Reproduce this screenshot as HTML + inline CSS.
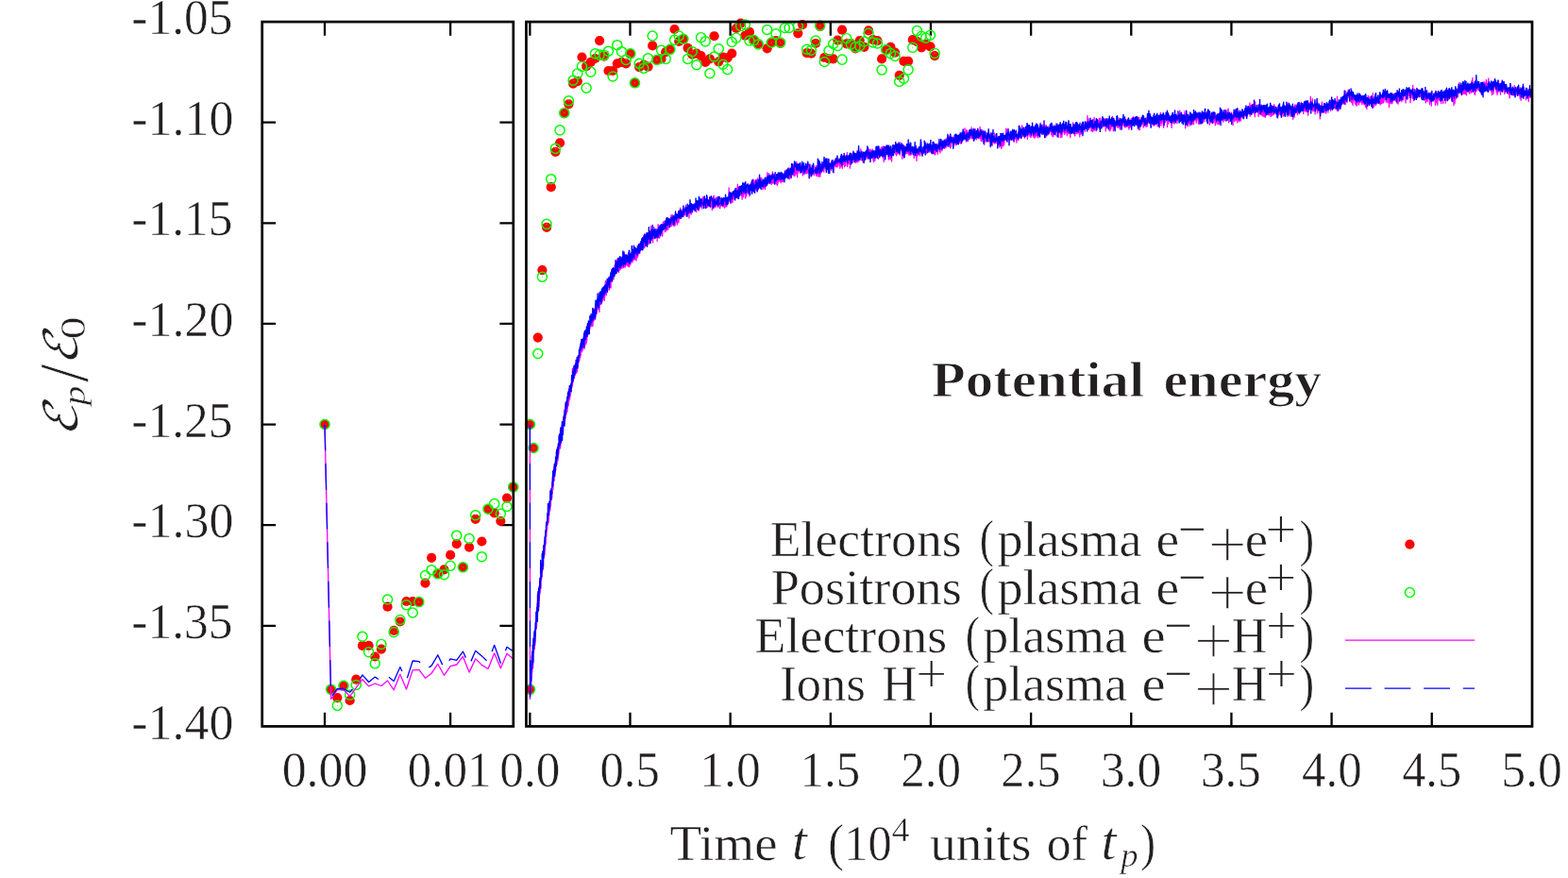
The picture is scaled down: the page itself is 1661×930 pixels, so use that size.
<!DOCTYPE html>
<html lang="en">
<head>
<meta charset="utf-8">
<title>Potential energy</title>
<style>html,body{margin:0;padding:0;background:#fff}body{width:1661px;height:930px;overflow:hidden}svg{display:block}text{vector-effect:non-scaling-stroke}</style>
</head>
<body>
<svg width="1661" height="930" viewBox="0 0 1661 930" role="img" aria-label="Potential energy versus time">
<rect width="1661" height="930" fill="#fff"/>
<path d="M277.7 129.71h14.4M543.8 129.71h-14.4M277.7 236.33h14.4M543.8 236.33h-14.4M277.7 342.94h14.4M543.8 342.94h-14.4M277.7 449.56h14.4M543.8 449.56h-14.4M277.7 556.17h14.4M543.8 556.17h-14.4M277.7 662.79h14.4M543.8 662.79h-14.4M344 23.1v14.7M344 769.4v-14.7M477.1 23.1v14.7M477.1 769.4v-14.7M561.35 23.1v14.7M561.35 769.4v-14.7M667.5 23.1v14.7M667.5 769.4v-14.7M773.66 23.1v14.7M773.66 769.4v-14.7M879.82 23.1v14.7M879.82 769.4v-14.7M985.97 23.1v14.7M985.97 769.4v-14.7M1092.12 23.1v14.7M1092.12 769.4v-14.7M1198.28 23.1v14.7M1198.28 769.4v-14.7M1304.43 23.1v14.7M1304.43 769.4v-14.7M1410.59 23.1v14.7M1410.59 769.4v-14.7M1516.74 23.1v14.7M1516.74 769.4v-14.7" stroke="#000" stroke-width="2.3" fill="none"/>
<defs><clipPath id="cl"><rect x="277.7" y="23.1" width="266.1" height="746.3"/></clipPath>
<clipPath id="cm"><rect x="557.45" y="23.1" width="1065.55" height="746.3"/></clipPath></defs>
<g fill="#f00"><circle cx="344" cy="449.5" r="5.1"/><circle cx="350.65" cy="730.3" r="5.1"/><circle cx="357.31" cy="739.1" r="5.1"/><circle cx="363.96" cy="726.5" r="5.1"/><circle cx="370.62" cy="742" r="5.1"/><circle cx="377.27" cy="719.7" r="5.1"/><circle cx="383.93" cy="683.9" r="5.1"/><circle cx="390.58" cy="683.9" r="5.1"/><circle cx="397.24" cy="695.5" r="5.1"/><circle cx="403.89" cy="687.6" r="5.1"/><circle cx="410.55" cy="642.7" r="5.1"/><circle cx="417.2" cy="667.9" r="5.1"/><circle cx="423.86" cy="658.5" r="5.1"/><circle cx="430.51" cy="637" r="5.1"/><circle cx="437.17" cy="637" r="5.1"/><circle cx="443.82" cy="637.6" r="5.1"/><circle cx="450.48" cy="617.6" r="5.1"/><circle cx="457.13" cy="590.8" r="5.1"/><circle cx="463.79" cy="607.8" r="5.1"/><circle cx="470.44" cy="603.4" r="5.1"/><circle cx="477.1" cy="587.9" r="5.1"/><circle cx="483.75" cy="576.1" r="5.1"/><circle cx="490.41" cy="600.8" r="5.1"/><circle cx="497.06" cy="579.6" r="5.1"/><circle cx="503.72" cy="549.8" r="5.1"/><circle cx="510.38" cy="573.5" r="5.1"/><circle cx="517.03" cy="538.9" r="5.1"/><circle cx="523.68" cy="543.4" r="5.1"/><circle cx="530.34" cy="552" r="5.1"/><circle cx="537" cy="527.6" r="5.1"/><circle cx="543.65" cy="515.9" r="5.1"/><circle cx="561.4" cy="449.5" r="5.1"/><circle cx="561.5" cy="730.3" r="5.1"/><circle cx="565.07" cy="474.5" r="5.1"/><circle cx="569.74" cy="357.6" r="5.1"/><circle cx="574.41" cy="286.1" r="5.1"/><circle cx="579.08" cy="240.8" r="5.1"/><circle cx="583.75" cy="198.2" r="5.1"/><circle cx="588.43" cy="160.8" r="5.1"/><circle cx="593.1" cy="151.3" r="5.1"/><circle cx="597.77" cy="119.7" r="5.1"/><circle cx="602.44" cy="110.3" r="5.1"/><circle cx="607.11" cy="88.6" r="5.1"/><circle cx="611.78" cy="86.2" r="5.1"/><circle cx="616.45" cy="60.5" r="5.1"/><circle cx="621.12" cy="70.2" r="5.1"/><circle cx="625.79" cy="65.8" r="5.1"/><circle cx="630.46" cy="62" r="5.1"/><circle cx="635.13" cy="43.1" r="5.1"/><circle cx="639.81" cy="59.7" r="5.1"/><circle cx="644.48" cy="75" r="5.1"/><circle cx="649.15" cy="75" r="5.1"/><circle cx="653.82" cy="67.3" r="5.1"/><circle cx="658.49" cy="65.8" r="5.1"/><circle cx="663.16" cy="67.3" r="5.1"/><circle cx="667.83" cy="56.8" r="5.1"/><circle cx="672.5" cy="87.8" r="5.1"/><circle cx="677.17" cy="71.1" r="5.1"/><circle cx="681.85" cy="68.7" r="5.1"/><circle cx="686.52" cy="70.7" r="5.1"/><circle cx="691.19" cy="48.4" r="5.1"/><circle cx="695.86" cy="63.4" r="5.1"/><circle cx="700.53" cy="62.4" r="5.1"/><circle cx="705.2" cy="55.2" r="5.1"/><circle cx="709.87" cy="52.3" r="5.1"/><circle cx="714.54" cy="31" r="5.1"/><circle cx="719.21" cy="44" r="5.1"/><circle cx="723.88" cy="41.3" r="5.1"/><circle cx="728.56" cy="50.8" r="5.1"/><circle cx="733.23" cy="57.6" r="5.1"/><circle cx="737.9" cy="56.6" r="5.1"/><circle cx="742.57" cy="59.05" r="5.1"/><circle cx="747.24" cy="65.82" r="5.1"/><circle cx="751.91" cy="62.43" r="5.1"/><circle cx="756.58" cy="38.23" r="5.1"/><circle cx="761.25" cy="65.34" r="5.1"/><circle cx="765.92" cy="60.5" r="5.1"/><circle cx="770.59" cy="61.47" r="5.1"/><circle cx="775.27" cy="56.63" r="5.1"/><circle cx="779.94" cy="30" r="5.1"/><circle cx="784.61" cy="24.68" r="5.1"/><circle cx="789.28" cy="37.75" r="5.1"/><circle cx="793.95" cy="33.88" r="5.1"/><circle cx="798.62" cy="42.59" r="5.1"/><circle cx="803.29" cy="46.46" r="5.1"/><circle cx="812.63" cy="51.3" r="5.1"/><circle cx="817.3" cy="45.49" r="5.1"/><circle cx="821.98" cy="43.07" r="5.1"/><circle cx="826.65" cy="45.98" r="5.1"/><circle cx="845.33" cy="35.33" r="5.1"/><circle cx="850" cy="26.13" r="5.1"/><circle cx="854.67" cy="56.14" r="5.1"/><circle cx="859.34" cy="56.63" r="5.1"/><circle cx="864.01" cy="45.98" r="5.1"/><circle cx="868.69" cy="28.07" r="5.1"/><circle cx="873.36" cy="60.98" r="5.1"/><circle cx="878.03" cy="62.43" r="5.1"/><circle cx="882.7" cy="62.43" r="5.1"/><circle cx="887.37" cy="42.59" r="5.1"/><circle cx="892.04" cy="31.65" r="5.1"/><circle cx="896.71" cy="46.46" r="5.1"/><circle cx="901.38" cy="45.98" r="5.1"/><circle cx="906.05" cy="51.3" r="5.1"/><circle cx="910.72" cy="43.07" r="5.1"/><circle cx="915.4" cy="49.85" r="5.1"/><circle cx="920.07" cy="32.42" r="5.1"/><circle cx="924.74" cy="42.11" r="5.1"/><circle cx="929.41" cy="43.07" r="5.1"/><circle cx="934.08" cy="62.43" r="5.1"/><circle cx="938.75" cy="52.27" r="5.1"/><circle cx="943.42" cy="49.85" r="5.1"/><circle cx="948.09" cy="55.66" r="5.1"/><circle cx="952.76" cy="79.86" r="5.1"/><circle cx="957.43" cy="64.85" r="5.1"/><circle cx="962.11" cy="64.85" r="5.1"/><circle cx="966.78" cy="42.11" r="5.1"/><circle cx="971.45" cy="44.04" r="5.1"/><circle cx="976.12" cy="50.33" r="5.1"/><circle cx="980.79" cy="46.95" r="5.1"/><circle cx="985.46" cy="49.37" r="5.1"/><circle cx="990.13" cy="59.05" r="5.1"/></g>
<g fill="none" stroke="#0f0" stroke-width="1.45"><circle cx="344" cy="449.5" r="5.05"/><circle cx="350.65" cy="730.3" r="5.05"/><circle cx="357.31" cy="747.3" r="5.05"/><circle cx="363.96" cy="726.3" r="5.05"/><circle cx="370.62" cy="736.1" r="5.05"/><circle cx="377.27" cy="725.5" r="5.05"/><circle cx="383.93" cy="674.2" r="5.05"/><circle cx="390.58" cy="690.7" r="5.05"/><circle cx="397.24" cy="702.8" r="5.05"/><circle cx="403.89" cy="682.4" r="5.05"/><circle cx="410.55" cy="635" r="5.05"/><circle cx="417.2" cy="669.6" r="5.05"/><circle cx="423.86" cy="656.5" r="5.05"/><circle cx="430.51" cy="640.8" r="5.05"/><circle cx="437.17" cy="649" r="5.05"/><circle cx="443.82" cy="637.6" r="5.05"/><circle cx="450.48" cy="609.5" r="5.05"/><circle cx="457.13" cy="603.7" r="5.05"/><circle cx="463.79" cy="607.8" r="5.05"/><circle cx="470.44" cy="608.7" r="5.05"/><circle cx="477.1" cy="599.3" r="5.05"/><circle cx="483.75" cy="567.2" r="5.05"/><circle cx="490.41" cy="600.8" r="5.05"/><circle cx="497.06" cy="570.5" r="5.05"/><circle cx="503.72" cy="545.7" r="5.05"/><circle cx="510.38" cy="589.7" r="5.05"/><circle cx="517.03" cy="539.2" r="5.05"/><circle cx="523.68" cy="533.6" r="5.05"/><circle cx="530.34" cy="544.2" r="5.05"/><circle cx="537" cy="536.5" r="5.05"/><circle cx="543.65" cy="515.9" r="5.05"/><circle cx="561.4" cy="449.5" r="5.05"/><circle cx="561.5" cy="730.3" r="5.05"/><circle cx="565.07" cy="474.5" r="5.05"/><circle cx="569.74" cy="374.5" r="5.05"/><circle cx="574.41" cy="293.3" r="5.05"/><circle cx="579.08" cy="237.4" r="5.05"/><circle cx="583.75" cy="189.7" r="5.05"/><circle cx="588.43" cy="157.4" r="5.05"/><circle cx="593.1" cy="137.9" r="5.05"/><circle cx="597.77" cy="119.7" r="5.05"/><circle cx="602.44" cy="106.8" r="5.05"/><circle cx="607.11" cy="85.2" r="5.05"/><circle cx="611.78" cy="77.9" r="5.05"/><circle cx="616.45" cy="70.4" r="5.05"/><circle cx="621.12" cy="93.2" r="5.05"/><circle cx="625.79" cy="76.2" r="5.05"/><circle cx="630.46" cy="56.8" r="5.05"/><circle cx="635.13" cy="58.1" r="5.05"/><circle cx="639.81" cy="58.4" r="5.05"/><circle cx="644.48" cy="54.2" r="5.05"/><circle cx="649.15" cy="81" r="5.05"/><circle cx="653.82" cy="47.7" r="5.05"/><circle cx="658.49" cy="54.7" r="5.05"/><circle cx="663.16" cy="63.4" r="5.05"/><circle cx="667.83" cy="56.8" r="5.05"/><circle cx="672.5" cy="87.8" r="5.05"/><circle cx="677.17" cy="67.3" r="5.05"/><circle cx="681.85" cy="72.3" r="5.05"/><circle cx="686.52" cy="61.7" r="5.05"/><circle cx="691.19" cy="38" r="5.05"/><circle cx="695.86" cy="63.4" r="5.05"/><circle cx="700.53" cy="53.2" r="5.05"/><circle cx="705.2" cy="62.4" r="5.05"/><circle cx="709.87" cy="52.3" r="5.05"/><circle cx="714.54" cy="42.3" r="5.05"/><circle cx="719.21" cy="38" r="5.05"/><circle cx="723.88" cy="41.3" r="5.05"/><circle cx="728.56" cy="62.4" r="5.05"/><circle cx="733.23" cy="54.7" r="5.05"/><circle cx="737.9" cy="68.7" r="5.05"/><circle cx="742.57" cy="39.69" r="5.05"/><circle cx="747.24" cy="43.85" r="5.05"/><circle cx="751.91" cy="77.73" r="5.05"/><circle cx="756.58" cy="60.01" r="5.05"/><circle cx="761.25" cy="51.79" r="5.05"/><circle cx="765.92" cy="68.24" r="5.05"/><circle cx="770.59" cy="73.57" r="5.05"/><circle cx="775.27" cy="44.53" r="5.05"/><circle cx="779.94" cy="40.17" r="5.05"/><circle cx="784.61" cy="27.58" r="5.05"/><circle cx="789.28" cy="26.13" r="5.05"/><circle cx="793.95" cy="43.07" r="5.05"/><circle cx="798.62" cy="42.59" r="5.05"/><circle cx="803.29" cy="46.95" r="5.05"/><circle cx="812.63" cy="31.46" r="5.05"/><circle cx="817.3" cy="45.01" r="5.05"/><circle cx="821.98" cy="35.81" r="5.05"/><circle cx="826.65" cy="45.01" r="5.05"/><circle cx="831.32" cy="29.52" r="5.05"/><circle cx="835.99" cy="29.52" r="5.05"/><circle cx="845.33" cy="27.58" r="5.05"/><circle cx="854.67" cy="52.27" r="5.05"/><circle cx="859.34" cy="53.24" r="5.05"/><circle cx="864.01" cy="43.07" r="5.05"/><circle cx="868.69" cy="27.1" r="5.05"/><circle cx="873.36" cy="65.53" r="5.05"/><circle cx="878.03" cy="53.72" r="5.05"/><circle cx="882.7" cy="46.46" r="5.05"/><circle cx="887.37" cy="48.4" r="5.05"/><circle cx="892.04" cy="63.11" r="5.05"/><circle cx="896.71" cy="40.65" r="5.05"/><circle cx="901.38" cy="46.95" r="5.05"/><circle cx="906.05" cy="49.85" r="5.05"/><circle cx="910.72" cy="48.88" r="5.05"/><circle cx="915.4" cy="44.04" r="5.05"/><circle cx="920.07" cy="35.33" r="5.05"/><circle cx="924.74" cy="45.01" r="5.05"/><circle cx="929.41" cy="45.98" r="5.05"/><circle cx="934.08" cy="74.05" r="5.05"/><circle cx="938.75" cy="52.75" r="5.05"/><circle cx="943.42" cy="56.63" r="5.05"/><circle cx="948.09" cy="59.53" r="5.05"/><circle cx="952.76" cy="86.44" r="5.05"/><circle cx="957.43" cy="83.25" r="5.05"/><circle cx="962.11" cy="73.86" r="5.05"/><circle cx="966.78" cy="50.33" r="5.05"/><circle cx="971.45" cy="32.62" r="5.05"/><circle cx="976.12" cy="38.23" r="5.05"/><circle cx="980.79" cy="40.17" r="5.05"/><circle cx="985.46" cy="37.27" r="5.05"/><circle cx="990.13" cy="56.43" r="5.05"/></g>
<path d="M344 449.5h.01M350.65 730.3h.01M357.31 747.3h.01M363.96 726.3h.01M370.62 736.1h.01M377.27 725.5h.01M383.93 674.2h.01M390.58 690.7h.01M397.24 702.8h.01M403.89 682.4h.01M410.55 635h.01M417.2 669.6h.01M423.86 656.5h.01M430.51 640.8h.01M437.17 649h.01M443.82 637.6h.01M450.48 609.5h.01M457.13 603.7h.01M463.79 607.8h.01M470.44 608.7h.01M477.1 599.3h.01M483.75 567.2h.01M490.41 600.8h.01M497.06 570.5h.01M503.72 545.7h.01M510.38 589.7h.01M517.03 539.2h.01M523.68 533.6h.01M530.34 544.2h.01M537 536.5h.01M543.65 515.9h.01M561.4 449.5h.01M561.5 730.3h.01M565.07 474.5h.01M569.74 374.5h.01M574.41 293.3h.01M579.08 237.4h.01M583.75 189.7h.01M588.43 157.4h.01M593.1 137.9h.01M597.77 119.7h.01M602.44 106.8h.01M607.11 85.2h.01M611.78 77.9h.01M616.45 70.4h.01M621.12 93.2h.01M625.79 76.2h.01M630.46 56.8h.01M635.13 58.1h.01M639.81 58.4h.01M644.48 54.2h.01M649.15 81h.01M653.82 47.7h.01M658.49 54.7h.01M663.16 63.4h.01M667.83 56.8h.01M672.5 87.8h.01M677.17 67.3h.01M681.85 72.3h.01M686.52 61.7h.01M691.19 38h.01M695.86 63.4h.01M700.53 53.2h.01M705.2 62.4h.01M709.87 52.3h.01M714.54 42.3h.01M719.21 38h.01M723.88 41.3h.01M728.56 62.4h.01M733.23 54.7h.01M737.9 68.7h.01M742.57 39.69h.01M747.24 43.85h.01M751.91 77.73h.01M756.58 60.01h.01M761.25 51.79h.01M765.92 68.24h.01M770.59 73.57h.01M775.27 44.53h.01M779.94 40.17h.01M784.61 27.58h.01M789.28 26.13h.01M793.95 43.07h.01M798.62 42.59h.01M803.29 46.95h.01M812.63 31.46h.01M817.3 45.01h.01M821.98 35.81h.01M826.65 45.01h.01M831.32 29.52h.01M835.99 29.52h.01M845.33 27.58h.01M854.67 52.27h.01M859.34 53.24h.01M864.01 43.07h.01M868.69 27.1h.01M873.36 65.53h.01M878.03 53.72h.01M882.7 46.46h.01M887.37 48.4h.01M892.04 63.11h.01M896.71 40.65h.01M901.38 46.95h.01M906.05 49.85h.01M910.72 48.88h.01M915.4 44.04h.01M920.07 35.33h.01M924.74 45.01h.01M929.41 45.98h.01M934.08 74.05h.01M938.75 52.75h.01M943.42 56.63h.01M948.09 59.53h.01M952.76 86.44h.01M957.43 83.25h.01M962.11 73.86h.01M966.78 50.33h.01M971.45 32.62h.01M976.12 38.23h.01M980.79 40.17h.01M985.46 37.27h.01M990.13 56.43h.01" stroke="#0f0" stroke-width="1.1" stroke-linecap="round" fill="none"/>
<g clip-path="url(#cl)" fill="none" stroke-width="1.3" stroke-linejoin="round">
<path d="M344.00 449.50L350.65 740.50L357.31 730.30L363.96 730.80L370.62 737.60L377.27 728.40L383.93 719.70L390.58 726.90L397.24 724.00L403.89 726.50L410.55 721.00L417.20 730.80L423.86 714.20L430.51 730.00L437.17 709.80L443.82 709.30L450.48 718.20L457.13 713.20L463.79 703.30L470.44 715.30L477.10 705.60L483.75 704.00L490.41 695.40L497.06 712.10L503.72 697.90L510.38 704.40L517.03 708.50L523.68 691.80L530.34 707.80L537.00 692.30L543.65 698.10L550.31 693.00" stroke="#f0f"/>
<path d="M344.00 449.50L350.65 738.50L357.31 729.40L363.96 729.50L370.62 733.30L377.27 725.50L383.93 714.90L390.58 722.50L397.24 717.10L403.89 721.40L410.55 716.00L417.20 721.40L423.86 706.60L430.51 720.90L437.17 700.00L443.82 700.60L450.48 709.50L457.13 705.10L463.79 693.80L470.44 707.90L477.10 697.90L483.75 699.40L490.41 690.10L497.06 704.80L503.72 689.30L510.38 694.90L517.03 701.20L523.68 683.30L530.34 702.30L537.00 685.30L543.65 689.90L550.31 685.90" stroke="#00f" stroke-dasharray="27.8 13.8"/>
</g>
<g clip-path="url(#cm)" fill="none" stroke-width="1.3" stroke-linejoin="round">
<path d="M561.4 449.5l.1 291 .1-10.2 .1 .5 .1 6.8 .1-9.2 .1-8.7 .1 7.2 .1-2.9 .2 2.5 .1-5.5 .1 9.8 .1-16.6 .1 15.8 .1-20.2 .1-.5 .1 8.9 .1-5 .1-9.9 .1 12 .1-9.7 .1-1.6 .1-8.6 .1 16.7 .1-14.2 .2 6.5 .1 4.1 .1-16.7 .1 16 .1-15.5 .1 5.8 .1 9.1 .1-13 .1-2.4 .1-13.7 .1 14.2 .1-3 .1-2.4 .1 3.8 .1-.5 .1-9.7 .1 0 .1 1.3 .1 5.7 .1-1.8 .1-11.8 .1 0 .1 9.6 .1 3.7 .1-10.3 .1-4.7 .1 9.1 .1-9 .1 4.9 .1 3.6 .1-6.2 .1-4.2 .1 2.7 .1-8.8 .1 1.6 .1-3.3 .1 1.1 .1-2.6 .1 .7 .1-2.1 .1 1.6 .1-1.2 .1 .2 .1 5.1 .1-17.4 .1 14.8 .1-9.5 .1-6.5 .1 4.8 .1 .4 .1 4.4 .1-12.7 .1 6 .1-1.6 .1-10.9 .1 1.8 .1 8.7 .1-.5 .1 1.2 .1-4 .1-1.7 .1-2.5 .1 4.9 .1-12.1 .1 2.9 .1 1.8 .1-11.5 .1 14.6 .1-12.2 .1 2.9 .1 11 .1-16.9 .1 .7 .1 10.2 .1-15 .1 2.6 .1 4.1 .1-1.2 .1-.2 .1-2.1 .1 4.2 .1-2.6 .1-3.1 .1-7.7 .1-1 .1-7.2 .1 12.7 .1-14 .1 13.2 .1 4.2 .1-16.1 .1 1.1 .1 .2 .1 5.9 .1-9.7 .1 2.9 .1-2.9 .1 .5 .1 7 .1-12.5 .1 4.5 .1 .1 .1 2.1 .1-11.8 .1 11.3 .1-4.4 .1 1.4 .1-5 .1-9.6 .1 4.2 .1 6.5 .1-4.8 .1-1.3 .1 8.4 .1 1.2 .1-12.2 .1 9 .1-20.6 .1-1.1 .1 13.8 .1-6.6 .1 3.4 .1-1.2 .1-3.9 .1 3 .1-3.5 .1-9.2 .1 7.9 .1-1 .1 7.3 .1-15.5 .1 4.9 .1-3.1 .1 .6 .1 8 .1-7.1 .1-5 .1 2.2 .1 2.2 .1-9.5 .1 2.8 .1 8 .1-4.2 .1-5.3 .1-2.9 .1 .7 .1-7.6 .1 11.3 .1-3.8 .1-1.8 .1-7.8 .1 2 .1 5.1 .1-2 .1-4.5 .1 4 .1 1.3 .1-8.5 .1-.1 .1-2.4 .1-2.2 .1 8.6 .1-2.2 .1-1.6 .1-7.9 .1-.1 .1 3.9 .1-2.4 .1 1.8 .1-4.6 .1 5.7 .1 4.8 .1-1.9 .1-.5 .1-7.9 .1 3.3 .1-6.8 .1 5.4 .1-6.7 .1-1.2 .1-1.5 .1 5.7 .1-2.7 .1-1.1 .1-6.9 .1 5.3 .1-8.1 .1 12.9 .1-8.2 .1 .8 .1-2.1 .1-7.5 .1 .2 .1 5.5 .1 6.3 .1-12.7 .1 1.1 .1 2.4 .1-8.3 .1-.8 .1 5.2 .1 .9 .1-2.3 .1 8.1 .1-8.5 .1 1.7 .1 4.9 .1-.3 .1-15.7 .1 4.8 .1 6.3 .1-12.3 .1 1.4 .1-2.4 .1-1.1 .1 .4 .1 5.2 .1 4.2 .1 .4 .1-7.5 .1-9.6 .1 7.8 .1-1.9 .1 2.3 .1-2.8 .1-8.2 .1 9.2 .1-11.8 .1 5.5 .1 3.7 .1-.5 .1 4.7 .1-18.2 .1 11.4 .1 .8 .1-5.1 .1 3.6 .1-8.4 .1 7.1 .1-1.1 .1-7.4 .1 .8 .1 1.4 .1-2.7 .1 6.9 .1-4.4 .1 4.4 .1-1.3 .1-5.4 .1-1.7 .1-3.9 .1 0 .1-.5 .1 4.4 .1-5.9 .1 3.6 .1 0 .1-3.6 .1 .8 .1 6.6 .1 .2 .1-10.9 .1 2 .1-1.3 .1-.1 .1 7.3 .1-4.1 .1 2 .1 1.7 .1-10 .1 .6 .1 .5 .1 3.7 .1-5.3 .1 2.7 .1 1.8 .1-.5 .1-3.6 .1-5.8 .1-3.7 .1 10.9 .1-3.3 .1-6.4 .1 1.3 .1-.2 .1-5.7 .1 7.7 .1-4.9 .1 1.6 .1 3.8 .1-4 .1 2.2 .1-1.1 .1-2.2 .1-.4 .1 7.1 .1-9.1 .1 7 .1-11.2 .1 6.4 .1-2.9 .1-4.3 .1-8.6 .1 17.2 .1-12.1 .1 .3 .1 4 .1-.8 .1 .3 .1-2.7 .1-5.8 .1 9.3 .1-7.9 .1 4.1 .1 .9 .1 2 .1-6.4 .1-.9 .1-.3 .1-7.2 .1 4 .1-1.6 .1-1.2 .1 4.9 .1-2.6 .1 7.3 .1-1 .1-14.4 .1 7.7 .1-5.2 .1 5.8 .1-2.2 .1 2.6 .1-3.2 .1 1.3 .1-4.9 .1-9.6 .1 4.8 .1 .8 .1 .9 .1-2.7 .1 10.2 .1-7.9 .1 5.4 .1-7.2 .1 7.5 .1-12.1 .1 6.7 .1-8.3 .1 6.6 .1 4.1 .1-13.5 .1 2.5 .1 4 .1-2.2 .1-5.3 .1 9.7 .1-4.9 .1 4.5 .1-4.4 .1-6.4 .1 2.3 .1 7 .1-11.6 .1 3.3 .1 3.9 .1 1.2 .1-1.2 .1-9.6 .1 13.8 .1-9.3 .1 .3 .1-.5 .1-1.3 .1-3.3 .1 2.2 .1 6.2 .1-11.1 .1-4.6 .1 11.4 .1-1.2 .1 1.2 .1 3.5 .1-10.1 .1 3.2 .1 .9 .1 2.4 .1-1.2 .1-7.8 .1-2.5 .1 3.9 .1-5.7 .1 10.3 .1-6.4 .1-.3 .1-2.5 .1 9 .1-5.3 .1-3.2 .1 3.6 .1-3.2 .1 2.1 .1 2.4 .1-6.7 .1 2.6 .1-.6 .1 2 .1-2.5 .1-2.7 .1-3.2 .1 3.2 .1-5.7 .1 6.1 .1-2.8 .1 1.4 .1-4.7 .1-1.6 .1-.9 .1 7.3 .1-5.6 .1-.5 .1-6.5 .1 6.2 .1-13.7 .1 18.2 .1-6.7 .1 .6 .1-6.1 .1 .9 .1 6.1 .1-3.6 .1 2 .1 2.8 .1-2.7 .1-10.2 .1 3.1 .1-1 .1 .5 .1-4.8 .1-.3 .1 4.7 .1 .2 .1 3.9 .1-3.5 .1 6.3 .1-12.7 .1 1.4 .1 5.9 .1-2.3 .1-3.1 .1 6.4 .1 .9 .1 .5 .1-6.8 .1 1.1 .1 .6 .1-1 .1 3.3 .1-6.1 .1 2.9 .1-10.1 .1 10.9 .1 3 .1-6.7 .1 3.6 .1-10.5 .1 4.6 .1-4.9 .1 6.6 .1 .4 .1-7.5 .1 1.6 .1 .6 .1 11 .1-9.8 .1 .4 .1 .6 .1-.6 .1-2.4 .1-4.4 .1 2.1 .1 8.3 .1-5.5 .1-2.6 .1-4 .1 4.5 .1 0 .1-2.8 .1 5.4 .1-5.8 .1 1.2 .1 3.5 .1-2.6 .1 3 .1-5.3 .1-1.1 .1 3.1 .1-1.3 .1 3.3 .1-3.2 .1-2 .1 1.5 .1 .4 .1-6.9 .1 3.3 .1-1 .1 5.3 .1-6.6 .1 5.4 .1-8.9 .1 4.1 .1 3.8 .1-5.2 .1 4.8 .1-12.1 .1 7.3 .1 .1 .1-1.4 .1-5.4 .1 7.7 .1-11.4 .1 11.8 .1-2.8 .1 2.2 .1-4.8 .1-3.5 .1 1.9 .1-.1 .1 3.5 .1-3.6 .1 2.4 .1-.1 .1 3.1 .1-12.7 .1 5.5 .1 3.7 .1-.3 .1-4.8 .1 .8 .1 .3 .1 .6 .1-2.8 .1-.6 .1-2 .1 2.4 .1 6.2 .1-8.7 .1 6.7 .1 3.2 .1-6.5 .1 7.6 .1-9.4 .1 6.3 .1-6.4 .1-4.5 .1 5.4 .1 5.3 .1-9.2 .1 3.6 .1-5.6 .1 .1 .1 4.6 .1-2.6 .1 2.4 .1 2.2 .1-9.1 .1 1.5 .1 2.3 .1 7.9 .1-9.8 .1-.9 .1 3 .1 5.7 .1-10 .1 .6 .1 .9 .1 2.3 .1 4.8 .1-12.7 .1-1.8 .1 6.2 .1 1 .1-10.2 .1 5.4 .1 5.3 .1-5.6 .1 3.3 .1-1.4 .1 1.4 .1-1.1 .1-.9 .1 3.2 .1-6.7 .1 2.2 .1 3.3 .1-6.3 .1 .4 .1-1.6 .1-.9 .1 10.4 .1-5.8 .1 4.8 .1-4.3 .1-2.6 .1-1.4 .1 1.7 .1-1.3 .1 3.2 .1-6.5 .1 3.5 .1 .8 .1-2.6 .1-.2 .1 2.5 .1-.1 .1-2.6 .1 .1 .1-2.1 .1 3.8 .1-2.6 .1-5.4 .1 4.3 .1 3 .1-1.4 .1-4.4 .1 5.5 .1-.7 .1-.2 .1 3 .1-6.8 .1 3 .1-3.3 .1 4.2 .1 .3 .1-2.6 .1 .6 .1-5.7 .1 4.8 .1-6.7 .1 11.6 .1-3.9 .1-9.7 .1-4.2 .1 13.7 .1-7.9 .1 4.7 .1-6.8 .1 4.6 .1-2.8 .1 4.1 .1-3.5 .1 6.1 .1-8.1 .1 6.9 .1-4.8 .1 1.7 .1-7.7 .1-.8 .1 9.6 .1-8.2 .1 2.8 .1-.2 .1-2.2 .1 3.6 .1-5.9 .1 .5 .1 7.1 .1-6.3 .1 5.2 .1-.6 .1 2.7 .1-3.9 .1-8.3 .1 3.9 .1 .5 .1 5.5 .1-3.4 .1-3.2 .1 3 .1-3.1 .1 2.9 .1-1.7 .1 3.1 .1-3 .1 2 .1-3.8 .1 2.2 .1-3.3 .1 2.5 .1-1.8 .1-1.5 .1-1.3 .1 .2 .1 2.3 .1-9.9 .1 12 .1-12.8 .1 7.2 .1-.7 .1 3.4 .1-2 .1-1.3 .1 .2 .1 2.7 .1 4.6 .1-7 .1-8.7 .1 5.4 .1 2.7 .1 9.8 .1-14.3 .1 1.1 .1 3 .1-1 .1-5.9 .1 7.7 .1-8 .1 3.5 .1 5.3 .1-9.2 .1 3.2 .1 6.8 .1-6.8 .1-2.8 .1 1.5 .1 4.8 .1-8.4 .1 3.1 .1-3 .1 .9 .1 8.3 .1-4.8 .1-1.3 .1 2.8 .1-4 .1-1.8 .1 7.9 .1-1.1 .1-6 .1 5.1 .1 2.5 .1-3.5 .1-.2 .1-6.1 .1 3.6 .1-6.1 .1 10 .1-4.6 .1 4.9 .1-7.4 .1 5.4 .1-8.7 .1 3.8 .1 3.1 .1-.9 .1-1.7 .1-5.7 .1 9.9 .1-2.5 .1 1.4 .1-.3 .1-5.4 .1 2.4 .1 7.5 .1-12.3 .1 4.1 .1-3.6 .1 7.7 .1-5.7 .1-4.4 .1 1.3 .1-3 .1-3.3 .1-1.7 .1 6.6 .1-1.6 .1 4.2 .1-3.5 .1 3.4 .1 5.1 .1-10.4 .1-.3 .1 7.3 .1 4.5 .1-11.2 .1-3 .1 4.6 .1-.6 .1 3.7 .1-6.3 .1 2.6 .1-.4 .1-4.5 .1-.2 .1 6.8 .1 .2 .1-4.8 .1 7.9 .1-2.3 .1-1.8 .1 .3 .1-1.1 .1 1.1 .1 .4 .1-3 .1-7.4 .1 6.3 .1-2.5 .1-1.4 .1 6 .1-8.4 .1 8.8 .1-5.2 .1-2.3 .1 1.1 .1 10.8 .1-3.2 .1-6.2 .1 4.4 .1 2.3 .1-9.3 .1 1.8 .1 3.9 .1-2 .1-2.8 .1 6.6 .1-4 .1 .7 .1 5.3 .1-6.7 .1 7.2 .1-8.3 .1-1.8 .1 .8 .1 2.4 .1-1 .1-1.2 .1-6.6 .1 1.2 .1 2.6 .1 3.3 .1 2.2 .1-13.4 .1 7.6 .1-1.3 .1 1 .1 .9 .1-3.7 .1-1.8 .1 7.9 .1-1.1 .1-4.2 .1 .9 .1-2.1 .1-2.7 .1 6.9 .1-4.7 .1-1.8 .1 1.6 .1 7.5 .1-4.4 .1-.9 .1-.7 .1 2.4 .1-.7 .1-7.3 .1 3.4 .1-1.7 .1 2.7 .1-1.2 .1-6.9 .1 10.5 .1-3.3 .1-7.1 .1 9.6 .1-3.7 .1 .9 .1-1.7 .1 .2 .1-2.6 .1-4.2 .1 3.4 .1 2.5 .1-.7 .1 1.8 .1-2.7 .1-7.5 .1 9.9 .1-5.4 .1-2 .1 3.3 .1-3.8 .1 5.7 .1-4.5 .1 9.6 .1-7.6 .1-1.2 .1-.5 .1-5.2 .1 4.3 .1 .2 .1 1.4 .1-6.6 .1 7.6 .1 4.2 .1-5.9 .1 1.2 .1 1.5 .1-4.2 .1 1.2 .1 4.6 .1-2.6 .1-4.8 .1-2 .1 13.8 .1-6.3 .1-6.9 .1 5.8 .1 1.7 .1-1.9 .1-6.8 .1 12.4 .1-4.1 .1-2.7 .1 2.9 .1-3 .1-.4 .1 4.1 .1-9.7 .1 10 .1-2 .1 1.2 .1 .5 .1 2.1 .1-.4 .1-2 .1-4.3 .1 3.6 .1-4 .1-1.7 .1 4.7 .1-.4 .1 2.8 .1-11.3 .1 9.1 .1 .2 .1-1.9 .1 4.5 .1-8 .1 4 .1-2.5 .1 1.1 .1-3.3 .1 2.7 .1 2.7 .1-2 .1 .7 .1-3.8 .1 7.8 .1-7.8 .1 2.4 .1 1.8 .1-2.7 .1 3.1 .1-2 .1 5 .1-4 .1-.6 .1-4.1 .1 4.2 .1 1.7 .1-2.1 .1-4.6 .1 1.3 .1 .9 .1 .8 .1-4.8 .1 10.9 .1-6.7 .1 .7 .1-1.9 .1 1.3 .1 6.5 .1-9.7 .1 1.4 .1-1.7 .1 1.5 .1 6.9 .1-7.2 .1 .5 .1-4.5 .1 4.7 .1 2 .1-2.5 .1 .3 .1 3.9 .1-.9 .1-2.2 .1-2.3 .1-2.5 .1 10.6 .1-10.8 .1 7.3 .1-2.9 .1-1.8 .1 5.3 .1-5.4 .1 6.6 .1-7.6 .1 5 .1 2.6 .1-7.5 .1 10.2 .1-4.1 .1-10.2 .1 11.9 .1 1.8 .1-7.2 .1 .2 .1 1.9 .1-7.5 .1 6.8 .1 2.7 .1-4.9 .1 5.5 .1 3.6 .1-13.7 .1 .5 .1 3.6 .1 4.5 .1-.9 .1-4.3 .1-.8 .1 1.3 .1 8 .1-8.8 .1 1.1 .1 5.1 .1-4.2 .1-2.5 .1 7.9 .1-3.7 .1-3.5 .1 .9 .1 4.2 .1-4.4 .1 1.9 .1 2 .1 .2 .1-9.5 .1 4.3 .1 .4 .1 1.3 .1 2 .1 1.2 .1-5.5 .1-2.2 .1 4.1 .1-2.7 .1 7.6 .1-4.7 .1-1.1 .1 3 .1-5.5 .1 .9 .1 .5 .1 2.7 .1 2 .1-1.7 .1-.2 .1-3.3 .1 1.9 .1-2 .1 4.5 .1-5.9 .1 1.8 .1 1 .1 1.8 .1-5 .1 1.6 .1-1.9 .1-1.8 .1 8 .1-2.1 .1-6.4 .1 1.7 .1 5 .1-3.8 .1-1.5 .1 7.5 .1-5.7 .1 .3 .1 3 .1-4.2 .1 2.4 .1 .4 .1 1.8 .1-4.9 .1 5.9 .1-2.6 .1 4.6 .1-5.3 .1-2.7 .1-.1 .1-2.2 .1 3.6 .1-.4 .1 2.9 .1-2.8 .1-3.2 .1 5.9 .1-5 .1 2.1 .1 3.7 .1-.8 .1-6.8 .1 1.9 .1 4.5 .1-1.3 .1-1.7 .1 .9 .1-10.1 .1 5.9 .1-4 .1 2.5 .1 .6 .1 2.6 .1 2.1 .1-1.4 .1-1.9 .1-2.2 .1 5.2 .1-3.5 .1-6.9 .1 5.4 .1 1.7 .1-4.9 .1 3.7 .1 4.1 .1-6 .1 .5 .1-.1 .1-3.2 .1 1.5 .1-1.9 .1 2.2 .1-1.8 .1 5.6 .1-3.7 .1 3 .1-7 .1 3.9 .1 1.8 .1 .3 .1-4.5 .1 1.5 .1 .6 .1-1.6 .1-.4 .1 2.9 .1-5.7 .1-2.2 .1 4.2 .1 2.4 .1-8.6 .1 11.8 .1-4.2 .1 1.5 .1-4.8 .1 2.5 .1 6 .1 0 .1-4.1 .1-3.1 .1 .5 .1 4.5 .1-6.7 .1-.8 .1 2.5 .1 3.3 .1-6.6 .1 4.6 .1 0 .1-.9 .1-1 .1 3.4 .1-1.2 .1-6.7 .1 10 .1-3.8 .1-.5 .1-2.3 .1 .1 .1-7.4 .1 7.5 .1 2.6 .1 0 .1-4.3 .1-5.6 .1 4 .1 2.6 .1 5.1 .1-9.6 .1 5.3 .1 1.8 .1 0 .1-2.4 .1-8.9 .1 11 .1-1.6 .1 1.2 .1-4.9 .1 1.4 .1 6.5 .1-5.4 .1 .2 .1-2.4 .1 6.4 .1-9.6 .1 3.5 .1 3.1 .1-1.7 .1 3 .1-1.6 .1 3.2 .1-5.6 .1 .2 .1 1.3 .1-6.9 .1 10.4 .1-7.8 .1 6.6 .1 .9 .1-1.5 .1-2.8 .1-2.8 .1-5.1 .1 8.7 .1-2.7 .1 6.3 .1-6.8 .1 3 .1-3.6 .1 2.7 .1-2.7 .1 .4 .1-5.7 .1 3.7 .1 1.7 .1 4.6 .1-3.4 .1-5 .1 9.1 .1-4.2 .1 2.5 .1-6.8 .1-7.9 .1 8.1 .1-.9 .1 4.1 .1-6 .1 2.1 .1-1.6 .1 4.9 .1-3.5 .1 7.5 .1-1.9 .1 .1 .1-3.5 .1 1.4 .1 2 .1-5.6 .1 6.8 .1-4.4 .1 4.4 .1 3.2 .1-2.3 .1-8.8 .1 7.5 .1-5.1 .1-.4 .1 .6 .1-3.1 .1 4.6 .1-3.2 .1 6 .1-2.7 .1-9.6 .1 5.3 .1-.2 .1 1 .1 0 .1 2.8 .1-1.2 .1-3.1 .1 5 .1 1.5 .1-3 .1 3.8 .1-2.5 .1-3.3 .1 .5 .1 1.3 .1 1.7 .1-1.2 .1 2.6 .1 .5 .1-7.1 .1-.5 .1 3.4 .1 1.8 .1 1.4 .1-.9 .1-.1 .1-5.1 .1 4.2 .1-3.4 .1 3.5 .1 1.5 .1-5.2 .1 1.4 .1 8.7 .1-10.5 .1 .7 .1-2 .1-1.2 .1 7.9 .1-5.5 .1 .1 .1-.7 .1-6.6 .1 11.5 .1-4.3 .1 1.6 .1 4.5 .1-5 .1 .8 .1 .1 .1 3.5 .1-8.6 .1 2.4 .1-5.3 .1 7.1 .1 1.9 .1-3.6 .1 7.9 .1-3.5 .1 3.1 .1-5.9 .1 5.2 .1-7.6 .1 2.9 .1-1.1 .1-1.9 .1 6.7 .1-1.2 .1-6.7 .1 4.4 .1-2 .1 .1 0 1.4 .2-3.8 .2 2 .2 .1 .2-3.1 .2 .1 .2 4.3 .2-2.9 .2 7.4 .2-.8 .2-9.5 .2 3.2 .2-7.7 .2 4.3 .2-1 .2 .3 .2-4.6 .2 7.7 .2-.5 .2-3.2 .2 2.2 .2 3.1 .2 2.1 .2-9.8 .2 9.4 .2-11 .2 2.7 .2 1.2 .2 6.1 .2-3.2 .2-.4 .2 3 .2-4.6 .2-2.4 .2 6 .2-5.7 .2-3.6 .2-1.7 .2 6 .2 5.4 .2-3.9 .2-2.4 .2 3.6 .2-9 .2 6.1 .2-3.3 .2 6 .2-7.4 .2 5.2 .2-2.1 .2-.7 .2 2.1 .2-2.8 .2 5 .2-5.5 .2-6.4 .2 11.7 .2-.5 .2-2.7 .2 2.8 .2-2.3 .2-5 .2-4 .2 3.3 .2 2.4 .2 2.6 .2-6.3 .2 1.6 .2 7.8 .2-7.2 .2-.1 .2-.8 .2 8.3 .2-2.8 .2 .3 .2 2.4 .2-2.3 .2 1.1 .2-3.3 .2 1.5 .2-.9 .2 .1 .2-6.2 .2 2.9 .2-.6 .2-1.1 .2 1.8 .2 5.8 .2-3 .2-3 .2 .6 .2 3.2 .2-8.8 .2 4.9 .2 3.8 .2 .1 .2-3.2 .2-1.4 .2-8 .2 3.2 .2 1.9 .2 1.1 .2-.2 .2-9 .2 5.4 .2 2.4 .2-3.6 .2 1.6 .2 2.2 .2-.8 .2-.6 .2 1.7 .2 1.1 .2-4.8 .2-2.6 .2 1 .2 .6 .2 1.3 .2-4.9 .2 2.3 .2 1.5 .2 5.1 .2-2.8 .2-2.2 .2 3.2 .2-2.3 .2 .2 .2 2.6 .2-2.3 .2-.6 .2 1.8 .2-4.1 .2 1.9 .2-7 .2 5.4 .2 6.3 .2-6.2 .2 1.1 .2-1.4 .2-2.1 .2 4.8 .2-1.7 .2 3.5 .2-6.5 .2 2.9 .2-1.2 .2-.9 .2 5.3 .2-6 .2 0 .2 10.3 .2-8.5 .2-.6 .2 2 .2-4.9 .2 4.1 .2-5.1 .2 2.1 .2-.5 .2 6.1 .2-2.5 .2 3.8 .2-.7 .2-7.7 .2 3.8 .2-3.2 .2-.7 .2 5.8 .2 .6 .2-4.3 .2 .6 .2-.2 .2 0 .2 0 .2-4.4 .2 5.1 .2-4.2 .2-1.7 .2 3.3 .2 1.2 .2 1.8 .2-1.5 .2-.3 .2-3.1 .2 3.3 .2-.6 .2 .2 .2-3.4 .2 7.8 .2-3.1 .2-.3 .2-2 .2-1.3 .2 3.9 .2-7.4 .2 2.7 .2 .5 .2 2.7 .2-2.9 .2 5.4 .2-10.3 .2 10.6 .2-4.1 .2 1.9 .2-4.8 .2 4.8 .2-4.5 .2 1.7 .2-5.7 .2 6.3 .2-1.5 .2-6.7 .2 5.6 .2-.9 .2 3.5 .2-5 .2 2.6 .2 3.3 .2-7.1 .2 8.7 .2-5.4 .2-1.6 .2-3.8 .2-1.4 .2 8.7 .2-4.7 .2-.6 .2 5.4 .2-1.3 .2-1.9 .2-5.1 .2-1.6 .2 9.2 .2-3.2 .2-.8 .2 7 .2-7.6 .2 2.5 .2 5.7 .2-4.9 .2-3.8 .2-.9 .2 6.7 .2-7.8 .2 6.7 .2 2.7 .2-5.5 .2 3.1 .2-2.3 .2 4.4 .2-3.6 .2-3.1 .2 3.4 .2-.6 .2-2.5 .2 1.3 .2-3.2 .2 1.2 .2 4.8 .2-8 .2 6.9 .2-.8 .2-1.9 .2 6.5 .2-2.3 .2-4 .2 2.7 .2 2.4 .2-8 .2 5.9 .2-1.4 .2 2.1 .2 5.6 .2-8.9 .2 1.1 .2-2.8 .2 4.6 .2 1.3 .2-9.9 .2 12.6 .2 .4 .2-13.8 .2 3.7 .2 6.3 .2-1.2 .2 3.4 .2-4.8 .2 5 .2-8.6 .2 5.6 .2-2.8 .2-.2 .2-4.4 .2 4.3 .2 5.7 .2-6.7 .2 1.3 .2 1.1 .2-3.6 .2 3.9 .2 1 .2-2.6 .2-5.2 .2 11 .2-4.7 .2-.2 .2-.5 .2-1.2 .2-3.3 .2 5.3 .2 .7 .2 2.9 .2 2.2 .2-7.5 .2 7.6 .2-4.7 .2 1.6 .2-5 .2 4.4 .2-4.1 .2 5.3 .2-6.2 .2 4.2 .2-1.4 .2 2.5 .2-.3 .2-.3 .2-2.1 .2 4.4 .2-.9 .2-4.3 .2 5 .2-4.5 .2 2.4 .2-.6 .2 0 .2 2.9 .2-8.5 .2 9.8 .2-9.9 .2 9.5 .2-2.4 .2-6.8 .2 5.7 .2-2.4 .2-3.1 .2 7.4 .2-.6 .2-2.6 .2 3.9 .2-5.2 .2-1.6 .2 4.9 .2-6.9 .2 4.8 .2 .8 .2-3.2 .2-.6 .2 1 .2-1 .2-3.3 .2-9.6 .2 9.7 .2-3.4 .2 7.7 .2-4.9 .2 2 .2 1.4 .2 .7 .2-6.6 .2 9.9 .2-4.2 .2-1 .2-5.1 .2 9.4 .2-4.5 .2 1.5 .2-4.6 .2 7.1 .2-1.4 .2-5.2 .2 6.8 .2-9.9 .2 6.2 .2-.7 .2 0 .2-4.5 .2 1 .2 4.3 .2 .2 .2-3.7 .2-.7 .2-1 .2 6 .2-5 .2-1.4 .2-4.5 .2 .2 .2 1.9 .2-3.2 .2 5.1 .2 .1 .2-2.6 .2 1.7 .2 .8 .2-5.7 .2 7.8 .2-11.5 .2 15.1 .2-11.3 .2 4.7 .2-1.4 .2 2.3 .2-3.8 .2 4.1 .2-6.8 .2 7.5 .2-3.4 .2 2.2 .2 2.2 .2-7.2 .2 2.1 .2-.4 .2 2.2 .2 .9 .2 2 .2-1.6 .2-1.1 .2 2.4 .2 1.6 .2-.1 .2 3.8 .2-8.8 .2 2.8 .2-5.1 .2 2.1 .2 4.2 .2 2.1 .2-5.8 .2 3.1 .2-1.4 .2 1.3 .2-1 .2-2.4 .2-5.8 .2 2.3 .2 5.9 .2-1.6 .2 6.9 .2-6.7 .2 2.7 .2-6.9 .2-.8 .2 5.1 .2 4.6 .2-4.2 .2-2.5 .2 2.2 .2 .5 .2-.7 .2-1.5 .2-3.7 .2-.4 .2 1.9 .2 1.1 .2-4 .2 9.2 .2-3.3 .2-3.8 .2 4 .2 5.3 .2-7.2 .2-.2 .2 2.4 .2-7.9 .2 2.4 .2-.8 .2 4.8 .2-8.1 .2 6.3 .2-2.7 .2 .5 .2-1.1 .2 6.4 .2-7.6 .2-1.2 .2 4.7 .2-3 .2 3.4 .2-2 .2 .2 .2-.1 .2-5.7 .2-1.2 .2 12.8 .2-10.3 .2 5.3 .2-5.4 .2 3.1 .2-.7 .2 5.4 .2-5.4 .2-4.5 .2 .3 .2 5.4 .2 1.7 .2 3.6 .2 .3 .2-11.5 .2 4.1 .2-3.5 .2 4.7 .2 1.7 .2-8.5 .2 8.6 .2-.4 .2-3.2 .2-1.1 .2 7.2 .2-5.9 .2-3.1 .2 3.7 .2 2.9 .2-1.3 .2-8.7 .2 1.8 .2 2.9 .2 1.7 .2-.1 .2-4.6 .2 7 .2-1.4 .2-6.5 .2 2 .2 2.9 .2-4.4 .2 5.1 .2 .6 .2-1.7 .2 3.4 .2 4.1 .2-7.9 .2 3.8 .2-3 .2 6.4 .2-.9 .2-4.1 .2-2.1 .2 4.4 .2-2.9 .2-3.9 .2 .5 .2 2.5 .2 7.2 .2-3.7 .2 .7 .2-1.6 .2 1.2 .2 .1 .2-8.6 .2 5.3 .2-.2 .2-.6 .2-.5 .2-9.6 .2 8.5 .2-5.1 .2 7.3 .2-4.9 .2 .7 .2 .6 .2-6.4 .2 6 .2-3.6 .2 7.2 .2-4.8 .2-1.9 .2 7.7 .2-4.9 .2-2.1 .2 2.8 .2-.3 .2 1.4 .2-4 .2 6.6 .2-2.4 .2 4.1 .2-3.5 .2-5 .2 6.5 .2-4.3 .2 1.1 .2-8.3 .2 3.8 .2 8.4 .2-.9 .2-9.1 .2 6.7 .2 0 .2 3 .2-7.5 .2-2 .2 6.7 .2-3.1 .2 .3 .2-.8 .2 6.9 .2-6.6 .2 5.9 .2-1 .2-4 .2 5.4 .2 1 .2-2.8 .2-1.8 .2 3.3 .2-4.8 .2 4.1 .2 3.3 .2-9.2 .2-1.5 .2 8.1 .2-5.2 .2 1.3 .2 1.8 .2-2.6 .2 2.3 .2-3.7 .2 1.3 .2 1.2 .2 1.9 .2-3.2 .2 2.3 .2 .7 .2-.5 .2-2 .2 4.4 .2-6.7 .2 5.7 .2-.3 .2-.4 .2-4.6 .2 4.6 .2-1.7 .2-5.2 .2 2.4 .2-3.4 .2 5.2 .2 3.1 .2-1.8 .2-6.4 .2-.3 .2 2.4 .2-.2 .2 2.6 .2-3.7 .2 4.4 .2-5.5 .2 4.8 .2-8.1 .2 2.7 .2 1.7 .2 2.4 .2-1.1 .2-4.5 .2-1.4 .2 4 .2-.2 .2-1 .2 1.1 .2-4.2 .2 5.8 .2 1.5 .2-6.1 .2 .1 .2 6.5 .2-.7 .2-6.1 .2 .2 .2-3.6 .2 7 .2-1.2 .2-.8 .2 7 .2-8 .2 0 .2 1 .2-1.6 .2 4 .2-4.2 .2 .8 .2 6.7 .2-9.1 .2-2 .2 4.2 .2-2.5 .2-.1 .2 2.7 .2 1.9 .2-7.7 .2 4.2 .2-6.1 .2 9.6 .2-6.3 .2 5.3 .2 3.7 .2-1.5 .2-3 .2-7.8 .2 12.4 .2-7.4 .2 3.8 .2-4.2 .2 .7 .2 5.9 .2-10.6 .2 1.3 .2 2.9 .2 4.2 .2-11.5 .2 12 .2-5.4 .2 3.5 .2 6.1 .2-6.9 .2 1.9 .2 .9 .2-5.3 .2 1.4 .2-1 .2 1.2 .2-1.7 .2-.7 .2-.4 .2 4.4 .2-6.8 .2 4.6 .2 4 .2-8.9 .2-1.2 .2 7.8 .2-4.7 .2 .3 .2 4.4 .2-.9 .2-3.1 .2 1.3 .2-3.5 .2 3 .2 1.8 .2 2.2 .2 .3 .2 3.9 .2-5.7 .2 3.6 .2-2.3 .2-3.9 .2 4.1 .2 .1 .2 1 .2-.6 .2-1.3 .2-3.4 .2 1.7 .2 1.7 .2 1 .2 .4 .2-1.6 .2 .7 .2 2.4 .2-4 .2-2.5 .2-2.9 .2 4.6 .2 1.9 .2-3.2 .2 5.9 .2-7.4 .2 1.6 .2 1.1 .2-3.8 .2 7.2 .2-5.5 .2-1.3 .2-2 .2 8.8 .2 1.3 .2-7.3 .2-1.3 .2 3.2 .2 1.5 .2-1.5 .2 3.3 .2-4.8 .2 10.2 .2-5.3 .2 2.2 .2-4.4 .2 4.6 .2 2.4 .2-7.5 .2 2.9 .2 3 .2-1.8 .2-3.9 .2 1.4 .2 3.4 .2-.7 .2-3.1 .2 3.2 .2-8.1 .2 7.4 .2 2.9 .2-.1 .2-4.4 .2 2.3 .2-.1 .2-1.1 .2-2.2 .2-2 .2 2.6 .2-2 .2-2.9 .2 10.5 .2-8.7 .2 2.5 .2-.2 .2-3.6 .2 6.4 .2-6.7 .2 11 .2-10.4 .2 1.7 .2 1.8 .2-.2 .2 .2 .2 3.4 .2 .6 .2 3.2 .2-11.2 .2 7.2 .2-1.3 .2-3.3 .2-3.4 .2 11.9 .2-3.9 .2-9.7 .2 10.6 .2-3.5 .2-.7 .2 1.8 .2-4.6 .2 1.5 .2 3.4 .2-6.8 .2-.8 .2-1.1 .2 7.8 .2-6 .2 2.2 .2-.7 .2 3.4 .2-.9 .2-3.9 .2 7 .2-3.2 .2-.4 .2-2.7 .2 .2 .2 .2 .2 .7 .2 1.2 .2-.1 .2-2.3 .2 .4 .2 2.5 .2 1.5 .2 .1 .2-4.2 .2-4.1 .2 4.6 .2-.1 .2-.3 .2 1.3 .2-3.3 .2 1.9 .2-7.9 .2 13.2 .2-5.7 .2-1.1 .2 2.7 .2-2.5 .2-1.6 .2 5 .2-2.4 .2-2.4 .2 4.4 .2-.8 .2-.2 .2-2.2 .2 4.4 .2-6.4 .2 5.6 .2 2.2 .2-7.8 .2 3.7 .2-6.5 .2 5.8 .2-5.6 .2 1.2 .2 4.9 .2 2.8 .2-1.8 .2-2.4 .2-1.9 .2 2.5 .2 7.6 .2-3.3 .2-8.9 .2 1.9 .2-2.5 .2 6.3 .2-2.8 .2-4.2 .2 4.3 .2-1.2 .2-2 .2 2.1 .2 3.8 .2-6 .2 1.7 .2-3.7 .2 3.1 .2 5.6 .2-2.8 .2-4.1 .2 .2 .2 5.9 .2-4.5 .2-1.3 .2 5.3 .2-5 .2-1 .2 3.7 .2-5.5 .2 2.9 .2-1.1 .2 3 .2-.8 .2 6.3 .2-3.6 .2-2.2 .2 1.8 .2-2.6 .2 1.5 .2 1 .2-.4 .2 2.9 .2-2.8 .2-4.1 .2 3 .2-4.6 .2 10.1 .2-12.7 .2 5.5 .2 1.9 .2-4.7 .2 1.5 .2 4.5 .2-7.3 .2 6.8 .2-3.9 .2-.5 .2 7.4 .2-4 .2-1.4 .2-2.2 .2 1.3 .2-1.2 .2 6.3 .2-5.4 .2-3.1 .2 .7 .2 2.8 .2-4.9 .2 1.1 .2-2.8 .2-2.3 .2 14.7 .2-8 .2 6.5 .2-3.9 .2-.8 .2-4.5 .2 3.5 .2 .7 .2-3.4 .2 5.2 .2 1.7 .2-2.5 .2-.9 .2-6.2 .2 14.4 .2-6.6 .2-6.3 .2-.1 .2 1.5 .2-1.2 .2 3.2 .2-3.1 .2 3.1 .2-2 .2 .4 .2-3.1 .2 4.3 .2 .2 .2-3.6 .2-2.8 .2 5.4 .2-6 .2 3.2 .2 4 .2 2.6 .2-4.9 .2 2.1 .2 3.2 .2-7.5 .2 2.2 .2 2.4 .2 3.5 .2-7.9 .2 0 .2 7.1 .2 .9 .2-5.9 .2 2.3 .2 2.8 .2-3.8 .2-5.6 .2 6.7 .2 2.2 .2-7.4 .2 8.1 .2-5.5 .2-5.1 .2 6.2 .2-6 .2 9.1 .2-3.2 .2 3.9 .2-11.5 .2 5.5 .2 4.1 .2-1.1 .2-2 .2-1 .2 .7 .2 1.1 .2 2.5 .2-11.6 .2 2.4 .2 1.4 .2 2.5 .2 .6 .2-2.4 .2 1 .2 2.8 .2 1.4 .2-6.4 .2 1.8 .2 1 .2 8 .2-10.2 .2 3.2 .2-.9 .2-1.5 .2 4.5 .2-3.3 .2-1.3 .2 1.8 .2 .7 .2-2.9 .2-.3 .2 6.1 .2-5.5 .2 4.9 .2-3.4 .2-2.2 .2-.9 .2-1.8 .2 7.7 .2-.1 .2-3.5 .2-2.2 .2 1.7 .2 2.2 .2 3.6 .2-6.2 .2-3.4 .2 6.1 .2-2 .2-1.6 .2-3.4 .2 7.9 .2 2.6 .2-7.9 .2-1.6 .2 3 .2 .8 .2 2.6 .2-1.4 .2-5.8 .2 6.4 .2 .2 .2-2.6 .2 2.7 .2-5.2 .2 3.3 .2-3.2 .2 4.5 .2 2.5 .2-8.7 .2 6.5 .2 2.3 .2-1.5 .2 4.4 .2-5.3 .2 7.2 .2-6.6 .2-4.2 .2 3.5 .2-1.7 .2 6.1 .2 1.4 .2 .3 .2-3 .2-2.9 .2-1.5 .2-1.8 .2 5.7 .2-6.3 .2 3.1 .2 1.4 .2 .6 .2-6.1 .2 .3 .2 0 .2 6.3 .2-6.6 .2 .5 .2 4.6 .2 .8 .2 2.9 .2-6.4 .2 2.8 .2-9 .2 7.6 .2 .6 .2 .1 .2-4.8 .2 6 .2 .6 .2-5.3 .2 .1 .2-1.3 .2 .1 .2 1 .2-4.1 .2-.3 .2 3.7 .2-.8 .2 4.9 .2-3.6 .2-2.4 .2-2.5 .2 4.8 .2-2.3 .2-2.3 .2 12 .2-12.4 .2 11.6 .2 4.6 .2-9.7 .2-1.9 .2 3.5 .2-5.2 .2 3.4 .2 1.7 .2-6.7 .2 8.9 .2-4.9 .2 .6 .2 3.2 .2-8.9 .2 .5 .2 5 .2 .3 .2-2 .2 .5 .2-.3 .2-2.2 .2-1 .2 2 .2 3 .2 1.2 .2-5.3 .2 9.8 .2 2.2 .2-6.8 .2-3.2 .2 2.1 .2 3.2 .2-2.9 .2 6.4 .2-7 .2 3.9 .2-1.6 .2 5.7 .2-6.1 .2 .1 .2-4.4 .2 1.8 .2-3.7 .2 14.5 .2-10.4 .2-1 .2 .5 .2 1 .2 .3 .2-7.7 .2 9.7 .2-4.1 .2-.5 .2 5.9 .2-5.1 .2-3.4 .2-.3 .2 5.3 .2-2.3 .2 .3 .2-4.6 .2 4.7 .2-2.6 .2-.5 .2 6.8 .2-3.2 .2-1.9 .2 4.1 .2 2.8 .2-11 .2 7.9 .2-2.3 .2-1.1 .2 4.7 .2-1.8 .2-4.2 .2 5.5 .2-4.6 .2 .6 .2-4.2 .2 4.4 .2 1.9 .2-3 .2 1.2 .2 4.1 .2-4.6 .2-1.6 .2 7.5 .2-7.8 .2-5.5 .2 3.5 .2 3.2 .2-3.2 .2 .1 .2 1.9 .2 .9 .2-.3 .2 .6 .2 3.5 .2 7.1 .2-6.9 .2-1.7 .2-4.4 .2 2.5 .2-3.7 .2 3.5 .2-3.4 .2 7.1 .2 3.5 .2-3.6 .2 5.7 .2-12.2 .2 6.6 .2-3.1 .2 1.1 .2-4 .2 3.4 .2-.1 .2-1.9 .2 5.9 .2-1.2 .2 1.4 .2-5.5 .2-.4 .2-1.7 .2 6.5 .2 .6 .2-3.2 .2-2.1 .2 2.7 .2 1.4 .2 .3 .2-2.5 .2 4.6 .2 .7 .2-7 .2 4.1 .2-.7 .2-4.4 .2 2.5 .2 2.7 .2 3.1 .2-6.1 .2 1.2 .2 .6 .2-.7 .2-3.2 .2 7.4 .2-3.4 .2 2.3 .2 .8 .2-3.6 .2-1.7 .2 .9 .2 .7 .2-1 .2 1.7 .2-3.6 .2 3.2 .2-.4 .2 2.7 .2 .9 .2 4.3 .2-1.9 .2-1.6 .2-2.1 .2 .2 .2 1.1 .2-1.9 .2 .9 .2-2.9 .2 4 .2-4.1 .2 1.4 .2-.2 .2 10 .2-7.8 .2 2.7 .2-7.2 .2 5.8 .2-2.9 .2 3.9 .2-4.3 .2-2.6 .2 6.1 .2-2.4 .2-4.5 .2 3.8 .2-2.8 .2 5.2 .2-2.1 .2 .8 .2-4.3 .2 7.2 .2-6.2 .2 2.7 .2-1.9 .2 .9 .2-4.3 .2 4.1 .2 .9 .2-5.5 .2 7.4 .2-6.6 .2 1.3 .2-.4 .2 5.7 .2-5.4 .2 .2 .2 2.3 .2-.6 .2 3.1 .2-5.1 .2-.7 .2-.8 .2-.1 .2 4.7 .2-.8 .2-2.8 .2 .5 .2-6.8 .2 9.8 .2-1.3 .2-8.4 .2 5 .2 1.4 .2 5 .2-3.8 .2 3.2 .2 1.1 .2-2.7 .2-5.3 .2-1.2 .2 3.4 .2 3.5 .2-1 .2-5.6 .2 6.6 .2-5.2 .2 1.6 .2 4.6 .2-2.9 .2-2.1 .2-.8 .2 2.7 .2 .6 .2-1.4 .2-2 .2 4 .2 1.2 .2-6.4 .2 5.7 .2-4.1 .2 1.1 .2 3.8 .2-7.1 .2 3.5 .2 5.8 .2-.8 .2-6.6 .2-1.7 .2 7.5 .2-3.3 .2 0 .2-5.8 .2 5.2 .2-5.3 .2 4.1 .2 6.8 .2-1.9 .2 1.1 .2-4.9 .2 1.1 .2-2.5 .2 7.8 .2-8.1 .2-2.9 .2 3.1 .2 4.9 .2-5 .2 2.3 .2-5.3 .2 2.5 .2-2.2 .2 .5 .2 2.8 .2 2.6 .2 4.2 .2-4.5 .2-5.5 .2-.2 .2-1.6 .2 4.3 .2-2.9 .2 2.1 .2-3.1 .2 8.5 .2-6.2 .2 3.1 .2-3.4 .2 8.1 .2-12.1 .2 6.3 .2 2.6 .2-4.6 .2 3.2 .2-3.3 .2 3.8 .2-3.7 .2 5.7 .2-10.7 .2 7.6 .2-4.1 .2 .2 .2 3.2 .2-3.9 .2-.2 .2 3.9 .2-5.6 .2 2.7 .2 4 .2-6.2 .2 6.5 .2-7.7 .2 4.1 .2-.7 .2-5 .2 6.8 .2-7.3 .2 8.9 .2 .3 .2-7.2 .2 2.2 .2-1 .2-4.2 .2 1.8 .2 2.5 .2 .1 .2 4 .2-5.6 .2-.3 .2 3.9 .2 .3 .2-3.3 .2 1.5 .2-2.6 .2 1.3 .2-6.4 .2 1.1 .2 8.4 .2-4.9 .2-1.6 .2 5.1 .2 5 .2-3.5 .2-2 .2-1.5 .2 5.9 .2-.4 .2-4.8 .2-1.9 .2 1.5 .2 1.4 .2-2.2 .2-1.2 .2-.3 .2-2.7 .2 3.9 .2 1.7 .2-5.1 .2 1.4 .2 6 .2-5.9 .2 3.9 .2-4.9 .2-2.8 .2 7.4 .2 .7 .2-1.4 .2-1 .2 4.8 .2-5.8 .2-1.7 .2 3.3 .2 2.5 .2-2.4 .2 2.1 .2 1.6 .2-7.5 .2 2 .2-.4 .2 2.7 .2-7.1 .2 8.3 .2-7.6 .2 5.7 .2-2.3 .2-.4 .2 3.3 .2-5.8 .2 5.9 .2-3 .2-3.4 .2 7.5 .2-7.1 .2 5.8 .2-3.4 .2 0 .2 5.5 .2-3.7 .2-1.8 .2 3.4 .2-4.6 .2 6.4 .2-7.3 .2 3.5 .2-3.8 .2 3.9 .2-5.3 .2 2.3 .2 2.4 .2-6.6 .2 3.4 .2 1.8 .2-3 .2 .3 .2 3.3 .2 .4 .2-7.8 .2 2.1 .2-5.6 .2 8.1 .2 2 .2-4.8 .2-1.2 .2 5.2 .2-3.2 .2 8.2 .2-2 .2-10.7 .2 8.1 .2-.1 .2 .2 .2-2.4 .2-4.5 .2 5.1 .2-2 .2 7.6 .2-3.8 .2 2.4 .2-7.3 .2 3.5 .2-.7 .2-2 .2 1.4 .2-3.4 .2 5.3 .2-3.3 .2 3.2 .2 .8 .2-2.2 .2-1.6 .2 4.8 .2-.2 .2-4.3 .2 4.8 .2-11.9 .2 8.8 .2 .9 .2-1.7 .2-5.3 .2 5.3 .2 3 .2-2.1 .2-5.2 .2 4.4 .2 5.4 .2-1.5 .2 .7 .2-4.9 .2 2.6 .2-2.5 .2-.2 .2-3.2 .2 3.5 .2 3.2 .2-2.9 .2-6.3 .2 7.7 .2-5.4 .2 5.3 .2-4.2 .2 7.6 .2-5.6 .2 4 .2-7.8 .2 4 .2 1.1 .2-4.9 .2 2.7 .2 .1 .2 2 .2-.1 .2-5.5 .2 9 .2-1.8 .2-4 .2 5 .2-3.9 .2-1.2 .2-2.4 .2-4.2 .2 9.3 .2 2.7 .2-1.6 .2 .1 .2 4.3 .2-10.9 .2 7.1 .2 4.3 .2-6.7 .2 6.7 .2-7.1 .2-.8 .2-4.2 .2 8.1 .2 .9 .2-.7 .2-1.1 .2 1.7 .2-2.9 .2-4.8 .2 6.5 .2 .9 .2 7.1 .2-10.1 .2 2 .2-6 .2 .1 .2 2.1 .2 8.5 .2-4.1 .2 0 .2-1.8 .2 2.6 .2 2.2 .2-.8 .2-1.9 .2 .9 .2 .8 .2 1.1 .2-.9 .2-2.1 .2-3.5 .2 4.9 .2-.3 .2-.4 .2-1 .2-2.3 .2 7 .2-5.5 .2 1.9 .2-1.3 .2-2.6 .2 6.4 .2-7.2 .2 5 .2-1.2 .2 1.5 .2-3.2 .2 6.6 .2 1 .2-1.7 .2-3.7 .2-2.6 .2 10.9 .2-12.7 .2 2.6 .2 5 .2 .6 .2-5.3 .2 5.3 .2-6 .2 6.8 .2-1 .2-1.4 .2 3.5 .2-2.4 .2-8.6 .2 10 .2-1.7 .2 2.2 .2-3.8 .2 3.1 .2-3.5 .2 2.5 .2 1.6 .2-4.6 .2-.2 .2 2.3 .2 2.4 .2-1.2 .2-.6 .2 1.8 .2-.9 .2-4.3 .2 7.7 .2 0 .2-.5 .2-8.7 .2 9.6 .2-7.3 .2 3.6 .2-.5 .2 6 .2-2 .2-3 .2 1.7 .2-3.3 .2-1.4 .2 5.7 .2 .4 .2-2.3 .2 5 .2 .7 .2-7.1 .2 2.2 .2 .7 .2-7.8 .2 9.6 .2-.6 .2-2.1 .2-1.6 .2-1.4 .2 5.3 .2-6.6 .2 2.9 .2-1.9 .2 4 .2 .2 .2-4.7 .2-.8 .2-4.2 .2 .1 .2 4.1 .2 0 .2-1.6 .2-4.2 .2 .5 .2-6.4 .2 8.5 .2-7.8 .2 1.7 .2 2.9 .2 6.1 .2-7 .2 5.7 .2 4.1 .2-3.9 .2-.4 .2-5.7 .2 2.8 .2-4.3 .2 7.4 .2-.2 .2 2.9 .2-4.2 .2 .9 .2-3.7 .2 4.2 .2 2.6 .2-2.2 .2 1.1 .2-2.2 .2 1.3 .2-1.1 .2-3.1 .2 2.6 .2 2.6 .2-1.3 .2-1.4 .2-2.4 .2 4.4 .2-3.4 .2 1 .2 2.7 .2 1.3 .2-5.2 .2 .5 .2 3.6 .2-3.3 .2 6.3 .2-2.4 .2-2.8 .2-3.8 .2 6 .2-2.1 .2-5.4 .2 1.8 .2 2.2 .2 2.6 .2-8.5 .2 5.8 .2 .6 .2 6.6 .2-6.4 .2-.4 .2-.9 .2 1 .2 .7 .2-2.7 .2 2 .2 4.3 .2-7 .2 2.6 .2 3.9 .2-8.7 .2 2.1 .2-2.2 .2 4.6 .2 .6 .2-2.3 .2-1.6 .2-.4 .2 .8 .2 2.8 .2-2.4 .2 3.5 .2 1.6 .2-7.3 .2 6.2 .2-1.1 .2-4.4 .2-7.2 .2 4.2 .2 5.5 .2-8.3 .2 10.1 .2-7 .2 3.5 .2-2.9 .2 .7 .2 2 .2-4.6 .2 3 .2-1 .2 4.1 .2-5.7 .2 9.8 .2-1.1 .2-9.4 .2-.2 .2 2.3 .2 2.8 .2 .9 .2 .2 .2 .7 .2-2.9 .2-3.4 .2 .8 .2 1.8 .2-1.3 .2 10.2 .2-9 .2 5.3 .2-1.5 .2-5.2 .2-1.7 .2 3.1 .2 1.9 .2-2.3 .2 4.3 .2-5.6 .2-.3 .2 2.8 .2 5.3 .2-4 .2 3.1 .2-7.3 .2 4.8 .2-2.1 .2 6.3 .2-9 .2 2 .2-3.4 .2-.9 .2 6.1 .2-.5 .2-4.7 .2 6.3 .2-3.2 .2 .6 .2 6.1 .2-3.3 .2 1.3 .2 1.6 .2-3.6 .2-1.8 .2 5.9 .2 1 .2-10 .2 2.2 .2 .4 .2 .1 .2 6.9 .2-5 .2 .4 .2 1.5 .2 1.2 .2-1.9 .2 1.2 .2-5.8 .2 4.6 .2-3 .2 2.3 .2 4 .2-3.1 .2-1.7 .2 4.2 .2 1.4 .2-4 .2-4.4 .2 6.8 .2-4.6 .2-3.2 .2 4.3 .2-3.9 .2 0 .2-2 .2 .4 .2 5.1 .2-10.2 .2 9.8 .2 .7 .2-.4 .2-2.5 .2-3.7 .2 3.7 .2 2.2 .2 2.2 .2-3.9 .2-6.4 .2 3.9 .2-1.1 .2 5.6 .2-.8 .2-.6 .2-1.1 .2-5 .2 5 .2 4.3 .2-6.5 .2 .4 .2-1.6 .2 3 .2 2.4 .2-6.9 .2 6.9 .2-4.4 .2 10.1 .2-8.2 .2 2.2 .2-6.9 .2 8.5 .2-2.8 .2-1.7 .2 5.9 .2-5.1 .2-1 .2 5.9 .2-6.1 .2 3.4 .2-4 .2-1.4 .2 8.5 .2-3.6 .2 2.1 .2-.1 .2-2.7 .2 1.4 .2-3 .2 .1 .2 2.8 .2-7.7 .2 6.4 .2-3 .2 3.2 .2-3.4 .2 7.6 .2-1.9 .2-4.2 .2 4.4 .2-8.3 .2 1.6 .2 6.6 .2 3.6 .2-5.4 .2 2.6 .2-1.7 .2 4.6 .2-6.9 .2-3.5 .2 2.6 .2 2.6 .2 1.5 .2-4.1 .2 5.6 .2-8.7 .2 5.5 .2-4.2 .2 1.8 .2-.6 .2 5.2 .2 1.5 .2-12.2 .2 5.8 .2 2.1 .2-3.9 .2 2.3 .2 .2 .2 2.7 .2-5 .2 5 .2-3.2 .2 .8 .2-2.3 .2 1.7 .2 .6 .2 7.8 .2-5 .2-1.8 .2-.9 .2-2.9 .2 5.9 .2-7.3 .2 1.4 .2 5.1 .2-4.7 .2-1.2 .2 11.7 .2-12 .2 2.1 .2-3.2 .2 4.8 .2 2.8 .2 5 .2-4.2 .2-2.3 .2-1.8 .2 3.9 .2-3.9 .2 2.3 .2-6.4 .2 6.4 .2-6.1 .2 3.3 .2-4.6 .2 1.8 .2 8.9 .2-3.9 .2-4.1 .2 7 .2-10.5 .2 6.3 .2-3.9 .2 5.9 .2 .9 .2-3.8 .2-.3 .2-.9 .2 5.4 .2-2.4 .2 5.6 .2-5.2 .2-.4 .2-3.7 .2-.1 .2 5.7 .2-3.1 .2 4.4 .2-1.3 .2-3.8 .2 .6 .2 4.8 .2-.5 .2-.1 .2-5.6 .2 3.4 .2-3.1 .2 9.8 .2-8.4 .2 1 .2-1 .2-1.9 .2 4.4 .2-3.6 .2 2.1 .2 1.2 .2-1.6 .2-1.4 .2 3.3 .2-2.2 .2-4 .2-3.5 .2 3.2 .2 4.2 .2 3.7 .2-6.2 .2 2.5 .2-3.8 .2 6 .2 3.2 .2-8.4 .2 3 .2 6.7 .2-8.1 .2-1.2 .2 2.8 .2 1 .2-1.8 .2 .6 .2 3.7 .2-6.5 .2 6.6 .2-5.7 .2 5 .2 1 .2-3.7 .2-1.7 .2-2.1 .2-.8 .2 6.8 .2-7.7 .2 5.5 .2-1.1 .2 4.5 .2-4.8 .2 6 .2-4.6 .2 7.1 .2-7.7 .2-.2 .2-1.9 .2 6.9 .2-5.3 .2 4.4 .2-4.6 .2-3.3 .2 8.7 .2-.9 .2-5.3 .2 4.1 .2-9.4 .2 8.2 .2-3.6 .2 1.5 .2-1.9 .2 1.1 .2-1.5 .2-1.1 .2 1 .2 .8 .2 1.9 .2-2.2 .2-2.8 .2 1.3 .2-.7 .2 7 .2-10.1 .2 4.5 .2-4.3 .2 5.2 .2-3.6 .2 1.8 .2-2 .2 4.5 .2 1.1 .2-2.1 .2 .6 .2-1.5 .2-11 .2 6.2 .2 4.3 .2-2.4 .2-3.3 .2-1.7 .2 4.2 .2 7.5 .2-8 .2 6.7 .2-6.1 .2 5.1 .2-1 .2-4.3 .2 .6 .2 .3 .2 4.2 .2-6.8 .2 4.9 .2-1.8 .2 7.7 .2-9.3 .2 5.2 .2-.4 .2 4 .2-1.2 .2-8.1 .2 10.5 .2-6.7 .2 2.8 .2-9.1 .2 12.3 .2-4.4 .2-.1 .2-1.7 .2 5.1 .2-13.2 .2 8.5 .2-2.5 .2 2.4 .2 5.1 .2-7.9 .2 2.4 .2-3.5 .2 6.4 .2-2.8 .2 4 .2 2.1 .2-13.2 .2 1.1 .2 3.8 .2 2.5 .2-3.1 .2 4.6 .2-2.4 .2-4.4 .2 4.3 .2-3.3 .2-1.1 .2 3.2 .2-.5 .2 3.1 .2-7.2 .2-.7 .2 7.2 .2-3.1 .2 .4 .2-.4 .2-4.4 .2 1 .2 5 .2-.6 .2-1.1 .2 3.4 .2 2.3 .2-5.3 .2 2.7 .2 1.2 .2-3.5 .2-.3 .2-3 .2 7.1 .2-2.1 .2-1 .2-2.5 .2 5.5 .2-8.6 .2 7.4 .2 1.3 .2-3.9 .2-3.1 .2-.1 .2 5.9 .2-3.2 .2 2.8 .2-4.7 .2-1.6 .2 12.8 .2-12.1 .2 5.5 .2 1.1 .2-3.5 .2 .9 .2 .4 .2 4.5 .2-5.8 .2 1.9 .2 3.8 .2-8.7 .2-.7 .2 4.3 .2-1.1 .2 3.8 .2-.3 .2-2.8 .2 2.3 .2-2.9 .2 8.9 .2-4.4 .2-4 .2 8.7 .2-7.6 .2 2.4 .2-5.4 .2-.8 .2 9.2 .2-6.7 .2-1.7 .2 .8 .2 5.2 .2-4.1 .2-1.4 .2-5.2 .2 5.7 .2 3.4 .2-2.2 .2-.4 .2 8.9 .2-4.8 .2-3.5 .2 3.4 .2-4.8 .2 5.1 .2 3.1 .2-5.8 .2 4.8 .2-5.5 .2-2.9 .2 3.2 .2 .3 .2 3.4 .2-2.4 .2-2.6 .2 .8 .2 1.3 .2 1.6 .2-4.9 .2 1.2 .2 1.7 .2-2.8 .2 6.5 .2-3.5 .2-3.8 .2 .8 .2 6.1 .2-5.3 .2-1.7 .2 5.1 .2 1.2 .2-8.9 .2 5.8 .2 4.8 .2 1.2 .2-3.6 .2-1.3 .2-5.9 .2 6.1 .2-3.9 .2 .6 .2 3.4 .2-4.4 .2 1 .2 7.5 .2-3.6 .2-7.4 .2 3 .2-1.3 .2 4.8 .2-4.3 .2 3.2 .2 .6 .2 1.5 .2-1.1 .2 .4 .2-.8 .2-2.6 .2 5.7 .2-2.7 .2-2.6 .2-1.7 .2 4.5 .2 2.8 .2-2.5 .2-4.7 .2 2.6 .2-1.9 .2 2.3 .2 3.6 .2-2 .2-.8 .2-1.5 .2 .4 .2 1.8 .2-6.4 .2 4.6 .2-4.8 .2 9.4 .2-6.6 .2 6.3 .2-7.7 .2 10.2 .2-2.9 .2-1.7 .2-1.6 .2 .1 .2-.2 .2 3.9 .2-1.1 .2 1 .2-4.4 .2 .5 .2-4.3 .2-1 .2 6.4 .2-2.6 .2 2.3 .2-.9 .2-.6 .2 .7 .2-6.3 .2 5.3 .2 1.7 .2-1.2 .2 1 .2-7.7 .2 8.8 .2-.8 .2-.2 .2-1.2 .2 .7 .2 1.1 .2-4.3 .2 .8 .2 1.7 .2-6 .2 5.9 .2-4.2 .2 .7 .2-.7 .2 3 .2-4.5 .2 7.8 .2-5.6 .2-.6 .2 7.3 .2-4.6 .2-4.8 .2 5.3 .2 2.6 .2 1.9 .2-1.3 .2-3 .2 8.2 .2-8.2 .2-4.9 .2 11.3 .2-1.6 .2-1.4 .2 4.5 .2-4.6 .2-2.8 .2 1.2 .2-3.8 .2 3.9 .2-3.9 .2-.3 .2-2 .2 4.7 .2 2 .2-3.4 .2-3.9 .2 2.3 .2 2.6 .2-.5 .2-.8 .2-2 .2 9 .2-5 .2 .8 .2-.8 .2-3.9 .2 7.6 .2-5.9 .2 1 .2-1.4 .2-2 .2 4.1 .2-3.1 .2 2.7 .2 1 .2 4.1 .2-9.7 .2 9.2 .2 .5 .2-6.9 .2 2.1 .2 2.8 .2-6.8 .2 8.2 .2-9.8 .2 6.3 .2-1.5 .2-3.2 .2 .4 .2 2.2 .2-1.1 .2 .4 .2-.5 .2 3.6 .2-1.5 .2-.4 .2 .7 .2 0 .2 3 .2-3.8 .2 .4 .2-2.6 .2-2.2 .2 1.8 .2 1.5 .2-3.4 .2 7.5 .2-6.5 .2 3.6 .2-2.6 .2 2.9 .2 1.8 .2 1.9 .2-7.9 .2 7 .2-5 .2 6.6 .2-8.8 .2 2.4 .2 1.9 .2 4.2 .2-3.5 .2 3.2 .2-2.2 .2 1.4 .2-2.9 .2-.6 .2 1.1 .2-.3 .2-1.4 .2 0 .2-4.9 .2 .6 .2 2.2 .2 .8 .2-2.5 .2 10 .2-9.6 .2 4.2 .2 1.3 .2-5.5 .2 4.2 .2-2.1 .2-2.7 .2 5.6 .2 .7 .2 5.3 .2-5 .2-6.8 .2 6.9 .2-8.7 .2 4.1 .2-6.5 .2 10.2 .2-2.1 .2 5.7 .2-2.6 .2-4 .2 3.1 .2 .9 .2-5.1 .2 .6 .2 2.3 .2-6.7 .2 .2 .2 6.8 .2-1.1 .2-1 .2 8.8 .2-6.5 .2 3 .2-3 .2-1 .2-1.6 .2-3.4 .2 4.6 .2-1.7 .2 3.8 .2-4.8 .2-.1 .2 2.5 .2-5.4 .2 2.4 .2 2.5 .2-.9 .2-.1 .2 1.4 .2 .3 .2 7.2 .2-8.3 .2-2.3 .2 5.8 .2-2 .2-1.9 .2 5.4 .2-10.4 .2 6.6 .2-2.4 .2 2.3 .2-.1 .2 .1 .2 1.3 .2-4.5 .2 .5 .2 4.9 .2-2.9 .2-1.1 .2-1.8 .2 3.1 .2-3.6 .2 8.5 .2 3.7 .2-6.3 .2-4.3 .2 5.6 .2-8.1 .2 6.7 .2-2.5 .2 3.4 .2-4.9 .2 2.3 .2 2.7 .2-4.2 .2 5.1 .2-5.6 .2 .6 .2 5.1 .2-6 .2 1 .2-2.3 .2-.7 .2 6.7 .2-3.2 .2-4.6 .2 1.5 .2 1.6 .2 2.7 .2-1 .2-.7 .2-5.2 .2 9.9 .2-8.2 .2 1.9 .2-1.5 .2 4.9 .2-3.2 .2 1.2 .2-2.4 .2-.8 .2 1.7 .2 1 .2 .8 .2-.1 .2 .3 .2-9.2 .2 6.9 .2 1 .2 1.8 .2-4.8 .2-2.2 .2-.7 .2 2.2 .2-2 .2 4.8 .2 3.7 .2-6.3 .2 1.2 .2 .5 .2-1.3 .2 7.2 .2-6.7 .2 6.2 .2-3.7 .2-3.1 .2 3.2 .2-.1 .2-2.9 .2 1.9 .2 4.9 .2-2.2 .2-8.8 .2 11.2 .2-.8 .2-.4 .2 8 .2-15.1 .2 6.5 .2 1.8 .2-8.8 .2 8.6 .2-3.4 .2-2.8 .2 8.7 .2-2.9 .2-5.6 .2 3.2 .2-4.3 .2 12.2 .2-12 .2 4.8 .2-1.7 .2 6 .2-3.8 .2 .2 .2 1.5 .2-2.8 .2 3.2 .2 2.9 .2 1 .2-13.9 .2 7.8 .2 2.4 .2-1.7 .2 3.3 .2-4.4 .2 3.3 .2-6.9 .2-.2 .2-1.6 .2 7.3 .2-.4 .2 3.2 .2-4.1 .2 .9 .2-3.8 .2 6.4 .2-3.5 .2-.4 .2 4.9 .2-9.9 .2 5 .2-1.1 .2 1.2 .2-.3 .2 1 .2-7.4 .2 4.7 .2-2.9 .2 2.9 .2-4.6 .2 6.4 .2-.6 .2 4 .2-10.6 .2 2 .2 3.1 .2 .4 .2-5.4 .2 2.3 .2 2.1 .2 3.6 .2-.5 .2-1.5 .2 5.6 .2-1.2 .2-2.1 .2-1.4 .2 1.8 .2-2.1 .2 5 .2-9.9 .2 3.3 .2 .3 .2 1.2 .2-3 .2-3.5 .2 4.9 .2 5.6 .2-6.4 .2 3.5 .2 .3 .2-1.7 .2-1.9 .2 1 .2 5.1 .2-3.6 .2-.8 .2-1.5 .2 .9 .2 3.7 .2-.4 .2-3.3 .2-.1 .2 3.4 .2 .1 .2-3.1 .2-4.4 .2-5.2 .2 3.2 .2 3.2 .2 1.5 .2-2.1 .2-1.4 .2 5.4 .2-3.7 .2-2.1 .2-1 .2 5.8 .2-3.6 .2 3 .2-.2 .2-.2 .2-.3 .2 1.6 .2-4.9 .2 5.7 .2-2.7 .2-.1 .2 1.8 .2-.9 .2 1.7 .2-2 .2 8.8 .2-11.7 .2 5.3 .2-2.3 .2-2.3 .2 5.1 .2 3.5 .2-6.1 .2 5.9 .2-8.9 .2 4.9 .2-3.5 .2-1.2 .2 1.7 .2-.2 .2 3.6 .2 4.3 .2-2.7 .2 2.6 .2-5.7 .2-1.4 .2 6.6 .2 .1 .2-7.3 .2 2.2 .2 2.5 .2-2.1 .2-3.6 .2 5 .2-6.9 .2 13.1 .2-6.1 .2-5 .2 7.1 .2 .9 .2-.2 .2-3.4 .2-4.6 .2 1.4 .2 8.6 .2-6.5 .2-1.7 .2 1.2 .2-3.8 .2 3.8 .2 2.3 .2-2.7 .2 7.6 .2-8.6 .2 6.8 .2-2.1 .2 3.7 .2-4.2 .2-7.2 .2 2.1 .2 4.5 .2-3.5 .2 6.6 .2-9.2 .2 7.6 .2-3.8 .2 2.6 .2 1.2 .2-9.4 .2 4.3 .2 3.2 .2-1.2 .2-4.9 .2 2.6 .2 1.2 .2-1.1 .2 3.1 .2 3.2 .2-3.5 .2-6 .2 1 .2 5.2 .2 1 .2-5.4 .2 .4 .2-5.4 .2 11.1 .2-4.1 .2-1.5 .2 3.9 .2-.8 .2 2.9 .2-7.1 .2 3.4 .2-3.9 .2 3.3 .2-1.6 .2-3 .2 1.4 .2 4.9 .2-4.3 .2 2.2 .2-7.3 .2 8.4 .2-9.2 .2 6.3 .2 2 .2 6.4 .2-6.2 .2-3.8 .2 1.3 .2 2.6 .2 .2 .2-2.4 .2 4 .2-.7 .2-4.6 .2 3.2 .2 1.1 .2-5.7 .2 1.2 .2 3.7 .2-1.5 .2 3.4 .2-.5 .2-3.4 .2 4.9 .2-3 .2 2.2 .2 6.8 .2-11.2 .2-2.7 .2 8.1 .2-4.8 .2 0 .2 5.6 .2-4.5 .2-6.2 .2 11.8 .2-5.1 .2-1.8 .2 3.8 .2-.6 .2-3 .2 5.3 .2-6.6 .2 4.7 .2-2 .2 3.1 .2-.4 .2-4.4 .2 .9 .2 7.2 .2-2.8 .2 0 .2 .4 .2-2.2 .2-5.8 .2 3.4 .2 .6 .2 1 .2-7.1 .2 11.5 .2-6.8 .2 4.4 .2-9.5 .2 8.2 .2-3.9 .2 6.4 .2-6.2 .2 6.4 .2-.1 .2-7.5 .2 .2 .2 .7 .2 2.1 .2 .8 .2-4.1 .2 1.4 .2 .8 .2 2 .2-4.8 .2 3.5 .2 .4 .2 1.2 .2-5.6 .2 6.1 .2 .4 .2-3.7 .2-1.2 .2 1.5 .2-3.2 .2 1 .2 3.1 .2-4 .2 .2 .2 .2 .2 1 .2 2.6 .2-.1 .2-7.3 .2 4.3 .2-.5 .2 3 .2 .8 .2-4.7 .2-.3 .2-5 .2 8 .2-.5 .2-1.7 .2-4.1 .2 3.6 .2-1.2 .2-1.2 .2 1.7 .2-4.5 .2 2.3 .2-6.5 .2 9.4 .2 4.8 .2-11.6 .2 7.2 .2-1.9 .2-1.5 .2 4.1 .2-7.1 .2 5.3 .2-2.8 .2 .9 .2-4.9 .2 4.7 .2 2.2 .2-1.5 .2-6 .2 9.3 .2-2.2 .2-.2 .2 1.4 .2-4 .2 5.1 .2-2.1 .2-2.1 .2 .8 .2 3.1 .2 4.4 .2-8.9 .2-7.1 .2 9.9 .2-3.8 .2 1.8 .2-.8 .2 3.2 .2-1.4 .2-3.1 .2 1.5 .2-1.5 .2 1.5 .2 .2 .2 3.2 .2-7.3 .2 8.4 .2-7.5 .2 5 .2 6.4 .2-8.4 .2 4.7 .2-3.3 .2-2.4 .2 5.9 .2-8.8 .2 6.8 .2-2.6 .2 3.5 .2 .5 .2-1.1 .2-1.6 .2 3.9 .2-7.3 .2 7.3 .2 .9 .2-5.4 .2 2.6 .2 1 .2 2.9 .2-3.6 .2-1.2 .2-.4 .2-1.8 .2-2.6 .2 10.2 .2-.6 .2-1 .2-3.9 .2 4.5 .2 1.2 .2-4.6 .2 1.6 .2-5.4 .2 5 .2 4.4 .2-1.7 .2-.3 .2-1.3 .2-3.6 .2-1.8 .2 1 .2 2 .2-.7 .2 3.3 .2-6.7 .2 6.4 .2-6.9 .2 4.2 .2-.3 .2 3.4 .2-4 .2 .5 .2 1.3 .2-2.9 .2 5.7 .2-4.8 .2 1 .2 3.4 .2-2.7 .2-1.2 .2 3.8 .2-1 .2-3 .2 5.9 .2-6.6 .2 6.3 .2-1.1 .2-3.2 .2-1.2 .2 3 .2-8.6 .2 1.7 .2 8.5 .2-6.3 .2 3.8 .2 .7 .2-5.5 .2 6.1 .2-7.9 .2 4 .2-.4 .2-6.1 .2 10.5 .2-8.8 .2 1 .2 6.3 .2-6.6 .2 4.6 .2-2.3 .2-.1 .2-1.3 .2 1.6 .2 1.4 .2 1.2 .2-3.6 .2 5.6 .2-3.2 .2 2.4 .2-4.1 .2-2.1 .2 12.1 .2-9.9 .2 6.9 .2-2.4 .2-2.3 .2-1.4 .2 .2 .2 5.1 .2-5.8 .2 4.1 .2-2.8 .2 .1 .2-.4 .2-2.1 .2 6.3 .2 .8 .2-1.2 .2-4.6 .2 .8 .2-.4 .2 5.1 .2-3.9 .2-.4 .2 2.6 .2 0 .2-.6 .2 1.9 .2-5.2 .2 7.7 .2-6.8 .2-1.4 .2 6.9 .2-7.4 .2 3.2 .2-3.3 .2 7.6 .2-3.2 .2 2.8 .2-4.8 .2-4 .2 10 .2-1.1 .2-5 .2 1.3 .2-2.2 .2-4.2 .2 3.6 .2-2.5 .2 4.4 .2-.3 .2 2.8 .2 3.3 .2-3 .2-3.5 .2-1.3 .2 6.9 .2-13.3 .2 2.4 .2 .2 .2 11.3 .2-11.9 .2 6.5 .2 4.8 .2-4.8 .2-6.2 .2 6.7 .2-.7 .2 1.8 .2-3.8 .2 1 .2 4.6 .2-3.1 .2-2.5 .2 3.9 .2 1 .2 1.4 .2 .9 .2-9.2 .2 5.3 .2-5.4 .2 4.7 .2 8.7 .2-8.1 .2-.3 .2-3.4 .2 1.2 .2 2.9 .2 .8 .2-1.6 .2 6.1 .2-12.9 .2 8.1 .2-8.4 .2 9.2 .2-3.5 .2-3.4 .2 2.6 .2-2.1 .2 3.8 .2-6.5 .2 8.1 .2-.4 .2-3 .2 1.1 .2 3.3 .2 1.6 .2-3.9 .2 .2 .2-7.6 .2 3.1 .2 3.1 .2-1.9 .2-2.6 .2 3.7 .2 4.7 .2-.9 .2-10.5 .2 6.8 .2-3.4 .2 5.2 .2-4.2 .2 1.3 .2 .6 .2-3.1 .2-3.1 .2-.9 .2 7.3 .2-4.3 .2 1 .2 3.4 .2-1.9 .2 2.8 .2-7 .2 8.1 .2-3.6 .2 1.1 .2 5.4 .2-5.6 .2-2.3 .2 1.7 .2-.5 .2 .8 .2-2.7 .2 3.3 .2 2.5 .2-7.7 .2 5.6 .2-2.9 .2 3 .2-3.4 .2 5.8 .2-3.3 .2-2.7 .2 .2 .2 1.5 .2 2.9 .2-1.1 .2 2.9 .2-5.6 .2 .6 .2 2.1 .2 6.5 .2-8 .2 3.2 .2 .8 .2-9.3 .2 3.8 .2 2.1 .2-1.2 .2 2.5 .2-.4 .2-5.8 .2 .4 .2 .5 .2-8.5 .2 4.1 .2 6.3 .2-1.5 .2-3.8 .2 3.1 .2 1 .2-.9 .2 5.6 .2-4 .2-7.5 .2 10.2 .2 1.4 .2 1.5 .2-3.1 .2-1.4 .2 4.4 .2-2.5 .2-2.3 .2 2.6 .2-4.5 .2 3.9 .2-5.8 .2 5.1 .2 6.9 .2-9.4 .2 1 .2 .9 .2 2.4 .2-5.9 .2 1.4 .2 1.6 .2-.5 .2-2.8 .2 7.8 .2-.1 .2 2.4 .2-4.2 .2-4.2 .2-.6 .2 1.5 .2-3 .2 3.4 .2 3.9 .2-1.8 .2-.8 .2-1.3 .2 6.8 .2-4.1 .2 2 .2 8.4 .2-12.7 .2 5.9 .2-1.2 .2-4.6 .2 2.1 .2-2 .2-.6 .2 6 .2-5.3 .2-5.5 .2 11.3 .2-3.3 .2-3.9 .2 1.3 .2 3.2 .2-3 .2 2.1 .2 3.3 .2-3.6 .2 1.5 .2-.5 .2-.6 .2-3.3 .2 6.6 .2-6.1 .2 2.6 .2-5.5 .2 4.7 .2 1.1 .2-3.7 .2 .3 .2 7.8 .2-2.7 .2-5.5 .2 5 .2-3.1 .2 2.5 .2-4.7 .2 3.1 .2 .3 .2-2.2 .2-1.4 .2 7.6 .2-7.1 .2 4.7 .2-4.5 .2-1.4 .2 3.4 .2-6.6 .2 3.9 .2 3.2 .2-6.8 .2 2.8 .2 2.3 .2 1.6 .2 2.8 .2-.8 .2-3.1 .2-6.8 .2 7.2 .2-.6 .2-1.2 .2 1.4 .2-4.5 .2 6.3 .2-2.6 .2-4.8 .2 4 .2 2.3 .2-2.2 .2-.7 .2 3.7 .2-2.9 .2-.9 .2 .9 .2-.8 .2-1.3 .2 .5 .2 3.5 .2-.1 .2-1.9 .2-4.3 .2 4.3 .2 2.1 .2 .5 .2-6.5 .2 5.9 .2-.1 .2 0 .2 3.2 .2-15.1 .2 7.7 .2-.6 .2 8.3 .2-5.2 .2 4.1 .2-4.8 .2 .9 .2-1.8 .2 4.3 .2-5.1 .2 2 .2 2.1 .2-3.7 .2-4.3 .2-.3 .2 2.2 .2 7.9 .2-8 .2 3.3 .2 1.7 .2-5.3 .2 2.5 .2-3.4 .2 3.8 .2-.1 .2-6.2 .2 3.9 .2-2.5 .2 3.3 .2 1 .2-3.8 .2-3.3 .2-.3 .2 6.3 .2-1.5 .2-1.1 .2-2.2 .2-1.5 .2 3.5 .2 .5 .2 4.1 .2-4.1 .2-2.6 .2 6.8 .2-14.1 .2 5.2 .2 4.8 .2-3.6 .2-.6 .2 1.8 .2 3.9 .2-6.3 .2 6.8 .2-8.9 .2-1.1 .2-.8 .2 1.2 .2-3.6 .2 6 .2 1.9 .2-3.5 .2-2.5 .2 2.1 .2 1.6 .2-4.2 .2 3.8 .2 6.8 .2-6.9 .2-1.1 .2-1.3 .2 7.2 .2-5.4 .2 1.9 .2 6.6 .2-7.2 .2 3.1 .2 0 .2-3.3 .2-1.2 .2 9.8 .2-1.9 .2-4.3 .2 8.2 .2-8.9 .2 1 .2-2.8 .2 4.3 .2 1 .2-2.7 .2 .4 .2-2 .2-.2 .2 1.4 .2 6 .2-3.1 .2 .6 .2 4.3 .2-1.2 .2-1.7 .2 1.2 .2-4.3 .2 .1 .2 7.2 .2-.3 .2-2.8 .2 2.3 .2-4.7 .2 .1 .2-1 .2-4.5 .2-.1 .2 4.4 .2-3.5 .2 2.2 .2 6.8 .2-5.1 .2-1.7 .2 3.5 .2-1.3 .2-2.1 .2-2.7 .2 6.9 .2-2.3 .2-1.8 .2-2.3 .2 4.4 .2-2.1 .2-.2 .2 4.3 .2-3.1 .2 4 .2 1.2 .2-4.5 .2 1.1 .2 .1 .2-.9 .2 2.5 .2-2.9 .2-.2 .2-1.7 .2 4.4 .2 1.3 .2 1.2 .2-3.4 .2-.6 .2-3.5 .2 5.3 .2 1.7 .2-.8 .2-1.2 .2 5.1 .2-5.7 .2-3.1 .2 2 .2 2.8 .2-1.4 .2 7.3 .2-7.8 .2 2.1 .2-4.4 .2-1.4 .2 5.9 .2-.1 .2-8.3 .2 7.1 .2 .2 .2 3.1 .2-5.2 .2-2.1 .2 1 .2 3 .2-5.9 .2 5 .2-1.6 .2-1.6 .2-1.8 .2 3.3 .2 3.8 .2-1.1 .2 1.8 .2-9 .2 7.1 .2-3 .2 4.9 .2-2.5 .2 5.4 .2-8 .2 2.8 .2-9.5 .2 15.6 .2-10 .2 .3 .2 4 .2 4.6 .2-7.5 .2 5.2 .2-6.9 .2 7.6 .2-3.1 .2 2 .2-1 .2-2.6 .2-.7 .2 3.7 .2 0 .2 1.4 .2-2 .2-2.3 .2 .7 .2-1.6 .2 .1 .2 2.4 .2 .5 .2-1.6 .2-1.9 .2 2.7 .2-6 .2 6.6 .2-.5 .2-4.3 .2 1.1 .2 4.4 .2-.2 .2-3.5 .2 1.7 .2-9.6 .2 10.9 .2 2.1 .2-7.6 .2-5 .2 7.8 .2 3.1 .2-4.9 .2 5.4 .2-2.3 .2-1.8 .2 2.1 .2 1.5 .2-3.1 .2-4.9 .2-1.1 .2-1.1 .2 1.1 .2 8.8 .2-1.6 .2-6.4 .2 7 .2-7.2 .2 4.5 .2-.8 .2-3 .2 1.1 .2-1.7 .2 1.7 .2 3.3 .2-6 .2 4.8 .2-5.5 .2 9 .2-8.9 .2-.8 .2 3.4 .2 .1 .2 .2 .2 1.9 .2-5.6 .2 10 .2-7 .2 1.2 .2-.9 .2 1.5 .2 4.9 .2-3.8 .2 2 .2 7.3 .2-4.6 .2-1.8 .2-6.1 .2 7.1 .2 .6 .2-3.1 .2-5.1 .2 4.5 .2-2 .2 6.5 .2-2.5 .2-.5 .2-3.6 .2 .2 .2 4.8 .2 0 .2 1.7 .2-3.9 .2-1.1 .2 1.8 .2-5.4 .2 2.2 .2-1.4 .2 4.4 .2-7.1 .2 1.8 .2 1.8 .2 1.4 .2-2 .2 1.4 .2-2 .2-2.7 .2 3.9 .2 4.1 .2-4.3 .2 .2 .2 1 .2 .7 .2-1 .2-5 .2 8.1 .2 2.6 .2-8.2 .2 .8 .2 2.9 .2-2.1 .2-5.5 .2 13 .2-9.5 .2 7.2 .2-5.6 .2-.7 .2-2.7 .2 3.9 .2 .8 .2 3.7 .2-4.3 .2-.7 .2 .6 .2-2.7 .2 4.7 .2 1.5 .2-3.6 .2 1.2 .2-.8 .2-2.2 .2 6.8 .2-8.1 .2 5.4 .2 .3 .2-6.1 .2 5.6 .2-7.5 .2 7.7 .2-8.1 .2 8.9 .2-3.6 .2-6.6 .2 1.5 .2 1.3 .2 .3 .2-.2 .2 .5 .2 1.4 .2-3.9 .2 2.4 .2 .8 .2 9.2 .2-8.5 .2-3.7 .2 3.7 .2 3.7 .2-1.5 .2-4.1 .2 4.1 .2-8.1 .2 6.1 .2 1.8 .2-4.4 .2 6.7 .2-5.2 .2 .6 .2-3.6 .2 3.4 .2 .7 .2 .5 .2-3.9 .2 2.7 .2-.3 .2 2.1 .2-2.8 .2-.4 .2 10.2 .2-3.7 .2-8.5 .2 7 .2-6.5 .2 3 .2-.4 .2-.6 .2 0 .2-.7 .2 2.7 .2 2.2 .2 1.1 .2-14.1 .2 14.4 .2-6.7 .2-4.1 .2 4.9 .2 8 .2-2.5 .2-.5 .2-6.8 .2 8 .2 .2 .2-.2 .2-1.8 .2-4.6 .2-1.5 .2 .1 .2 2.4 .2 0 .2-.9 .2-1.3 .2-3.9 .2 4.4 .2-1.3 .2 4.7 .2 2.1 .2-2.7 .2 1.2 .2-1.2 .2-1.2 .2-3.2 .2 .8 .2 2.5 .2-4 .2 7.3 .2-3.5 .2 1 .2-1.2 .2-1.6 .2 1.2 .2 3.4 .2 0 .2-2.6 .2-.7 .2 1.6 .2-4.1 .2 2.9 .2-3.3 .2 1.9 .2 5 .2-2.1 .2-4.3 .2 1.2 .2 3 .2-4.3 .2 4 .2 4.9 .2-3.9 .2 3.1 .2-3.4 .2 4.9 .2-4.4 .2 0 .2 3.9 .2-5.3 .2 .8 .2-.3 .2 2.2 .2-1.3 .2 7.3 .2-10.6 .2 6.3 .2-4.4 .2 3 .2 3.7 .2-5.9 .2-5.3 .2 9.3 .2 2.5 .2-4.2 .2-1.8 .2 .2 .2 2.9 .2-2.6 .2-3.8 .2 3.7 .2 2.1 .2 .2 .2 1.1 .2 2 .2 3.2 .2-9.3 .2 6.2 .2-2.6 .2 .3 .2-4.9 .2 8.1 .2-9.5 .2 5.3 .2 8.1 .2-8.3 .2 3.7 .2-5.2 .2-.5 .2 4.5 .2 .1 .2-3.8 .2-1.7 .2 1.2 .2 1.1 .2-2.8 .2 6.4 .2-5.8 .2 .5 .2-1.3 .2-1.8 .2 5.7 .2-3.8 .2 3.4 .2-1.3 .2 9.1 .2-6.3 .2 4.6 .2-13.5 .2 7.2 .2 2 .2-5.6 .2 4.7 .2-3.1 .2 7.2 .2-5.7 .2 .3 .2 7.8 .2-7.9 .2-3.2 .2 5 .2-4.1 .2-1.9 .2 5.3 .2 .8 .2-6.8 .2 7.8 .2-8.6 .2 4.4 .2 4.2 .2-1.9 .2-6 .2 2.6 .2-1.8 .2-3.2 .2 8.4 .2 5.4 .2-11 .2-2.4 .2 3.5 .2 3.2 .2 .7 .2-4.3 .2 6 .2-6.4 .2 3.3 .2 7.1 .2-6.8 .2-.7 .2 1.4 .2-2.7 .2 .9 .2-3.2 .2-.9 .2-.6 .2 6.5 .2-6.3 .2 5.7 .2 6.6 .2-5 .2-4.5 .2 3.2 .2 3.5 .2-6.8 .2 6 .2-9.3 .2 1.8 .2 7.2 .2-7.5 .2 8.9 .2-6.2 .2 2.8 .2-1.5 .2-3.1 .2 6.1 .2-2.7 .2 3.2 .2-7.8 .2-3.5 .2 8.1 .2 0 .2-.6 .2 2.7 .2-.9 .2-6.6 .2 1 .2 2.2 .2 2.1 .2-.4 .2 1.5 .2-8.6 .2 10.6 .2-3.4 .2 1.3 .2 4 .2-2.9 .2-3.7 .2 .6 .2 5.7 .2-3.8 .2 2 .2-2.6 .2 6.2 .2 3.1 .2-10.3 .2 .7 .2-1 .2-1.9 .2 10.2 .2-2 .2-10.7 .2 1.5 .2 5.8 .2-3 .2 3.1 .2-6.2 .2 6.8 .2-10.5 .2 5.9 .2-3.3 .2 1.3 .2 2 .2-3.9 .2-.2 .2-.9 .2 7.2 .2-10.9 .2 3.8 .2 3.6 .2-7 .2-1.1 .2 5.7 .2-7.3 .2-1.8 .2 7.9 .2-1.5 .2 3.7 .2-5.5 .2 5.5 .2-4.5 .2-1.9 .2 7.3 .2 .4 .2-7.2 .2 1.8 .2 1.5 .2 1.5 .2-1.9 .2-1.1 .2 6.5 .2-3.8 .2-5.7 .2 1.2 .2 1.5 .2 5.3 .2 .4 .2-6.6 .2 7.4 .2-2.3 .2 1.1 .2-1 .2-4.9 .2-.6 .2 7.8 .2-7 .2 4.2 .2 1.1 .2-3.8 .2 3.9 .2-.2 .2 3.1 .2-5.7 .2-1.1 .2 .3 .2-4.1 .2 4.8 .2-3.7 .2 2.5 .2 1.7 .2-1.3 .2-4.6 .2 7.3 .2-2.3 .2-3.4 .2 2.5 .2 5.4 .2-5.8 .2 0 .2 2.8 .2 .6 .2-3.4 .2-3.9 .2 2.8 .2-2.3 .2 8.4 .2-3.2 .2-2.8 .2-6.4 .2 4.9 .2 5.9 .2-2.5 .2-2.5 .2-9.4 .2 9.9 .2-1.6 .2 5.5 .2-4.1 .2 2.1 .2 2.4 .2-5.7 .2-1.8 .2 1.5 .2 4.2 .2 5 .2-3.8 .2-4.7 .2 9.2 .2-8.2 .2 2.7 .2-2.1 .2 4 .2-5.8 .2 2.6 .2 2.7 .2-3.4 .2 .8 .2 .4 .2-5.8 .2 5.7 .2-4.4 .2 1.8 .2-.2 .2 .5 .2 3.7 .2-4.5 .2 4.4 .2-2.7 .2-1.3 .2-.1 .2 2.1 .2 .5 .2-3.4 .2 3.4 .2-1.6 .2 1.1 .2-.4 .2 0 .2-2.4 .2 9 .2-2.7 .2-4.9 .2 .2 .2 .3 .2 5.7 .2-8.1 .2 6.7 .2-4.7 .2 0 .2-2.7 .2 6 .2 2.4 .2-2.7 .2-4.1 .2-4.5 .2 5.1 .2 2.5 .2-6 .2 5.1 .2-3.7 .2-1.6 .2-.1 .2 8.7 .2-5.6 .2-3.8 .2 2.7 .2-5.3 .2 1.9 .2-.3 .2 6.7 .2 2.4 .2-6.1 .2 6.4 .2-6.9 .2 7.5 .2-2.1 .2-.8 .2-2.5 .2-7.7 .2 9.1 .2-1.8 .2 2.5 .2 1.9 .2-1 .2-1.9 .2 3 .2-2 .2-2.2 .2 4.6 .2-3.6 .2-.8 .2 5.9 .2-4.3 .2 1.3 .2-4.5 .2 5.4 .2 6 .2-5.9 .2 0 .2-4.3 .2 5.5 .2-8.1 .2 1.5 .2 3.9 .2 6.2 .2-4.1 .2-4.3 .2-4.1 .2 7.3 .2-8 .2 .3 .2 5.4 .2-.1 .2-5 .2 2.5 .2 3.4 .2-2.1 .2 2.4 .2 1.6 .2 2.3 .2 1 .2-3.2 .2-2.3 .2-.8 .2 8.8 .2-8.4 .2-.4 .2-2.2 .2 8.4 .2-3.6 .2-4.4 .2-4.1 .2 4 .2 1.7 .2 1.1 .2-3.6 .2 2.3 .2 3.2 .2 2.9 .2-1.9 .2-1 .2 5.9 .2-7.5 .2 2.9 .2-7.4 .2 1.1 .2 1.9 .2-.9 .2-2.7 .2 2.7 .2 1.8 .2-3.5 .2 7.4 .2-3.8 .2 3.5 .2-3.1 .2-1.2 .2 1.2 .2 .4 .2-1.9 .2 3.5 .2-2.3 .2 7.1 .2-1.2 .2-6.8 .2 5.7 .2-2.8 .2-1.2 .2 4.9 .2-8.8 .2 3.7 .2 1.1 .2 2.6 .2-5.1 .2 2.7 .2 .8 .2-2.6 .2 5 .2 .7 .2-4.9 .2 6 .2-5.6 .2 2.8 .2 1.1 .2-1.5 .2 3.7 .2-6.6 .2 3.3 .2-2.2 .2 9.6 .2-1.1 .2-6.4 .2 2.4 .2 1.6 .2-4 .2-5.9 .2 4.6 .2 1.3 .2-1.9 .2 1.3 .2 1 .2-1 .2 3.7 .2 .6 .2-6.7 .2-.2 .2 6.6 .2-.7 .2 1.8 .2-5.5 .2 4.5 .2 .6 .2-2.4 .2-.3 .2 2.7 .2-9.9 .2 8.3 .2-.4 .2 1.7 .2 .8 .2-3.7 .2-1.8 .2-.8 .2 5.8 .2-7.5 .2 1.7 .2 .7 .2 3.7 .2-5.6 .2 1.8 .2 1.5 .2 2.1 .2-2.2 .2 4.8 .2-5.2 .2 2.4 .2 1.3 .2-4.6 .2 3.4 .2-1.6 .2-.7 .2 .8 .2 4.2 .2-7.8 .2 4.5 .2 6.3 .2-11.8 .2 6.4 .2 5.4 .2-6 .2 7.8 .2-8.9 .2 2.6 .2-2.8 .2-2 .2 5 .2-1.3 .2-6.1 .2 5.6 .2 1.6 .2 .7 .2 .1 .2-.9 .2 2.9 .2-8.8 .2 .6 .2 4 .2 2.2 .2-.6 .2-4.4 .2 3.4 .2 2 .2-3.3 .2 1.9 .2 .5 .2-1.6 .2 7.1 .2-6.3 .2-1.7 .2 6.2 .2-5.7 .2 6 .2-5.9 .2 4.7 .2-2.9 .2-.9 .2 .8 .2-5.7 .2 .1 .2 9 .2 4 .2-11.3 .2 2 .2 4.9 .2-3.4 .2 2.5 .2-7.6 .2 7.1 .2-4.3 .2 5.9 .2-3.8 .2 2.6 .2-1.5 .2-3.1" stroke="#f0f"/>
<path d="M561.4 449.5L561.5 738.5" stroke="#00f" stroke-dasharray="27.8 13.8"/>
<path d="M561.5 738.5l.1-9.1 .1 .1 .1 3.8 .1-7.8 .1-10.6 .1 7.6 .1-5.4 .2 4.3 .1-5.4 .1 5.4 .1-14.8 .1 14.3 .1-20.9 .1 .6 .1 8.9 .1-4.4 .1-11.3 .1 14.1 .1-10 .1 1.5 .1-9.3 .1 14.7 .1-15.5 .2 5.6 .1 6.3 .1-17.9 .1 19 .1-17 .1 4.6 .1 .2 .1 5.3 .1 5.8 .1-24.9 .1 15.4 .1-2.7 .1 .5 .1-.6 .1-1.7 .1-11.3 .1 3.6 .1-4 .1-5.7 .1 10.9 .1 .8 .1-13.3 .1 7.7 .1-.8 .1 8.5 .1-14.2 .1-1.2 .1 10.2 .1-12.3 .1 8.3 .1-6.7 .1-7.9 .1 16 .1-14.4 .1 2 .1-5.7 .1 11.7 .1-10.4 .1-10.8 .1 5 .1 8.1 .1-5.8 .1 2.4 .1-6.2 .1-1.3 .1 4 .1-.1 .1-13.7 .1 16.3 .1-15.6 .1 4.6 .1-4.9 .1-2.3 .1 20.2 .1-29.1 .1 12.9 .1-3.6 .1-5 .1-7.4 .1 12 .1 2.4 .1-.5 .1-14.1 .1 4.8 .1 15.5 .1-23.9 .1 5.5 .1 7.9 .1-7.4 .1 4.3 .1-5.1 .1-2.5 .1-6.3 .1 3 .1 2.6 .1 1.5 .1-11.3 .1 2.7 .1-5.3 .1 10.5 .1-4.6 .1-5.6 .1 4.3 .1 5.6 .1-1.3 .1-6.4 .1-21.6 .1 18.4 .1-2.1 .1 3.7 .1-7.9 .1-4.6 .1 6.7 .1-7.7 .1 6 .1 1.4 .1 2.3 .1-2.4 .1 3.7 .1-12.3 .1-.1 .1-11.9 .1 8.1 .1 3 .1 6.8 .1-8.3 .1 7.4 .1-15.2 .1-4.4 .1 10 .1-5.9 .1 .8 .1 10.8 .1-15 .1 3.5 .1 3.2 .1-10.9 .1-2.4 .1 6.3 .1-5.7 .1 11.5 .1-6.2 .1 1.4 .1-1 .1-5.5 .1-3.5 .1 1.4 .1-.5 .1-5.2 .1 3.9 .1-6.2 .1 9.6 .1-10 .1 6.1 .1-5.4 .1-1.8 .1 1.3 .1 .1 .1-7.1 .1 6.6 .1-.9 .1-5.2 .1 3.1 .1 .3 .1-9.3 .1 .8 .1-3.6 .1 2.8 .1-.3 .1 .9 .1-2.6 .1-1.8 .1 3.2 .1-5.2 .1 3.8 .1-1.3 .1 2.6 .1-11.7 .1 8.2 .1-2.3 .1 .1 .1 4.1 .1-6.8 .1-4 .1-9.6 .1 9.3 .1 5.2 .1-7.4 .1-1.7 .1 2 .1 0 .1 2.4 .1-.9 .1 3.4 .1-7.2 .1-2.5 .1 1.6 .1-3.5 .1 3.2 .1-6.2 .1 4.4 .1-3.6 .1 .7 .1 5.8 .1-8.3 .1 3.4 .1-2.4 .1-2.1 .1-8.9 .1 4.1 .1 5.9 .1-11.8 .1 4.8 .1 2.1 .1-3.5 .1 4.7 .1-5 .1 .2 .1 11.1 .1-10.6 .1-4.6 .1 5.9 .1 .3 .1-4.5 .1 .2 .1-.3 .1 4.1 .1-5.1 .1-1.2 .1-3.4 .1-3.2 .1 .9 .1-3.4 .1-2.9 .1 1.9 .1 1.1 .1-9 .1 15.8 .1-10.3 .1-2.4 .1 4.6 .1 1.2 .1 1.4 .1-1.1 .1-2.5 .1-7.4 .1-1.3 .1 4.9 .1-2 .1 4.4 .1-10 .1 9.9 .1-5.3 .1-6.9 .1 8.2 .1-4.8 .1 9 .1-5 .1 2.5 .1-1.6 .1-.8 .1-4.8 .1-5.8 .1 5.5 .1 1.3 .1-11.6 .1 6.7 .1-3.3 .1 6.3 .1-5.9 .1-3.7 .1 1.9 .1 7.5 .1-15.1 .1 1.3 .1 7.6 .1-11.1 .1 9.2 .1 0 .1-1.4 .1-5.4 .1 1.5 .1 .4 .1 .7 .1 1.1 .1-8.7 .1 4.8 .1 7.2 .1-.8 .1-6.3 .1 3.8 .1-3.5 .1-8.9 .1 4.8 .1-4.6 .1 2.7 .1 3 .1-7.9 .1 .6 .1-.7 .1-6.3 .1 5.8 .1-4.3 .1 5.6 .1 3.8 .1-12.5 .1 10.7 .1-.5 .1-4.1 .1-3.9 .1 1.5 .1-1.4 .1 8.8 .1-2.9 .1 .5 .1-12.8 .1 6.1 .1 2.8 .1-11.6 .1 .1 .1 9.7 .1-6.4 .1 1.7 .1 11.5 .1-8.1 .1 .6 .1-1.9 .1 1.6 .1-8.1 .1 7 .1-4.8 .1-6.2 .1 4.2 .1-7.3 .1 15 .1 4.7 .1-19.3 .1 7 .1 .4 .1-1.5 .1 .9 .1-3.4 .1 9.8 .1-13.2 .1 2.7 .1 1 .1-.9 .1-6.7 .1 1.4 .1 .8 .1-3.9 .1 5.3 .1 .9 .1-7.9 .1 1.5 .1-2.1 .1 1.5 .1 2.4 .1 4.6 .1 3.4 .1-10.4 .1-.5 .1-4.6 .1 5 .1 2.4 .1-2.7 .1-3.9 .1 1.7 .1-1 .1-3.2 .1-6.4 .1-1.1 .1 7.9 .1 3.1 .1 1.7 .1-4.9 .1-.8 .1-7.7 .1 4.1 .1-1.1 .1 2.5 .1 1.6 .1-8.1 .1-.1 .1 10.6 .1-2.2 .1-4.5 .1-8.2 .1 8.8 .1-3 .1-2.3 .1 2.5 .1-5.4 .1 2 .1-6.7 .1 7.7 .1-8 .1 .3 .1 4.6 .1 1 .1 .1 .1-4.9 .1 4.4 .1-3.8 .1 3.6 .1-5.5 .1-3.8 .1-.1 .1 2.7 .1-4.4 .1 9.2 .1-.7 .1-9.9 .1 3.7 .1-.5 .1-1 .1 3.3 .1-4 .1-.7 .1 4.7 .1-1.8 .1-3.5 .1 2.9 .1-3.9 .1 .6 .1-1.4 .1 .5 .1 3.2 .1 .8 .1 .8 .1 2.3 .1-8.6 .1 4.9 .1-.9 .1-6.3 .1-6.2 .1 1.4 .1 6.1 .1-4.3 .1 .6 .1-.6 .1 3.8 .1-3.2 .1 4 .1-6.7 .1 .7 .1 3.5 .1-10.1 .1 6.6 .1-.5 .1 4 .1-1.5 .1 .4 .1-6.8 .1 4.9 .1 1.1 .1-6.8 .1-3.8 .1 9.3 .1-12.4 .1 10.3 .1-6.3 .1 6.1 .1-4.8 .1 1.7 .1-3.8 .1-1.1 .1-1.4 .1 11.5 .1-7.2 .1-2 .1 5.4 .1-9.8 .1 2.6 .1 .6 .1-3.4 .1 5.6 .1 1.7 .1-.3 .1-4 .1-4.4 .1 2.1 .1 .9 .1-3.3 .1-2.7 .1 6.6 .1-1.4 .1-3.9 .1 2 .1 0 .1 5.4 .1-11.7 .1 4.4 .1-3.1 .1 4 .1 6.3 .1-4.1 .1-7.2 .1 11.3 .1-9 .1 2.2 .1 1.9 .1-3.8 .1 1.7 .1-3.5 .1-2.9 .1 7.5 .1-5 .1-3.9 .1-.4 .1 3.5 .1-2 .1 .4 .1 1.6 .1-7.8 .1 6.9 .1 .7 .1-4.7 .1 3.6 .1-3.1 .1 .5 .1 .1 .1-6.4 .1-.7 .1 3 .1 .2 .1-.1 .1-.1 .1-4 .1-1.2 .1-1.5 .1 4 .1 2.5 .1-7.6 .1-2 .1 1.1 .1 3.6 .1 .3 .1-6.2 .1 5.6 .1 1.8 .1-4.8 .1 .9 .1-1.4 .1 8.1 .1-1.3 .1-5.5 .1 5.8 .1-6.2 .1 1.7 .1-1.1 .1-3.3 .1 1.5 .1 .6 .1 1 .1-2.7 .1 .7 .1-1.6 .1 .3 .1 1.5 .1-2.4 .1 6.5 .1-6.3 .1-2.5 .1 3.7 .1-2.6 .1-5.7 .1 16.4 .1-11.7 .1-6.5 .1 2.8 .1 6.6 .1-3.3 .1-5.5 .1 7 .1 1.4 .1 1.3 .1-4.2 .1-3.6 .1 .7 .1 0 .1 5 .1-4.7 .1-.7 .1-2.7 .1 9.1 .1-6.2 .1 .5 .1 .3 .1 2.6 .1 1.6 .1-2.1 .1-8.1 .1-1.7 .1 9.8 .1-1.2 .1-7.8 .1 3.7 .1-3.3 .1 9.3 .1-1.9 .1-3 .1-1.5 .1-2.5 .1 .2 .1-5.1 .1 6.1 .1 1.2 .1 1.5 .1-3.4 .1 0 .1 5.8 .1-9.1 .1-4.8 .1 3.9 .1 .3 .1-2.1 .1 5.4 .1-.7 .1-.2 .1-3.2 .1-2.6 .1 12.5 .1-9.5 .1 4.9 .1-5.3 .1 1.6 .1 .7 .1-11.1 .1 4.4 .1 6.8 .1-2.9 .1-4.9 .1-1.4 .1-.4 .1 6.9 .1 .5 .1-.5 .1-2.8 .1-4.8 .1 .5 .1-3.5 .1 5.3 .1-2.4 .1-1 .1-.3 .1 1.7 .1-1.6 .1 4.7 .1 1.8 .1-2.2 .1-3.4 .1 5.3 .1-4.8 .1-2.5 .1 1.5 .1-1 .1 3.1 .1-10.3 .1 10.1 .1-5.8 .1 7.9 .1-1.9 .1-3.3 .1 2.3 .1-8.1 .1 3.6 .1 1.4 .1 2.3 .1-4.9 .1 6.4 .1-6.7 .1 .8 .1 1.1 .1-2.1 .1-.4 .1 1.7 .1 3.9 .1-6.3 .1 .4 .1 3.5 .1 .7 .1-5 .1 .9 .1 1.4 .1 7.7 .1-14.5 .1-2.8 .1 6.5 .1-9 .1 12.7 .1-6.3 .1-1 .1 5.6 .1-4.6 .1 .1 .1-3.1 .1 10.7 .1-8 .1-3.8 .1-.9 .1 .4 .1-2 .1 3.3 .1-.7 .1-2.5 .1 6 .1-3.2 .1-4.3 .1 3.4 .1-9 .1 11.5 .1 1 .1-6.9 .1-.5 .1 1.5 .1 9.8 .1-5.6 .1-2.1 .1 .1 .1 1.7 .1-.5 .1-3.6 .1 .7 .1 8 .1-12.4 .1-.8 .1 5.6 .1-3.1 .1-5.3 .1 0 .1 1.6 .1 5.1 .1 1.9 .1-.9 .1-2.8 .1 .1 .1 .5 .1 1.4 .1 .2 .1-8.4 .1 4.5 .1-1.1 .1 2 .1 5.3 .1-8 .1-.2 .1 6.5 .1-6.8 .1 10.9 .1-3.5 .1-5.8 .1 2.2 .1-.4 .1-8.4 .1 11.8 .1-8.8 .1 1.1 .1 3.6 .1-1.9 .1-5.1 .1 1.8 .1 7.4 .1-1.1 .1-7.5 .1 6.6 .1-5.5 .1-3.9 .1 10.3 .1-9.6 .1 8.7 .1-8.7 .1-1.2 .1 1.4 .1-.5 .1 5.4 .1-1.6 .1 0 .1-3.5 .1 6.8 .1-3.5 .1-2.4 .1 2.2 .1-5.3 .1 4.1 .1-1.3 .1-1.3 .1-2.4 .1 7.9 .1 .8 .1-6.1 .1-1 .1 1.2 .1 1.7 .1 .8 .1-3.2 .1 3.5 .1 .2 .1-6.3 .1 3.1 .1 2.6 .1-3.8 .1 .4 .1 .8 .1-2.7 .1 .4 .1 3.8 .1-6.5 .1 7.6 .1-7 .1 1.8 .1-6.7 .1 14 .1-2.7 .1 1.1 .1-6.9 .1-4.2 .1 2 .1-2.6 .1 5.9 .1 0 .1-1.8 .1 1.7 .1-3.8 .1-2.1 .1 2.6 .1 .7 .1 .7 .1-.5 .1-4.9 .1 6.1 .1-9 .1 7.9 .1 .2 .1 2.9 .1 1.8 .1-10.1 .1 2.1 .1-1.7 .1-1.3 .1-.5 .1 5.6 .1-2.8 .1-3.2 .1 5.4 .1-5.3 .1 .1 .1 1 .1-4.9 .1 6.1 .1-5.1 .1 3.9 .1 .7 .1-5.5 .1 8.3 .1 0 .1-8.6 .1-1.5 .1 5.7 .1 1.2 .1-5.2 .1-3.4 .1 12.1 .1-1.5 .1 1.8 .1-2.8 .1 .9 .1-.8 .1-10.7 .1 9.6 .1-1.4 .1-6.7 .1 1 .1 7.6 .1-3.8 .1-1.8 .1-5.2 .1 2.8 .1 5.6 .1-5.9 .1 2.4 .1-2.3 .1-3.5 .1 .1 .1 3 .1 2.3 .1 4.7 .1-.7 .1-7 .1 .5 .1 3.7 .1-5.3 .1 2 .1 3.2 .1-3.8 .1 2.7 .1 2.1 .1-3.5 .1-.1 .1-1.9 .1-9.2 .1 7.1 .1 5.4 .1-5.3 .1 1.7 .1 .8 .1-.1 .1 .1 .1 4 .1-6.6 .1-2.7 .1 .1 .1 1.7 .1 .8 .1-5.3 .1 4.8 .1-2.7 .1 6.1 .1-6.5 .1 1.3 .1 3.1 .1-7 .1 2.9 .1 1.7 .1-2.1 .1-.7 .1 9 .1-13.6 .1 4.1 .1 3.1 .1 1.7 .1-1.2 .1-2.1 .1 1.2 .1-4.8 .1 3.7 .1-1.1 .1 3.8 .1-.3 .1-1.7 .1 .5 .1-1 .1-7.4 .1 4.8 .1-4.5 .1 4.2 .1-1.8 .1 8.9 .1-3.9 .1-8.2 .1 6.3 .1-4.7 .1 .5 .1 3.9 .1 5.2 .1-4.3 .1-3.9 .1 1.1 .1 2.2 .1 2.4 .1-5.5 .1 6.7 .1-4.9 .1-2.8 .1 1 .1 5.1 .1-5.4 .1-.3 .1 3.7 .1-.1 .1 2.8 .1-3.6 .1-2.8 .1-2 .1-.4 .1 5.5 .1-2.7 .1 1.3 .1-10 .1 5.2 .1 1.8 .1 1.5 .1 7.2 .1-7.7 .1 2.6 .1-4 .1 4.2 .1 .9 .1-10.4 .1 8.6 .1-8.9 .1 5 .1 3.9 .1-2.1 .1 6.1 .1-1.1 .1-2 .1-4.5 .1 5.6 .1-1.7 .1-.7 .1-3.9 .1-3.3 .1 11 .1 .6 .1-5.7 .1-4.2 .1 4.2 .1 1.7 .1 2.5 .1-4.6 .1 3.1 .1-.7 .1-1.3 .1-2.7 .1-.6 .1 2.4 .1-4.1 .1 4.5 .1-2.1 .1 .1 .1 .6 .1 4.6 .1-1.9 .1-4.1 .1 5.5 .1-5.9 .1 1.2 .1 5.4 .1-4.8 .1-.9 .1 2.6 .1-1.8 .1 .8 .1 4.5 .1-2.6 .1-1.2 .1-.4 .1 2.1 .1-1.7 .1-6.6 .1 3.9 .1 2.5 .1-8.8 .1-.2 .1 4.7 .1 9.3 .1-12.9 .1 11 .1-4.8 .1-.3 .1-2.1 .1 2.2 .1-3.6 .1 3.5 .1-.2 .1 5.9 .1-2.4 .1-5.9 .1 .5 .1-3 .1 1.3 .1 4.5 .1 .4 .1 3.1 .1-5.2 .1 1.4 .1-.6 .1-1.6 .1 0 .1-3.4 .1 7.5 .1-14.1 .1 7.1 .1 7.8 .1-3.6 .1 3.2 .1-4.1 .1-5.7 .1 6.4 .1-3.2 .1-3.4 .1 5.3 .1 2.5 .1-1.8 .1-5.7 .1 1.2 .1 .2 .1 4.3 .1-2.6 .1-4.6 .1 4.6 .1-1.6 .1-6.6 .1 8.7 .1-3.5 .1 .3 .1-2.4 .1 10.3 .1-5.3 .1-6.4 .1 5.9 .1-3.2 .1 1.7 .1 1.2 .1 1.8 .1-.2 .1-1.8 .1 1.8 .1-4.8 .1 .3 .1 2.4 .1 .7 .1-4.8 .1 3.6 .1-.4 .1-4.4 .1 3.2 .1-.9 .1 3.3 .1-.8 .1 .1 .1 .3 .1-.8 .1 .5 .1-2.8 .1 .4 .1 3.6 .1-2 .1 1.1 .1 3.1 .1 .2 .1-11.4 .1 9.3 .1-5.8 .1 5.7 .1-2.3 .1-1.7 .1 3.7 .1-2.7 .1 .6 .1 .1 .1 2 .1-2.2 .1-1 .1-2.7 .1-3.1 .1 6.5 .1 2.7 .1-.4 .1-5.1 .1 3.3 .1 4.6 .1-4.4 .1-.7 .1-1.5 .1-2.6 .1 2.1 .1-.9 .1-3.6 .1 .7 .1 .7 .1-.3 .1 5.6 .1-10.8 .1 8.7 .1 .3 .1-.3 .1-7.4 .1 5.2 .1-.8 .1 1.1 .1-3.1 .1 0 .1-.8 .1 4.8 .1 3.7 .1-12.7 .1 6.4 .1 1 .1-.9 .1-5.4 .1-1.9 .1 7.2 .1 5.1 .1-5.8 .1-6.9 .1 1.4 .1 7.9 .1-5.6 .1 5.5 .1 1.7 .1-4.7 .1-2.4 .1 1.6 .1-1.2 .1-2.3 .1 .3 .1 1.8 .1-8.2 .1 5.2 .1-3.4 .1 3.2 .1 2.8 .1 .4 .1-3.3 .1-4.8 .1 7.8 .1 2.6 .1-8.4 .1 3.8 .1-3 .1 6.3 .1-4.6 .1 2.2 .1 .3 .1-3.9 .1 5 .1 4.4 .1-5.9 .1-2.7 .1 4.1 .1-.4 .1-6.5 .1 7.3 .1-4.3 .1-2.9 .1 1.8 .1-3.5 .1 2.4 .1 1 .1 3.3 .1 4.1 .1-12.9 .1 6 .1 10 .1-8 .1-.2 .1-6.8 .1 11.2 .1-3.6 .1-2.5 .1-4.4 .1 1.6 .1 4.8 .1-7.7 .1 2.7 .1 .8 .1 .8 .1 .6 .1-4.2 .1 2.5 .1 .5 .1-8.8 .1 11.2 .1-3.8 .1-4 .1 6.3 .1 2.7 .1-4.6 .1-2 .1 .4 .1-1.8 .1 3.7 .1-.6 .1 .1 .1 8.7 .1-8.5 .1 2.9 .1-.9 .1 7.2 .1-9.9 .1-1.3 .1 .8 .1 .7 .1 6.3 .1-2.1 .1-1.5 .1-2.9 .1-4.2 .1 6.5 .1-6.5 .1 1.6 .1 4.3 .1 3.2 .1-1.3 .1-.8 .1-.7 .1-6.8 .1 4.8 .1 3 .1-12.4 .1 13.9 .1-7.4 .1 2.6 .1 2 .1-2.1 .1-2.3 .1 1.8 .1-.7 .1 3.7 .1-1.8 .1 .4 .1-5.2 .1 2.7 .1 2.9 .1-1.7 .1 1.9 .1-.9 .1 1.1 .1-3 .1 1.6 .1-.4 .1 2.4 .1-4.8 .1 7.5 .1-1.6 .1-8.1 .1 2.3 .1-2.8 .1 6.6 .1 2.1 .1-6.4 .1-.7 .1 4.8 .1 .9 .1-2.5 .1 4.2 .1-2.7 .1-2.9 .1 3.4 .1-1.5 .1-3.7 .1 1 .1 2.3 .1-.6 .1-.5 .1 2.7 .1 1.4 .1-7.5 .1 6.4 .1-2.3 .1-1.8 .1 4.4 .1-2.6 .1-.1 .1 .7 .1 4 .1-4.7 .1 4.9 .1-.3 .1-.8 .1-3.7 .1 3.4 .1-8.1 .1 3.7 .1-.8 .1-2.6 .1 1.3 .1 .9 .1 2.9 .1-7.3 .1 5.7 .1-3.3 .1 2.2 .1 3.6 .1-4.1 .1 .9 .1 1.8 .1-3.3 .1 3.3 .1 .6 .1-6.4 .1 7.7 .1-4 .1-6.4 .1 7.1 .1 3.6 .1-3.2 .1-1.5 0-5.2 .2 9.4 .2 1.1 .2-12.3 .2 7.1 .2-4.7 .2 5.1 .2-7.1 .2 5.6 .2-4.3 .2 2.8 .2-.9 .2 2.2 .2-5.7 .2 .2 .2 .4 .2 .3 .2 4.3 .2-3.9 .2 3.3 .2-2.2 .2-2.8 .2-1.1 .2 4.7 .2-7 .2 1.9 .2 0 .2 2.5 .2 4 .2-8.1 .2-2.9 .2 5.9 .2 1.3 .2-2.5 .2-1.6 .2-4 .2 1.9 .2 1.8 .2 2.3 .2 2.2 .2-1.8 .2-4.7 .2 1.8 .2 1.8 .2-4 .2 1 .2 1.2 .2 6.9 .2-8.7 .2 1.3 .2 .3 .2-1.9 .2-1.8 .2 7.3 .2-6.7 .2 5.2 .2-5.7 .2 3.6 .2-5.6 .2 5 .2-1.4 .2 .6 .2-1 .2-1.1 .2 .7 .2 .1 .2 7.1 .2-9.3 .2 5.9 .2-.5 .2-4.7 .2 7.5 .2-6.3 .2 2 .2-.4 .2-4.9 .2 6.6 .2-1.4 .2-8.6 .2 2.3 .2 6.5 .2 .8 .2 .4 .2-4.5 .2-1.7 .2-.8 .2 5.8 .2-3.8 .2-1.5 .2 1.4 .2-.9 .2 2.4 .2-.3 .2-4.9 .2 1.5 .2-3.2 .2 6.3 .2-2.5 .2 3.6 .2-2 .2-2.7 .2-2.6 .2 5.7 .2 2 .2-9.3 .2 6.1 .2 5.7 .2-10.9 .2 2.1 .2-1.6 .2 3.6 .2-2.9 .2 4.2 .2 1.5 .2-8.5 .2 1.9 .2 .9 .2 5.3 .2-3.9 .2 1 .2-8.6 .2 12.2 .2-4.1 .2-1.8 .2-2 .2-.3 .2 2.8 .2-.7 .2-1.6 .2-1.6 .2 3.1 .2-1.9 .2-2.9 .2 .7 .2 3.3 .2-3.4 .2-1.3 .2 1.5 .2 3.9 .2 4.4 .2 1 .2-13.1 .2 11.8 .2-4.9 .2-3.5 .2-.9 .2 5.3 .2 .2 .2 1.1 .2-7.5 .2-.5 .2 5.4 .2-4.6 .2-.1 .2 3.9 .2-10.1 .2 5 .2 8.7 .2-3.3 .2-6.5 .2 6.8 .2-3.2 .2-2.6 .2-.8 .2 2.5 .2 2.7 .2 3.1 .2-5.2 .2-2 .2 2.9 .2-3.1 .2 3.4 .2-3.1 .2 4.8 .2-3 .2 1.2 .2 0 .2 .7 .2-4.1 .2 5.5 .2-2.6 .2 4.1 .2-7.9 .2 5.9 .2-5 .2-.2 .2-7.4 .2 7 .2 3.4 .2-1.3 .2-5.3 .2 2.5 .2 1.6 .2-3.9 .2 8.3 .2-1 .2-2.3 .2-4.2 .2 6.4 .2 2 .2-10 .2 6.4 .2-10.4 .2 6.6 .2 1.2 .2-6.2 .2 7.8 .2-5.9 .2-.3 .2 1.1 .2 1.7 .2 4.7 .2-2.2 .2-5.7 .2 6.2 .2-4.6 .2-1.7 .2 .4 .2 1.3 .2-2.8 .2 .2 .2 .6 .2 2.5 .2 3.9 .2-.1 .2-.7 .2-1.8 .2 .7 .2 5.4 .2-8.5 .2 1.1 .2-4.8 .2 4.9 .2 3.7 .2-4.2 .2-1.1 .2 4.2 .2-5.1 .2 1.2 .2 8.5 .2-5.5 .2-3.6 .2 .7 .2-5.2 .2 8 .2-7 .2 3.1 .2 2.4 .2-3.5 .2 7.8 .2-2.4 .2-3.3 .2 2.3 .2-2.1 .2 .1 .2 1.6 .2 4.5 .2-6.6 .2 .9 .2-.1 .2-4.4 .2 10.9 .2-7.1 .2 .4 .2 .8 .2-1.3 .2-2.1 .2-1.9 .2 1 .2 4.9 .2-1.7 .2-.2 .2 .6 .2 .3 .2 .5 .2-3.3 .2 5.8 .2 4.4 .2-3.7 .2-1 .2-2.7 .2 2.1 .2 4.6 .2-4.9 .2-3.3 .2 4.9 .2-5.1 .2 .9 .2 5.8 .2-1.2 .2-2.1 .2-.1 .2-.7 .2 2.9 .2-6.2 .2 .8 .2 0 .2 2 .2 2.8 .2-.3 .2-2.3 .2-4 .2 8.4 .2-7.6 .2 6.4 .2 .6 .2-5.8 .2-2.9 .2 6.4 .2-5.7 .2 1.8 .2 .2 .2-2.3 .2 8.1 .2-1.4 .2 .7 .2-.9 .2-.6 .2 0 .2 .1 .2-4.8 .2 3.4 .2-1.8 .2-1.7 .2 7.6 .2-3.7 .2-1.8 .2 3.3 .2-3.1 .2 5 .2-7.2 .2 3.9 .2 1.6 .2-4.1 .2-2 .2 1.1 .2 4.5 .2-1.3 .2-.9 .2-2.5 .2 1.4 .2-1.2 .2 2.7 .2-6.9 .2 3 .2 .6 .2 6.8 .2-5.9 .2 4.4 .2-2.5 .2-2.9 .2 4.5 .2-3.7 .2 5.7 .2-7.4 .2 1.8 .2 5 .2-5.7 .2 .5 .2 1.3 .2-3.3 .2 2.5 .2-6.1 .2 .4 .2-1.6 .2 7.4 .2-1.8 .2-.4 .2 5.5 .2-4.2 .2-6.2 .2 6.9 .2-9.1 .2 6.7 .2-2.1 .2 2.6 .2-4.1 .2 2.9 .2 2.9 .2-3.6 .2-2 .2-2.1 .2 2.1 .2-.4 .2 .4 .2-1 .2 3.5 .2-1.4 .2-3.9 .2 1.9 .2-2.2 .2 6.3 .2-2.3 .2 6.1 .2-9.1 .2-3.3 .2 1.3 .2 7.6 .2-5.3 .2-1.8 .2 7 .2 1 .2-6.6 .2-1 .2 .6 .2 1.8 .2 4.6 .2-5.2 .2-2 .2 2.3 .2-.8 .2-1.5 .2 2.2 .2 6.6 .2-7.9 .2-2.4 .2-2.4 .2-.3 .2 10 .2-1.1 .2-8.2 .2-.7 .2 4.5 .2-4.3 .2 1.2 .2 4.6 .2-5.5 .2-1.2 .2 6.9 .2 1.6 .2-6.2 .2-1.2 .2 4.2 .2-1.9 .2-6.4 .2 1.2 .2 3.7 .2-1.6 .2 1.4 .2 5.3 .2-4.5 .2-6.4 .2 2.3 .2 .5 .2 3.7 .2-.1 .2 .9 .2 3 .2 1.2 .2-11.8 .2 11 .2-7 .2 .9 .2 .6 .2 6 .2-4.9 .2-2.9 .2 .4 .2-1.5 .2 3.4 .2 .3 .2 1.4 .2-2.4 .2-2.9 .2 4.8 .2 4 .2 .9 .2-7.4 .2 4.9 .2-5.1 .2 3.3 .2-4.1 .2 3.6 .2 6.3 .2-8.8 .2 2.3 .2-3.1 .2-3.8 .2 6.9 .2 1.3 .2 .3 .2-4.9 .2-4.4 .2 7.9 .2 7.4 .2-8.1 .2-8.9 .2 5.5 .2 3.4 .2-1.1 .2 .7 .2-5.8 .2 9.8 .2-1.2 .2-1.9 .2-2.7 .2-.4 .2 1.1 .2 6.7 .2-10 .2 4.4 .2-2.1 .2-1.6 .2 3.1 .2 1.2 .2-8.1 .2 3.3 .2 3.9 .2-1.4 .2 .8 .2-2.2 .2 7.3 .2-7 .2-2.3 .2 3.4 .2 3.6 .2-3.3 .2-6.7 .2 2.3 .2 5 .2-3 .2-.3 .2-5.5 .2-4 .2 6.9 .2 6.8 .2-.2 .2-4.9 .2-3.4 .2 1.1 .2 4.5 .2 4.5 .2-8.4 .2 .9 .2 .7 .2 2.9 .2 0 .2-3.3 .2 3.8 .2 1 .2-7.2 .2 5.7 .2 0 .2-6.4 .2 7.8 .2-5.5 .2-1.6 .2 3.9 .2-.7 .2-3.5 .2 0 .2 .9 .2-3.3 .2 2.7 .2 6.7 .2-8.3 .2-.1 .2 5.3 .2-2.4 .2 1.9 .2-1.8 .2-4.7 .2 1.7 .2 7 .2-6.9 .2 3 .2-3.5 .2 5.7 .2-4 .2-4.3 .2 3.9 .2-.3 .2 1.8 .2-3.6 .2 5.4 .2-2.6 .2 3.1 .2-8.8 .2 9.1 .2-.9 .2-2.8 .2-5.7 .2 8.5 .2-2.2 .2 .2 .2-5.4 .2 3.4 .2 .4 .2-2.4 .2 .1 .2-2.1 .2-1 .2 1.9 .2 5.2 .2-2.9 .2-.7 .2-.2 .2-.8 .2 1.3 .2-.6 .2-1.9 .2 1.1 .2 2.5 .2 5.9 .2-4.7 .2-2.9 .2-4.9 .2 9.1 .2-1.7 .2 1.6 .2-3 .2 2.3 .2 .2 .2-4.7 .2-1.7 .2 5.5 .2-5.5 .2 1.8 .2-1.8 .2-1.5 .2 1.3 .2 5.7 .2-7.2 .2 1.8 .2 3.3 .2-.9 .2-3.8 .2-.3 .2 2.4 .2-.7 .2-3.1 .2 7.4 .2 1.2 .2-6.1 .2-1 .2 2.1 .2-2.9 .2 7.6 .2-1.7 .2-2.1 .2 1.3 .2 .1 .2-.7 .2-3.7 .2 6 .2-3.1 .2-.2 .2 4.1 .2-4.8 .2 1.3 .2 2 .2-3.5 .2 1.7 .2-1.6 .2-2 .2 9.6 .2-4.6 .2-6.3 .2 6.4 .2-2.5 .2-4.1 .2 2.2 .2 0 .2-.3 .2 4.8 .2-7 .2 3.4 .2-4.7 .2 4.6 .2 2.3 .2 1.3 .2-.8 .2-.5 .2-5.3 .2-3.3 .2 11 .2-5.2 .2-4.5 .2 5.5 .2-3.9 .2 4.5 .2-1.6 .2-.9 .2 1.2 .2-.9 .2-5 .2 2.1 .2-.2 .2 1.1 .2-.2 .2 6.7 .2-10.3 .2 6.3 .2-10.6 .2 9.5 .2 2.5 .2-8.3 .2-3.2 .2 4.4 .2 6.7 .2-5.3 .2-1.4 .2 .4 .2-.1 .2-2 .2 5.5 .2-4.8 .2 .2 .2-6.6 .2 3.9 .2-1.4 .2 2.8 .2-1.6 .2-2.3 .2 3.1 .2 3.4 .2 1.1 .2-4.9 .2-1.3 .2 6.1 .2-1.4 .2 1.2 .2-4.7 .2 3.7 .2 .6 .2-3.3 .2-3.9 .2 7.4 .2 1 .2-2.7 .2-4.1 .2 6.7 .2-6.4 .2 2.2 .2 1.1 .2-.8 .2-.8 .2 2.4 .2-5.5 .2 6.5 .2 2.6 .2-4.2 .2 4.9 .2 .5 .2-5.6 .2 1.2 .2 3.4 .2-6.8 .2 7 .2-10.7 .2 6.3 .2-1.7 .2 .9 .2-.1 .2-1.1 .2 2.5 .2 2 .2-7.3 .2 5.3 .2 2.9 .2 3.3 .2-8.4 .2 5.5 .2-5.3 .2 5.5 .2-.3 .2-4.8 .2 2.9 .2-9.2 .2 8.7 .2 .6 .2-1.4 .2 .5 .2-2.7 .2 3.8 .2-2 .2-.5 .2 .4 .2-4.1 .2-2.2 .2 3.1 .2 2.4 .2-.8 .2 1.8 .2 2.1 .2 .5 .2 8.3 .2-9.5 .2 1.4 .2-3.2 .2-3.2 .2 5.5 .2 4 .2-3.8 .2 1 .2 1.4 .2-4.2 .2 4.7 .2 3.3 .2-8.1 .2 1.4 .2-4.1 .2 4.9 .2 4.1 .2-2.8 .2 .9 .2 .8 .2-1.1 .2-8.9 .2 4.1 .2-.4 .2 1.8 .2 .8 .2-1 .2 1.7 .2 .8 .2 0 .2-1.2 .2 3.3 .2-2.5 .2-3.1 .2 3 .2 1.6 .2-.1 .2-3.9 .2 5.6 .2-1.6 .2-3.7 .2 1.8 .2 .8 .2 2 .2-5.1 .2-9.6 .2 6.2 .2 6.7 .2-2.7 .2-2.1 .2-6.6 .2 3.8 .2 3.6 .2 1.5 .2 4.9 .2-13 .2 8.3 .2-5.6 .2 2.7 .2 .7 .2 2.1 .2-1 .2 3.7 .2 .5 .2-.8 .2-7.4 .2-.2 .2 4.2 .2-6.4 .2 8.2 .2 .5 .2-3 .2-.6 .2-1.7 .2 2 .2 2.1 .2-7.2 .2 2 .2-7.3 .2 2.2 .2 7.2 .2-3 .2 .9 .2 4.8 .2-5.4 .2 1.5 .2-2.8 .2-3.9 .2 7.4 .2 3.2 .2 4 .2-12.6 .2 1.5 .2-3.3 .2 3 .2 8.3 .2-6.3 .2 3.4 .2-2.4 .2 .3 .2 .8 .2 8.2 .2-2.3 .2-12.4 .2 11 .2-2.5 .2-1.8 .2 8 .2-8.2 .2-1.6 .2 1.4 .2 .8 .2-.8 .2 1.2 .2-5.2 .2 3.6 .2 .9 .2 2.9 .2-7.3 .2 5.4 .2-2.7 .2 1.9 .2-.1 .2-5.8 .2 8.3 .2-1.9 .2 6.4 .2-9.6 .2 2.1 .2-.1 .2-1.9 .2-1.5 .2 4.3 .2-1.7 .2 .3 .2 .7 .2-4.4 .2 3.2 .2-2.6 .2-3.1 .2 .9 .2 2.6 .2-.8 .2 1.4 .2-5 .2 8.2 .2-6.8 .2 3.2 .2-7 .2 5.4 .2 1.6 .2-2.1 .2-.2 .2 1.4 .2-.4 .2 .5 .2-4.9 .2 3.2 .2-.6 .2 .2 .2-.9 .2 3.6 .2-2.8 .2 3 .2-3.5 .2 .5 .2 .1 .2-4 .2 8.8 .2-9.6 .2-.8 .2 1.8 .2-.4 .2 10 .2-5.8 .2 .6 .2-2.6 .2-.7 .2 5.5 .2-6.8 .2 5.5 .2 .2 .2-.6 .2 .5 .2-8.3 .2 8 .2-4.5 .2 2.3 .2 2.6 .2-4.7 .2 3.5 .2 1.5 .2-1.7 .2-1.1 .2-3.6 .2 1.4 .2 2.1 .2 .4 .2-2.1 .2-3.1 .2-1.5 .2 4.3 .2 6.4 .2-7.7 .2 .7 .2 3.8 .2-.6 .2-3.2 .2 2.8 .2-2.1 .2-3.8 .2 1.8 .2 1.6 .2 3.7 .2-3.7 .2-3.6 .2 1.8 .2 3 .2 .3 .2-.4 .2 1.6 .2 5.4 .2-11.3 .2 2.6 .2 5.4 .2-2.1 .2-2.9 .2 6.8 .2-4.8 .2 1.7 .2-3.2 .2 1 .2 1.6 .2-8.5 .2 3.5 .2 2.8 .2 .2 .2 .2 .2 1.8 .2-6.1 .2-.5 .2 8.8 .2-7.8 .2 1 .2 3.7 .2-1.1 .2-4 .2 6 .2-5.2 .2 6.6 .2-4.6 .2 1.6 .2-3.6 .2 .4 .2-4 .2 3.8 .2-1.3 .2 .5 .2 9.4 .2-9 .2-.7 .2-7.9 .2 13.4 .2 2.5 .2-.9 .2-5.2 .2 4.1 .2-5.5 .2-1.7 .2 1.2 .2 3.7 .2-3.3 .2 1.8 .2-2.1 .2 2.6 .2-2.2 .2 2.9 .2-5.6 .2 3.9 .2 5.5 .2-6.8 .2 2.8 .2-2 .2 1.3 .2-1.9 .2 2.6 .2-4.6 .2 2.3 .2-.7 .2 9.6 .2-10.8 .2 8.4 .2-8.2 .2-.7 .2 4.4 .2-3.2 .2 .4 .2 6.2 .2-2.7 .2-5.9 .2 5.2 .2-1.6 .2-4.4 .2 5.8 .2-3.1 .2-2.6 .2 7.1 .2-11.8 .2 7.5 .2-.5 .2-6 .2 6.1 .2 5.4 .2-3 .2-3 .2 2.4 .2 2.8 .2 .6 .2-1.4 .2-4 .2 .4 .2 5.1 .2-8.9 .2 13 .2-5.9 .2-2.7 .2 .5 .2-.6 .2 4.4 .2-4.4 .2 1.6 .2-3.1 .2 6 .2-7 .2 5.9 .2-3.3 .2-2.9 .2 4.3 .2-2.5 .2 .6 .2 2.4 .2-2.5 .2-2.5 .2 4.9 .2 2.8 .2-6.3 .2 .1 .2-.4 .2 1.1 .2-2.1 .2 4.6 .2-3.2 .2 5.7 .2-11.4 .2 6.3 .2-2.8 .2 5.4 .2-3.1 .2-6.5 .2 4.9 .2 7.5 .2-7.8 .2 4.3 .2-3.2 .2-1 .2 1 .2-5.6 .2 0 .2 9.2 .2-3.1 .2-1 .2 6.6 .2-6.8 .2 6.1 .2-7.3 .2 .5 .2-1 .2 3.3 .2-2.4 .2 4.8 .2 .8 .2-2.7 .2-2.9 .2 5.7 .2-2.6 .2 .6 .2-2.3 .2-2.9 .2 8.5 .2-5.9 .2-1.8 .2 7.1 .2-3.5 .2-3.8 .2 6.9 .2-5.5 .2-1.8 .2-2.7 .2 5.9 .2 .8 .2 .7 .2-1.2 .2 7.7 .2-6.3 .2-3 .2-4.2 .2 4.1 .2 2.6 .2-.6 .2-7.6 .2 2 .2 7.5 .2-5.8 .2 3.6 .2-5.3 .2 2.9 .2-4.8 .2 2.8 .2 3.1 .2 4.7 .2 1 .2-11.5 .2 3.2 .2 .3 .2-2.4 .2 3.6 .2-1.9 .2 7.1 .2-6.5 .2 .3 .2-2.9 .2 3.8 .2-4 .2 6.5 .2-2.8 .2 8 .2-5.6 .2 2.9 .2 .6 .2-6.3 .2 4.1 .2-4 .2 6 .2-10.6 .2 4.8 .2 8.9 .2-13.7 .2 4.2 .2-3.8 .2 2.4 .2 5.1 .2-1.5 .2-5.6 .2-.3 .2 3 .2-1.5 .2-1.4 .2-3.8 .2 6.1 .2 1.9 .2 2.1 .2-4.3 .2 7.2 .2-2.8 .2-8.1 .2 6.7 .2-6.2 .2 7.4 .2-5.4 .2-2.6 .2 7.1 .2-1.4 .2-.2 .2 4.1 .2-13.8 .2 5.9 .2-.2 .2 2.8 .2 5.4 .2-5.6 .2-.4 .2-2.8 .2 2.8 .2-1 .2-1.3 .2 1.4 .2 5.1 .2 .7 .2-8 .2 5 .2-6 .2 9 .2-1.9 .2-1.3 .2 1.7 .2 5.1 .2-3.1 .2-7.8 .2 6.8 .2-.3 .2 2.7 .2 4 .2-6.7 .2-3.8 .2 9.3 .2-8.3 .2 .1 .2 6.7 .2-8.7 .2 4.5 .2-2.2 .2 2.3 .2 .1 .2-4.3 .2 .9 .2 1.2 .2-5.2 .2 1.5 .2-3.9 .2 2.9 .2 5.6 .2 1 .2-1.5 .2 2.1 .2-12.6 .2 11.3 .2-3.2 .2-2.9 .2 3.6 .2-1.2 .2-1.8 .2 5.6 .2-3.7 .2-1.6 .2-2.7 .2 11.5 .2-2.3 .2-9.1 .2 8.3 .2 .5 .2-1.5 .2 .4 .2 .5 .2-3.2 .2 1.3 .2-3.1 .2 4.8 .2 1.9 .2-5.8 .2 4 .2-.4 .2 4.8 .2-8.2 .2 5.1 .2-3.8 .2 2.3 .2 2.2 .2-6 .2 2.4 .2-7.2 .2 7.7 .2 1.8 .2 4.5 .2-5.5 .2-4.6 .2 4.3 .2-2.2 .2 4 .2-4 .2 5 .2-3.7 .2 1.2 .2 2.3 .2-2.7 .2 .6 .2 .8 .2-1.5 .2 4 .2-1.4 .2-4.9 .2-.4 .2 0 .2 1.7 .2 2.6 .2-4 .2 .6 .2-1.9 .2 5.5 .2-1.8 .2-6.1 .2-4.6 .2 10.6 .2-8.3 .2 9.6 .2 .9 .2 1.5 .2 .7 .2-.6 .2 2.8 .2-3.3 .2-3 .2 0 .2-4.3 .2 7.5 .2-5.9 .2-1 .2 2.7 .2-1.9 .2 5.1 .2-12 .2 6.2 .2-3.9 .2 6.2 .2-.1 .2 6.6 .2-12 .2 3.5 .2-.3 .2-2.8 .2 4.6 .2-1.7 .2-1 .2 1.3 .2 1 .2-2 .2 2 .2 4.7 .2-9.4 .2 4.7 .2 1.2 .2 .3 .2-4.5 .2-.5 .2 6.9 .2-5 .2 4.7 .2-6.5 .2 1 .2-2.1 .2 6.3 .2-3.2 .2 2.3 .2-4.3 .2-5.7 .2 7.8 .2 5.5 .2-4.3 .2 5.4 .2-2 .2-5.3 .2 1.3 .2-1.7 .2 2.9 .2-3.8 .2-2.9 .2 12 .2-9 .2-3 .2 4.8 .2-4.4 .2 1.5 .2 0 .2 .3 .2 2.7 .2 3.4 .2-2.3 .2-3.6 .2 1.2 .2-.3 .2 5.1 .2-2.1 .2 .5 .2-6.2 .2 3.2 .2-.3 .2 6.6 .2-5.3 .2 2.7 .2-2 .2-1 .2-1.1 .2 3 .2-1.7 .2-2.5 .2 2.9 .2 2.4 .2-1.4 .2-4.5 .2-4.6 .2 7.3 .2 3.7 .2-.7 .2-2 .2-.5 .2-3.5 .2-3.1 .2 3.7 .2-5 .2 1.5 .2 5.2 .2-3.7 .2 2.5 .2 1.8 .2 3.1 .2 .1 .2-8.3 .2 4.6 .2-5.1 .2 2.5 .2 3.7 .2-3.5 .2 3.4 .2 1.4 .2-4.8 .2-5 .2 3.5 .2 4.4 .2-4.6 .2 3.1 .2-4.1 .2 2 .2 3.9 .2-3.5 .2-3.6 .2 1.4 .2-.5 .2 2.4 .2 1.3 .2 1.2 .2-5.7 .2 1.4 .2-.5 .2-2.6 .2-4 .2 4.1 .2 4 .2-2.4 .2 4.9 .2 2.4 .2-2.8 .2-3.6 .2-3.4 .2 6.7 .2-1.4 .2-2.5 .2-5.4 .2 2.4 .2-3.3 .2 .5 .2 7.2 .2-3.8 .2 4.8 .2-.7 .2 .5 .2-3 .2-2.1 .2 3.8 .2-3.5 .2 1 .2-.4 .2 1.7 .2 .2 .2 9.1 .2-3.2 .2-7.9 .2 1.8 .2-.6 .2 .8 .2 3.9 .2-.9 .2 0 .2-4.4 .2-4 .2-.6 .2 9.2 .2-2.7 .2 1.6 .2-1.3 .2-6.9 .2 7.3 .2-5.2 .2-.5 .2 4.7 .2 4.2 .2-8 .2 1.1 .2-2 .2 4.8 .2 3.7 .2-8.1 .2 8.8 .2-4.9 .2-1.1 .2-5.8 .2 8.2 .2-3.3 .2-2.7 .2 1.7 .2 .8 .2-5.1 .2 1.4 .2 5.7 .2-1.2 .2-3.3 .2 2.3 .2 3.3 .2 2.2 .2-8.2 .2-2.7 .2 4.8 .2 4.3 .2-9.4 .2 8.9 .2-4.1 .2-7.8 .2 7.1 .2-6 .2 8.6 .2 1.1 .2-6.2 .2 3.3 .2-4 .2 3.5 .2 5.5 .2-5.3 .2 .8 .2-2 .2 4.2 .2-2.6 .2 1.5 .2-3.3 .2 5.3 .2-4.9 .2 4.3 .2-6.6 .2 7.8 .2-5 .2-.3 .2 1.2 .2-3.9 .2 3.3 .2 .7 .2-.2 .2-2.2 .2-2.2 .2 1.8 .2 5.3 .2-9.3 .2 6.6 .2-6.3 .2-1.4 .2 .8 .2 2.8 .2-3.6 .2 6 .2 .4 .2-4.1 .2 1.7 .2-4 .2 4.3 .2 1.4 .2 0 .2-2.6 .2 3.9 .2-4.7 .2 1.6 .2 5.4 .2-5.5 .2 4.7 .2-10.6 .2 1.5 .2 9 .2 3.7 .2-6.7 .2 2.9 .2-6.1 .2-3.1 .2 4.6 .2 6.1 .2-5 .2-.7 .2-1.1 .2-.3 .2 3.9 .2-.5 .2 2 .2-6.7 .2 2.6 .2-2.3 .2 6.1 .2 .9 .2-2.3 .2-7.2 .2 9.5 .2-1.6 .2-7.2 .2 5.5 .2-.8 .2 1.4 .2 1.5 .2-1.4 .2 .8 .2 .8 .2-.2 .2-4.9 .2 3.3 .2-3.7 .2-1.9 .2 .1 .2 2.9 .2 2.5 .2-.6 .2 .5 .2 1.9 .2-5.1 .2 1.3 .2-.3 .2 3.9 .2-2.8 .2 5.8 .2-8.4 .2 7.8 .2-4.6 .2 9.8 .2-2.3 .2-6.8 .2 4.9 .2-7.2 .2 2.2 .2-3.6 .2 4.5 .2 1.7 .2-5.5 .2 3.5 .2 2.3 .2-.8 .2 .1 .2-3.6 .2 4.2 .2 2.3 .2-2.3 .2 4.3 .2-9 .2 1.3 .2 1.7 .2 5.6 .2-.5 .2-1.6 .2-5.2 .2-5.5 .2 9 .2-5.1 .2 2.5 .2 2.2 .2-3.5 .2 4.1 .2-1.2 .2 3.5 .2-2.5 .2 9.7 .2-11 .2-3 .2-2.6 .2 10.8 .2-5.4 .2 6.1 .2 3 .2-5.7 .2-2.1 .2 .4 .2-4.7 .2 7.9 .2-6.1 .2-5.7 .2 9.4 .2 1.3 .2-1.7 .2 3.6 .2-5.8 .2 5 .2-2.2 .2 .3 .2 .3 .2-.7 .2 3.5 .2-1.2 .2-5.3 .2 4.8 .2 .2 .2-6.4 .2 2.1 .2 1.8 .2-4.9 .2 5.8 .2-1.8 .2 3.8 .2 1.5 .2 6.1 .2-8.3 .2-2.5 .2 .8 .2 4.3 .2 1.7 .2-8.2 .2 3.4 .2-2.4 .2 2.9 .2-4.1 .2 4.7 .2-1.4 .2 4.1 .2-4.3 .2 6.7 .2-12.9 .2 .2 .2 1.5 .2 1.4 .2 3.4 .2-1.3 .2-4.8 .2 9.4 .2-2.9 .2-1.8 .2 3.1 .2-1.1 .2-1.8 .2-5.5 .2 3.5 .2 .1 .2 2.4 .2 1.4 .2-1.6 .2-2.1 .2-1.5 .2 1.6 .2-2.7 .2 1.9 .2-.5 .2-1 .2 5.2 .2-3.4 .2-.1 .2-2.4 .2 2.1 .2 2.1 .2-5.2 .2 8.7 .2-.6 .2-5.6 .2 .5 .2 1.7 .2 1.7 .2-6.1 .2-4.8 .2 6.4 .2-2.7 .2 3.5 .2 1.4 .2 8.6 .2-7 .2 0 .2-2.4 .2 3 .2-.4 .2-6.9 .2 1.9 .2 3.7 .2-4.1 .2-2.6 .2 4 .2 1.9 .2 3.5 .2-8.1 .2 4.2 .2 2.7 .2-5.7 .2 .5 .2-4.7 .2 .4 .2 8.9 .2-3.2 .2-.3 .2-3.9 .2 12 .2-12.3 .2-1.2 .2 6.9 .2 1.8 .2-4.2 .2 1.3 .2 2.3 .2-4.3 .2-2.1 .2 0 .2 2.4 .2-3.2 .2 6.3 .2-2.1 .2-.3 .2 .8 .2-.4 .2 1.4 .2 2 .2-3.7 .2 1.2 .2-3.3 .2 6.5 .2-6.3 .2-1 .2 1.7 .2-8 .2 4.5 .2-4 .2 12 .2-2.4 .2-4.4 .2-3.9 .2 4.4 .2 3 .2-5.6 .2 2.9 .2-2.6 .2 9.3 .2-5.4 .2 .3 .2 0 .2-4.6 .2 4.5 .2-1.9 .2-1.9 .2 2.8 .2-1.1 .2 2.6 .2 1.2 .2-7.9 .2 4.9 .2-2.9 .2 .5 .2 7.5 .2-5.2 .2-1 .2 1.8 .2-2.8 .2 3.6 .2 .8 .2-8 .2 10 .2-5.8 .2-1.1 .2 2.2 .2-.4 .2-3.8 .2 0 .2-4.7 .2 12.6 .2-12.3 .2 11.9 .2-5.5 .2 4.1 .2-3.1 .2 3.1 .2-1.8 .2-6.9 .2 7 .2-1.6 .2-5.6 .2 .8 .2 5.1 .2 2.3 .2-4 .2-2 .2 1.8 .2 4.5 .2-3.9 .2-3.2 .2 3.7 .2 2.2 .2 3.2 .2-7.3 .2 0 .2-3 .2-2.7 .2 6.8 .2 2.8 .2-2.2 .2-3.2 .2 4 .2 4.7 .2-8 .2 7.5 .2 0 .2-2.7 .2-2.8 .2-2.9 .2 3.5 .2-2 .2-2.7 .2 5 .2 4.6 .2-7.4 .2 2.1 .2 .7 .2-6.9 .2 2.3 .2 4.5 .2-1.4 .2 5.2 .2-3 .2-1.6 .2-5.1 .2 8.7 .2 2.5 .2-9.3 .2 7.5 .2-.1 .2-3 .2-1.9 .2 1.2 .2 .6 .2 5.5 .2-5.8 .2 7.2 .2-11 .2-2.5 .2 9.5 .2-8.4 .2 7.7 .2-2.4 .2 .5 .2-2.4 .2-3.1 .2 4 .2-1.7 .2 7 .2-7.2 .2 2.8 .2-4 .2 .4 .2 6.4 .2-5.7 .2 4.8 .2-1.2 .2 3.5 .2-14 .2 12.5 .2-4.6 .2 6.1 .2 6.1 .2-11 .2-1.1 .2 2.8 .2 3.4 .2-3.9 .2-3.5 .2-.1 .2 5.2 .2-4.4 .2 8.2 .2-7.9 .2-.4 .2-1 .2 .9 .2 2.1 .2 4 .2-4.3 .2 2.1 .2 1.1 .2-4.2 .2-.1 .2 5 .2-3.7 .2 .7 .2-1 .2-2.3 .2 2.5 .2-5.3 .2 1.6 .2 1.6 .2 2.6 .2 1.5 .2-.6 .2-8.2 .2 3 .2 4.9 .2-4.6 .2-2.7 .2 9.2 .2-6.4 .2 .2 .2 1.9 .2 1.5 .2 2.3 .2 1.2 .2-5.7 .2-1 .2 2.8 .2 4.8 .2-10.5 .2 5.3 .2 5.8 .2-8.4 .2 1.3 .2 5.7 .2-7.2 .2 3.2 .2-1 .2 1.7 .2-2.6 .2-1.8 .2 .6 .2 .9 .2 4 .2-4.7 .2-2.8 .2 13.7 .2-2.3 .2-3.4 .2-4 .2 4.8 .2-6.4 .2 1.6 .2-4.2 .2 5.5 .2 .4 .2-4.8 .2 7.7 .2-3.6 .2-4.4 .2-.2 .2-2.1 .2 6.1 .2-3.9 .2 .2 .2 1.7 .2 8.2 .2-6.3 .2 3.5 .2 .6 .2-10.6 .2 7.2 .2 2.6 .2-7.9 .2-.1 .2 2.3 .2 2.1 .2 .2 .2-.4 .2-7.3 .2 8.2 .2-3.3 .2 5.6 .2 .3 .2-4.2 .2-2.6 .2 6.1 .2-6 .2 2.4 .2 2.6 .2-7.7 .2 6.1 .2-1.2 .2-1.6 .2-2.8 .2 2.9 .2 4 .2-2.6 .2 2 .2-1.8 .2 5.2 .2-4.7 .2 2.5 .2-4.6 .2-1.4 .2-3.5 .2 2.3 .2 8.8 .2-.6 .2-4.4 .2 6.5 .2-3.7 .2-.8 .2 3.5 .2-11 .2 .2 .2 3.4 .2 9.1 .2-5.7 .2 3.2 .2 3 .2-4.7 .2 .9 .2 2.8 .2-5.5 .2 2.7 .2-2.7 .2 5.8 .2-5.9 .2 2.3 .2 .9 .2-9.5 .2 5.6 .2 2.9 .2-1.7 .2-.7 .2 6.7 .2-2.2 .2-2.3 .2-4.7 .2 1.7 .2 4.5 .2-7.9 .2 7.2 .2 1.3 .2-7 .2-2.5 .2 8.8 .2-3.7 .2 4.4 .2-3.4 .2-5.5 .2 4 .2 .4 .2 .9 .2-1.6 .2 6 .2-4.1 .2-2.6 .2 4.2 .2-5.3 .2 5.6 .2-3 .2-2 .2 2.2 .2-3.6 .2-1 .2 3.9 .2 1.6 .2 1.2 .2-3 .2 1 .2 5 .2-4.7 .2 1.2 .2-4.9 .2 3.6 .2-4 .2 4 .2-5.6 .2 14.2 .2-2.9 .2-7.9 .2 3 .2-6.6 .2 7.1 .2 .3 .2 .6 .2-.5 .2-1.6 .2 .1 .2-1 .2 1.6 .2 .3 .2-7.5 .2 2.5 .2 4.1 .2-3.8 .2 4.3 .2-3.3 .2 .9 .2-1.9 .2-.8 .2 8.4 .2-7.1 .2 5.6 .2-8.9 .2 3.2 .2-.3 .2 2.6 .2-4.4 .2-.4 .2-.1 .2 6.3 .2-5.6 .2-.5 .2 3.9 .2-4.8 .2 3.4 .2-3.6 .2-3.2 .2 11.1 .2-8.4 .2 2.1 .2 4 .2-1.1 .2-4.8 .2 2.6 .2-3.2 .2 3.8 .2-3.3 .2 7.7 .2-8.5 .2 6.1 .2 2.6 .2-4.3 .2 3.2 .2-.7 .2 3.1 .2-6 .2 5 .2-3.3 .2-1.1 .2 .8 .2 2 .2-6.1 .2 9.1 .2-8.3 .2 3.8 .2-3.8 .2 5.1 .2-.4 .2-8.8 .2 2.5 .2 5 .2 4.9 .2-6.9 .2-4 .2 7.4 .2-4.1 .2 1.1 .2-1.5 .2-.2 .2 1.4 .2-.5 .2 1.6 .2 3.5 .2-2.4 .2 .4 .2-3 .2 1.5 .2 5.1 .2 2.4 .2-4.7 .2-6 .2 5.4 .2-5.8 .2 5.4 .2-1.9 .2-2.7 .2 6.8 .2-5.3 .2 .6 .2-.8 .2-6.4 .2 5.3 .2-5.4 .2 2.9 .2 1.7 .2 4.6 .2-8.6 .2 5.2 .2 .7 .2 .1 .2 0 .2 .1 .2-1.3 .2 3.7 .2-1.3 .2-1 .2 .2 .2-4.9 .2 4.9 .2 2.5 .2-5.5 .2 1 .2 2.3 .2-.1 .2 3.2 .2-8.6 .2 5.5 .2-3.2 .2 3.4 .2-4.8 .2 .8 .2-1.4 .2 1.5 .2 9.4 .2-6.8 .2-4.5 .2 4.2 .2-8.4 .2 9.3 .2-1.9 .2-3 .2 1.2 .2 2.4 .2-1.7 .2 3.7 .2-4.5 .2 .3 .2 2.8 .2 .8 .2-4.7 .2-1.4 .2 8.8 .2-4 .2-4 .2 9.9 .2-9.3 .2 2.4 .2-2.9 .2 7.5 .2-3.8 .2-4.1 .2 7 .2 2.5 .2-7.5 .2 0 .2 7.8 .2-2.1 .2 5.9 .2-3 .2-4.7 .2-1.7 .2 1.4 .2-1.5 .2 3.2 .2-3 .2 3 .2-9.4 .2 7.1 .2 1.8 .2-9.4 .2 2.9 .2-.8 .2 7.3 .2-2.9 .2 3.3 .2-2.8 .2-3.6 .2 4.2 .2-.7 .2-2.1 .2 6.1 .2-5.5 .2 3.9 .2-1.4 .2-.7 .2-2.9 .2-1.1 .2 7.5 .2-3.5 .2-2.8 .2 3.1 .2 7.1 .2-8.8 .2 .3 .2-1 .2 5.3 .2-6.7 .2 1 .2 .1 .2 3.1 .2-4.2 .2-4.9 .2 3.8 .2 3.2 .2 1 .2-1.3 .2 2.9 .2-.8 .2-2.3 .2-4 .2 9.3 .2-7 .2 4.3 .2-6.4 .2 5.2 .2-.9 .2 2.4 .2-1.7 .2-.5 .2 4.5 .2-2.5 .2 .8 .2-4.4 .2 6.1 .2-4.7 .2 2.4 .2-3.2 .2 2 .2 .9 .2-5.6 .2 4.3 .2 1.1 .2 2.2 .2-3 .2-.2 .2 .8 .2-2.3 .2-.4 .2 4.4 .2-1.9 .2 1 .2-3.1 .2 4.9 .2-3.5 .2 1.7 .2 6.3 .2-12.8 .2 2.3 .2 6.3 .2-5.8 .2-1 .2-.7 .2 2.8 .2 .7 .2-.1 .2 3.9 .2-10.7 .2 8 .2 1.2 .2 .6 .2 1.7 .2-2.9 .2-3.1 .2 3.3 .2-6.2 .2 3.8 .2 .6 .2-2.8 .2 5.4 .2-8.3 .2 2 .2 6.6 .2-3.8 .2 3.9 .2-6.6 .2-1.6 .2 2.1 .2 2.3 .2-2.7 .2 10.4 .2-.7 .2-7.6 .2 2.1 .2-3 .2 7.8 .2-5.1 .2 2.1 .2-4.6 .2 4 .2-6 .2 8.4 .2-3 .2-1.5 .2 2.1 .2 2.7 .2-2.1 .2-3.7 .2 2.2 .2-6.3 .2 4 .2 2.7 .2-4.8 .2 2.7 .2-5.4 .2-.8 .2 2.5 .2 3.9 .2-.1 .2-4.6 .2-.9 .2 6.9 .2-.8 .2-2 .2 2.7 .2 2.4 .2-4.3 .2-2.7 .2 4.4 .2 1.4 .2 .5 .2-4.2 .2 4.3 .2-1.3 .2-1.5 .2 2.7 .2-3.9 .2 1 .2-.5 .2 2.2 .2-9.9 .2 5.8 .2 2.7 .2 2.2 .2-2.2 .2-3.4 .2-2.8 .2-5.5 .2 10.2 .2-2.2 .2 7.1 .2-1.1 .2-4.8 .2-5.7 .2 .3 .2 3.8 .2-1.6 .2 2.4 .2 9.6 .2-.8 .2-2.1 .2-8.2 .2 1.7 .2 .2 .2 3.8 .2-2.1 .2 1.8 .2-4.7 .2 6.6 .2-6.9 .2 3.7 .2-.6 .2-5.1 .2 6.3 .2 2.3 .2 .6 .2-11.6 .2 5.3 .2 1.3 .2-1.3 .2-1.4 .2 2.3 .2 4.7 .2-6.9 .2 0 .2-1.8 .2 2.4 .2 9.2 .2-9.9 .2 1.4 .2 .3 .2-5.5 .2 3.3 .2 6.7 .2-.6 .2-3.2 .2-1.8 .2 1.6 .2-3.9 .2 .2 .2 1.1 .2 10.3 .2-5.7 .2-1.7 .2-1.4 .2-2.1 .2 4.1 .2-1.7 .2 2.4 .2-6.5 .2 3.2 .2 3.2 .2-6 .2 2.5 .2-.9 .2-1.9 .2 6.8 .2-5.5 .2 3.8 .2-1.3 .2-1.9 .2 1.6 .2-2.3 .2-2.8 .2 6.5 .2-6.3 .2 5.4 .2-4 .2 11.4 .2-6.1 .2 0 .2-4.1 .2 2.3 .2-.6 .2 0 .2-1.9 .2 4.3 .2-.7 .2-6.7 .2 5.9 .2 .5 .2 1.9 .2-1.6 .2 .8 .2-6.6 .2-3 .2 4.8 .2-1.3 .2 1.9 .2 .8 .2-3.7 .2 7.1 .2-2.3 .2 2.6 .2-.9 .2 1.4 .2-5.1 .2 1.4 .2 2.3 .2-2.8 .2 3.6 .2-2.4 .2 3.1 .2 1.9 .2-3.3 .2-2.6 .2-1.2 .2 3.7 .2 4.1 .2-8.2 .2 2.5 .2-2.9 .2-1.9 .2 1.8 .2-2.1 .2 8.4 .2-4.4 .2 4.5 .2-1 .2-2.9 .2 .6 .2-3.2 .2 .6 .2 3.2 .2 3.1 .2-11.5 .2 5.7 .2 1.8 .2-2 .2 7.4 .2-8 .2 2.7 .2 1.9 .2-.8 .2-1.5 .2-1.3 .2 1.7 .2 2.5 .2-3.8 .2 1.1 .2-.5 .2-2.6 .2-3.3 .2 2.6 .2 4.1 .2 .8 .2 0 .2-.4 .2 5.1 .2-7.8 .2 1.1 .2 .7 .2-3.4 .2 2.3 .2 5.6 .2-1.5 .2-1.1 .2 .5 .2-1.9 .2 1.1 .2-6.3 .2 5.4 .2 1.4 .2 4.2 .2-4.5 .2-.8 .2 1.1 .2-4 .2 7.3 .2 2.3 .2-4.9 .2 2.3 .2-2.3 .2-5.3 .2 1.2 .2-2.4 .2 6.9 .2-4.7 .2 3.8 .2-3 .2 8.6 .2-.8 .2-.9 .2-6.1 .2-.7 .2 .7 .2-7.1 .2 5.5 .2 10 .2-5.7 .2-3.8 .2-1.9 .2 1.7 .2-.6 .2 4.9 .2-.7 .2-5.4 .2 8.1 .2-2.8 .2-3.1 .2 1.1 .2-2.7 .2 .3 .2 5.3 .2-1.9 .2 1.9 .2-8.4 .2 4 .2-.2 .2-3.1 .2 7.3 .2-6.2 .2 11.4 .2-8.5 .2 .1 .2 3.9 .2-4.5 .2-3.3 .2 8.1 .2-1.5 .2-2.4 .2-2.9 .2 7 .2-4.5 .2-.1 .2-7.7 .2 9.5 .2-3.6 .2 1.1 .2 .8 .2-4.8 .2 7.7 .2-5.8 .2 1.6 .2 .5 .2-4.9 .2 5.7 .2-1.7 .2 3 .2-5.1 .2 4 .2-.6 .2 2.7 .2-1.2 .2-2.5 .2-1.7 .2-.3 .2 3.6 .2-.7 .2 1.8 .2-1.9 .2 .6 .2 1.5 .2-6.1 .2 6.9 .2 .5 .2 0 .2 2 .2-4.1 .2 6.1 .2-10.6 .2 2.5 .2 1.5 .2 7.3 .2-2.1 .2-6.5 .2 4.1 .2-2 .2 .8 .2-7.5 .2 3.8 .2 9.3 .2-10 .2 4.7 .2-6.8 .2 3 .2-1.4 .2 4.6 .2-2.6 .2 4 .2-6.8 .2 6.5 .2-3.4 .2 2.2 .2-3.4 .2-6.2 .2 .2 .2 9.3 .2-1.1 .2-1.3 .2 .4 .2-2.5 .2 .1 .2-.9 .2 9.1 .2-7.2 .2 6.5 .2-7.8 .2-2.4 .2 13.1 .2-6 .2-8.9 .2 9.4 .2-5.1 .2-3.7 .2 6.9 .2-3 .2 .3 .2 1.8 .2 .8 .2-5.4 .2 9.6 .2-.4 .2-2.9 .2 .5 .2 .5 .2 3.4 .2-5.4 .2 .7 .2 1.3 .2-5.8 .2 5.8 .2 .8 .2-2.4 .2 6.9 .2-7.7 .2 4.7 .2-7.2 .2-1.8 .2 2.2 .2-.3 .2 .1 .2 5.3 .2-2 .2 .8 .2-5.8 .2 1.3 .2 7.1 .2-.8 .2 .1 .2 1.1 .2-.5 .2-1.2 .2-.2 .2 .7 .2-3.5 .2 5.5 .2-5.9 .2 2.4 .2 1.5 .2-.6 .2-1.6 .2-3.5 .2 5.7 .2-.5 .2-2 .2 3.4 .2-1.5 .2 .9 .2-2.6 .2-4.1 .2 4.4 .2 4 .2-4 .2 2.3 .2-12.5 .2 5.1 .2 7.6 .2 5.6 .2-16.8 .2 11.2 .2-7.4 .2 4.7 .2-3.2 .2 1.7 .2-6.2 .2 2.4 .2 8 .2-8.9 .2 3.2 .2 2 .2-3.1 .2 1.5 .2 1.4 .2 1.7 .2-2.7 .2-5.1 .2 8.7 .2-2.3 .2 1 .2-2.2 .2 3.2 .2 1.2 .2-3.5 .2-3.5 .2 5.5 .2-8.3 .2 9.5 .2 2.1 .2-3 .2-4 .2 6.3 .2-2.9 .2 2.4 .2-4.7 .2 3.7 .2-7.9 .2 4.8 .2-.3 .2-1 .2 3.3 .2-4.2 .2-.3 .2 4.1 .2-5.4 .2 3.4 .2 3.1 .2-2.9 .2-.4 .2 5.9 .2-6.4 .2-1.2 .2 3.9 .2 1.2 .2-2.7 .2-3.1 .2 11.5 .2-6.6 .2-2.6 .2 3.4 .2-2.6 .2-1 .2 3.5 .2-3.6 .2 .3 .2 1.6 .2-.9 .2-2.6 .2-4.2 .2 6.4 .2-3 .2-1.2 .2 5.4 .2-1.6 .2-4.5 .2 5.1 .2-2.5 .2-1.1 .2-3.7 .2 6.9 .2-1.3 .2 0 .2 3.3 .2-5.7 .2-3.5 .2 7.2 .2 1.8 .2-9.6 .2 8.8 .2-1 .2 1.5 .2-2.1 .2-2.6 .2 3.6 .2-2.5 .2 .4 .2 5.9 .2-7.1 .2 2 .2-2.8 .2 4 .2 2.1 .2-2.5 .2-4.4 .2 6.3 .2-4.6 .2 1.4 .2 2 .2-.1 .2-3.9 .2 3 .2-1.1 .2-5.2 .2 4.1 .2 2 .2-4.3 .2 5.9 .2-6.3 .2 8.5 .2-2.2 .2-4.7 .2 1.8 .2-.2 .2 .7 .2-4.8 .2 2.6 .2-2.5 .2-1.3 .2 .3 .2-1.2 .2 8 .2-7.6 .2-2.7 .2 2.9 .2 0 .2 3.8 .2 6.9 .2-8.7 .2-1.9 .2 6.8 .2-7.4 .2 5 .2-4.5 .2-2.1 .2-.1 .2 5.3 .2 .6 .2-4.2 .2 6 .2-6.2 .2 1.8 .2 4.8 .2-4.5 .2 3.3 .2-5.7 .2 3.1 .2 2.9 .2 .8 .2-2.7 .2-3.4 .2 .8 .2 .7 .2 5.3 .2-3.5 .2-6.8 .2 2.1 .2 .3 .2 1.7 .2-.5 .2 3.8 .2-2.7 .2 3.2 .2-1.2 .2-7.1 .2 5.2 .2-9.6 .2 10.4 .2 2.2 .2-1.3 .2-4.2 .2 .8 .2 5.4 .2-3.2 .2 1.1 .2 .7 .2-3.7 .2 3.2 .2 1.2 .2-9 .2 1.2 .2 3.7 .2 1.2 .2-.4 .2 1.2 .2-1.2 .2 2.6 .2-2.5 .2 1.2 .2-2.7 .2-1 .2-2.1 .2 1.4 .2 3.9 .2-.3 .2-1.2 .2-10.1 .2 11 .2-1.9 .2 7.4 .2-6.5 .2-5.1 .2 6.3 .2-3.4 .2-1.3 .2 4 .2-2.7 .2 5.6 .2 .4 .2-4 .2-1.8 .2 1.6 .2 2.7 .2-5.1 .2-.2 .2 4 .2-2.9 .2 3 .2-4.4 .2 5.4 .2-1.5 .2 3.2 .2-5.6 .2-1.2 .2 4.5 .2-2.8 .2 1.6 .2 2.7 .2 .6 .2 3.6 .2-5.5 .2-7.8 .2 12.4 .2-5.5 .2 0 .2-5.2 .2 10.6 .2 2.1 .2-5.1 .2-1 .2-1.6 .2-1 .2 4.6 .2-2.2 .2 2.6 .2-2.5 .2-3.7 .2 9 .2-9 .2 6 .2-1.9 .2-2.7 .2-5.4 .2 6.4 .2 1.8 .2-3 .2 5.1 .2-7.5 .2 1 .2 3.4 .2 1.3 .2-2.8 .2 2.9 .2-7.1 .2 1.2 .2 1.3 .2 0 .2-.5 .2 4 .2 2.2 .2-5 .2 6.2 .2-3.1 .2 1.8 .2-2 .2 1.6 .2-3.1 .2-.8 .2-2.1 .2 .4 .2 5.2 .2-4.5 .2 3.8 .2 3.4 .2-4.6 .2 2.3 .2 2.1 .2-4.3 .2 8.1 .2-8.6 .2 .3 .2 7.6 .2-7.4 .2-3.4 .2 6.7 .2-5.2 .2-3.1 .2 6.7 .2-4.5 .2 6.7 .2-8.5 .2-1.6 .2 7.7 .2-4.1 .2 1.6 .2 1 .2 1.6 .2-4.7 .2 8.7 .2-3.6 .2 6.2 .2-9.2 .2-1.5 .2 4.3 .2 4.4 .2-9.4 .2 4.8 .2 1.8 .2-4 .2-3.8 .2-1.7 .2 7.2 .2-9.1 .2 9.6 .2 1.2 .2-1.1 .2-5.9 .2 6.2 .2 3.1 .2-8.8 .2 10.8 .2-6.8 .2 1 .2 2.3 .2-1.5 .2-5.5 .2 5.4 .2-3.9 .2-6.1 .2 11.2 .2-9.3 .2 11.6 .2 .1 .2-1.5 .2-8.5 .2 .8 .2 5.8 .2-3.9 .2 2.3 .2 3.9 .2 .5 .2-11.3 .2 9.1 .2-1.8 .2-1.5 .2-4.3 .2 2.1 .2 .9 .2-.6 .2 2.1 .2 .1 .2-3.5 .2 3.5 .2 7.5 .2-5.7 .2 .6 .2-3 .2 3.7 .2-.4 .2-4 .2-4.3 .2 7.5 .2 6 .2-4.3 .2-3.5 .2 1.2 .2 1.5 .2-.6 .2 3.7 .2-8.9 .2 3 .2-2.1 .2 .2 .2 .3 .2 .7 .2 3.4 .2 .6 .2-3.4 .2-2.1 .2 4.1 .2 .9 .2 0 .2-4.8 .2-1 .2-1.1 .2 .8 .2-.5 .2 4.5 .2-7.4 .2 5.3 .2-.7 .2-1.4 .2 6.7 .2-1.5 .2-8.9 .2 5 .2 5.7 .2-1 .2-1.2 .2-2.5 .2-3.4 .2 3.5 .2 4.3 .2-3.8 .2 1.6 .2-7.2 .2 4.7 .2 1.9 .2 3.8 .2-6.7 .2 4.1 .2-6.8 .2-.8 .2 4.4 .2-1.4 .2-.8 .2 7.2 .2-1.1 .2-3.7 .2-3 .2 2 .2-4.9 .2 5.9 .2-6.9 .2 .8 .2 5.4 .2 .6 .2 .5 .2-1.2 .2-2.9 .2-3.6 .2 9.3 .2-.5 .2-6 .2-2.7 .2 7.2 .2-1.9 .2 .2 .2 1.7 .2 .7 .2-8.2 .2 11.5 .2-5.4 .2 2.8 .2-3.8 .2 3.5 .2-2.3 .2-2.8 .2 3.7 .2-1.1 .2-1 .2-.3 .2-1.4 .2 2.3 .2 2.6 .2 .8 .2-10.8 .2 14.9 .2-6.9 .2-1.6 .2 1.9 .2-7 .2 9.7 .2-7.2 .2 4.4 .2-3.1 .2-1.1 .2 1.4 .2 1.1 .2 .7 .2 .9 .2-1.3 .2 2.9 .2-2.2 .2 .4 .2-2.4 .2 .9 .2 1.5 .2-7.2 .2 3.1 .2 8.9 .2-2 .2-1.3 .2-5 .2 5.2 .2-4.3 .2 .4 .2 3.3 .2-1.3 .2-8.4 .2 4.7 .2 3.5 .2-2.5 .2 .1 .2 5 .2 1 .2-.7 .2-4 .2 5.8 .2-3 .2-4.2 .2 2.3 .2 2.9 .2 .5 .2 1.7 .2-2.6 .2-.3 .2 8.2 .2-5 .2-6 .2 6.3 .2 .1 .2-4.4 .2-2.3 .2 0 .2 1.3 .2-1.3 .2 1.7 .2 5.4 .2-1.8 .2-2.9 .2-.1 .2 .6 .2 4.5 .2-6.4 .2 .5 .2-1.6 .2-5.3 .2 6.8 .2-1.7 .2 .3 .2-1.8 .2 4.5 .2-4.1 .2 5.3 .2 2.1 .2-3.2 .2-3.6 .2-.6 .2 2.2 .2 5 .2-8.5 .2 4.5 .2-3.8 .2 .8 .2 5.9 .2-3.4 .2 1.4 .2 .9 .2-.5 .2 1.8 .2-6.4 .2 1.1 .2 4.1 .2-5.6 .2-2.6 .2 1 .2-1.8 .2 4.6 .2 1.3 .2 2.9 .2 .3 .2-4.6 .2-.8 .2-.5 .2 .2 .2-4.1 .2-2.5 .2 11.8 .2-3.9 .2 5.5 .2-2.1 .2-.7 .2-7.8 .2 7.9 .2-6.2 .2 1.2 .2 6.9 .2-5.3 .2 0 .2-3.6 .2 2.1 .2-1.4 .2 1.5 .2-4.4 .2 2.8 .2 2.7 .2-.6 .2-2.1 .2 7.9 .2-1.1 .2-2.1 .2 1.2 .2-.5 .2-.1 .2-1.6 .2-2.4 .2 6.3 .2-4.5 .2-1.2 .2 .4 .2 9.9 .2-6.1 .2-4.7 .2 .6 .2-3.3 .2 4.1 .2-1.8 .2 1.7 .2 2.7 .2-3.2 .2 6.6 .2-3.9 .2-5.9 .2 7.2 .2-1 .2-9.1 .2 4 .2-3 .2 6.3 .2-3.8 .2-2.2 .2 3 .2 1 .2-6.2 .2 .7 .2 5.5 .2 .9 .2-2.4 .2-2 .2-.3 .2-3.8 .2 1.5 .2 7.5 .2-6.8 .2-8.4 .2 10.7 .2-.8 .2-2.5 .2 2.5 .2-4.6 .2 5.6 .2 .1 .2-6.7 .2 1 .2 .5 .2 .3 .2 6 .2-5.7 .2-3 .2 2.7 .2 .3 .2-.9 .2 .7 .2-1.7 .2 1.1 .2-3.1 .2 3.6 .2-4.2 .2 2.9 .2-4.8 .2 7.8 .2 4.1 .2-8.2 .2-1 .2 .8 .2 .9 .2-.2 .2 1.1 .2-6.2 .2 3.2 .2 1.9 .2 2.1 .2-5 .2 9.1 .2-4.5 .2 .9 .2 3.2 .2-7.1 .2 .3 .2 4.1 .2-4.5 .2 .9 .2 3.5 .2 .7 .2 1.7 .2-1.6 .2-2.2 .2 4.6 .2 3.1 .2-7.5 .2 3.7 .2-3.1 .2 5.1 .2-1.7 .2-3.7 .2 2.6 .2 4.7 .2 1.9 .2-6.7 .2-3 .2 7.7 .2-5.2 .2 1.6 .2-8.3 .2 3.3 .2 1.8 .2-.4 .2 4.9 .2-1.9 .2-.1 .2 2.9 .2 .5 .2-8.6 .2 3.5 .2-.1 .2-4 .2 1.1 .2 3.6 .2-1 .2 1.7 .2 2.3 .2-5 .2 5.5 .2-2.3 .2-.5 .2 1.7 .2-3.2 .2 .5 .2 2.9 .2-4.3 .2 2.1 .2 1.3 .2-3.4 .2 2 .2 4.7 .2-2.3 .2 1.2 .2-4.8 .2 .3 .2 1.9 .2 5.2 .2-8.6 .2 4.2 .2 2.9 .2 1.6 .2-3.6 .2-6.2 .2 1.3 .2 5.4 .2-.7 .2 1.2 .2-3.8 .2-1.1 .2 .5 .2 9.8 .2-3.4 .2-2.8 .2-2.6 .2 3.4 .2-1.2 .2-1.7 .2 2.7 .2 5.2 .2-4.4 .2-2.5 .2 6.1 .2-2.3 .2 .6 .2-2.8 .2 2.4 .2-3.3 .2 2.1 .2-5 .2 6.2 .2 1.1 .2-2.7 .2 5 .2-10.4 .2 4.4 .2-1 .2-1.9 .2 10.4 .2-9.6 .2 0 .2 .8 .2 2.5 .2 1.2 .2 .2 .2-3.3 .2-.3 .2 3.2 .2-4.4 .2 .8 .2-2.3 .2 6.8 .2-1.2 .2-8.1 .2 .2 .2 8.4 .2-4.5 .2-5.6 .2 6.1 .2 4.8 .2-4.2 .2-1.4 .2 3.3 .2 .4 .2-1.2 .2-4.2 .2 1.3 .2-3.9 .2 3 .2 5.1 .2-3.8 .2 5.2 .2-4.4 .2 .5 .2-1.1 .2 4.8 .2-8.3 .2 3.6 .2-6.4 .2 1.5 .2 3.8 .2 .1 .2 .7 .2-3.3 .2-.2 .2 2 .2-1.8 .2 3 .2-3.4 .2 1 .2-.5 .2 2.4 .2-2.3 .2-.5 .2-2.2 .2 5.3 .2-8.4 .2 6.7 .2 1.7 .2-2.3 .2-1.3 .2 2.7 .2-5.8 .2 4.8 .2 .2 .2-2.5 .2-4.9 .2 6.8 .2 1.8 .2-6.3 .2 5.9 .2 1 .2 1.9 .2-9 .2 10.7 .2-9.4 .2 1.5 .2-1.5 .2-1.9 .2 2.7 .2 4.1 .2 .3 .2-.9 .2-.2 .2 .5 .2 .9 .2-3.7 .2 5 .2-4.8 .2 2.2 .2 .4 .2 0 .2-.3 .2-.3 .2-3.3 .2 9.1 .2-6.9 .2 .1 .2 3.4 .2-2.3 .2 1.6 .2-5 .2 4.3 .2-.3 .2 4.7 .2-3.8 .2-1.6 .2-.9 .2-1 .2 3.6 .2-1.2 .2 2.9 .2-1.5 .2-4.8 .2 3.6 .2 1 .2 2.2 .2-1.4 .2-1.3 .2-3.7 .2-.3 .2 4.2 .2-3.3 .2-.8 .2 .1 .2 4.1 .2-7.2 .2 11.5 .2-6 .2-1.9 .2-4 .2 7.9 .2-4 .2-.8 .2 3.2 .2-1.1 .2-3.9 .2 3.5 .2-2.4 .2 3.1 .2 1.1 .2-4.6 .2-5 .2 13.8 .2-6.3 .2 3.7 .2-5.5 .2 5.6 .2-3.4 .2 3.8 .2-3.7 .2-2.3 .2 1.5 .2-4.2 .2 9.4 .2-1.4 .2 1.7 .2-8.2 .2 2.5 .2-1.5 .2-3.4 .2 1.2 .2 5.9 .2-7.2 .2 4.6 .2 .8 .2-.3 .2 2.5 .2-.9 .2-2.3 .2 2.4 .2-.4 .2-5.3 .2-.6 .2 2.4 .2 2 .2-1.5 .2 1.1 .2-.5 .2-1.9 .2-4.3 .2 12.4 .2-7.6 .2-2.8 .2-.1 .2 5.1 .2-1 .2-4.8 .2 2.3 .2 1 .2 .8 .2-.6 .2 2.7 .2-7.3 .2 3.8 .2-.3 .2-.2 .2 2.8 .2-4.3 .2 8.9 .2-2.1 .2-2.4 .2-.8 .2 2.1 .2-4.6 .2 3.2 .2-1.5 .2 1.1 .2-1.5 .2-1.4 .2 .5 .2-1.9 .2 6.5 .2-5.9 .2 .6 .2 3.6 .2 .7 .2-.1 .2 4.8 .2-6.7 .2 4.9 .2-3.2 .2 6.2 .2-2.9 .2-7.8 .2 3.6 .2 2.3 .2 1.7 .2-1.4 .2 2.1 .2-3.7 .2 2.1 .2 3.9 .2-10.5 .2 3 .2-4.2 .2 8.8 .2-.1 .2-3.2 .2-3.2 .2 3.9 .2-.6 .2-4.6 .2 2.8 .2-2.6 .2 5.2 .2 2.3 .2-5.1 .2 1.4 .2-2.2 .2-.8 .2 2.3 .2-.3 .2 .4 .2-2.1 .2 4.2 .2 .3 .2-3.3 .2 6.8 .2-10.1 .2 .7 .2 10 .2 1 .2-7 .2-4.9 .2 6.9 .2-4.9 .2 1.5 .2 3.7 .2 2.3 .2 4.9 .2-2.9 .2-5.2 .2-2.9 .2 1.6 .2 2.9 .2-3.1 .2 1.1 .2 2 .2-9.1 .2 8.6 .2-2 .2 5.7 .2-2 .2-1.6 .2-5 .2 1.5 .2 1.7 .2 3.5 .2 .6 .2-5.4 .2-1 .2 2.7 .2 2.3 .2 2.1 .2-.8 .2-1.9 .2-2.6 .2 4.5 .2-4.2 .2 2.6 .2-.5 .2-.2 .2 4.3 .2-3.2 .2-4 .2 3 .2 3.4 .2-1.9 .2 1.3 .2 3.4 .2-1.8 .2-4.1 .2-1.6 .2-3.4 .2 7.1 .2 2.9 .2-4.9 .2 3.4 .2 1.7 .2-2.9 .2-.7 .2 .6 .2-4.2 .2 3.8 .2 .2 .2 1.7 .2-7.5 .2 2.8 .2 1 .2 1.2 .2-1.7 .2 .5 .2-1.2 .2-3.7 .2 .9 .2 3.9 .2-3.1 .2-.3 .2 2.2 .2 3.9 .2-5.2 .2 .4 .2 2.7 .2-2.9 .2 2.5 .2 1.4 .2-6.6 .2 1.1 .2 2.3 .2 .6 .2 1.7 .2 .3 .2-3.8 .2 1.6 .2 2.5 .2 .8 .2-6.3 .2 2.8 .2 6.9 .2-6.9 .2 .9 .2-3.3 .2 1.3 .2-2.3 .2 9.9 .2-11 .2 4.6 .2 5.5 .2-6.1 .2-.1 .2 4.3 .2 .6 .2-6.4 .2-.4 .2 2.2 .2 1.9 .2-4.8 .2 6.4 .2-.3 .2-6.9 .2 3.9 .2-.1 .2 6.4 .2 0 .2-8.9 .2-2.2 .2 6.4 .2-3.2 .2 5.2 .2-6.5 .2 6.4 .2-10.3 .2 5.1 .2-.6 .2-2 .2 1.8 .2 9.1 .2-8.9 .2 5.1 .2-9.2 .2 8.9 .2-2.4 .2 1.3 .2-3.6 .2-4 .2 10.6 .2-2.7 .2-.7 .2-6.8 .2 7.8 .2-2.5 .2 .9 .2 1.9 .2-6.3 .2 4.2 .2-3.1 .2 5.1 .2-6 .2-3.3 .2 4.8 .2 9.7 .2-5.5 .2-6.1 .2 .8 .2 3.2 .2 .8 .2-.6 .2-4.6 .2 6.2 .2-3.3 .2 5.5 .2-3.6 .2 2.4 .2-2.1 .2-2.9 .2-2.1 .2 5.7 .2-7.2 .2-2.2 .2 4.7 .2-2.7 .2 6.1 .2 1.4 .2-7.3 .2 3.5 .2 5.7 .2-5.8 .2 .6 .2-4.7 .2 1 .2 1.6 .2 .8 .2 .2 .2-2.7 .2 .5 .2-5.5 .2 6.9 .2 2.8 .2-5.7 .2-.4 .2 3.6 .2-2.6 .2 1 .2-4.4 .2 3 .2-.6 .2 5.5 .2-2 .2-8.1 .2 5.4 .2 7.1 .2-4.8 .2-3.4 .2 .2 .2 .7 .2-2.5 .2 4.1 .2-8.3 .2 9.3 .2-2.3 .2-6.6 .2 4.7 .2-2.3 .2 4.1 .2 .2 .2 .4 .2-3.8 .2 5.3 .2-10.1 .2 5.4 .2 1.5 .2-.5 .2 3.4 .2 .1 .2-8.8 .2 9.2 .2-.2 .2-5.8 .2 5.3 .2-.5 .2 1 .2-1 .2 2.3 .2-10.7 .2 6.3 .2 3.6 .2 .3 .2-3 .2 1.6 .2-5.6 .2-.3 .2 2.9 .2 2.6 .2-2.3 .2 5.4 .2-3.2 .2-2.8 .2 1.5 .2-2.4 .2-2.3 .2 5.7 .2-3.1 .2 .4 .2 1.4 .2-.7 .2-1.3 .2-3.3 .2 4.6 .2-4.8 .2 6.1 .2 3.8 .2-6.2 .2 .7 .2 .2 .2 3.1 .2-5.6 .2 .9 .2-2.1 .2 4 .2-1.7 .2-4.2 .2 4.5 .2 5.1 .2-4.8 .2 2.2 .2-10.6 .2 9.7 .2-3.3 .2-9.4 .2 10.2 .2 2.6 .2 .7 .2-4.5 .2 1 .2 2.4 .2-4.8 .2 3.4 .2-4.7 .2 6 .2-.7 .2-4.2 .2 2.3 .2-2.9 .2 3.7 .2 3 .2-4.3 .2 7.8 .2-1.1 .2 1.1 .2-3.5 .2-2 .2 2.5 .2 3.7 .2-9.9 .2-.2 .2 1.3 .2 .2 .2 4.3 .2 7 .2-13.1 .2 3 .2 .2 .2-.2 .2-2.3 .2 15 .2-9.7 .2-4.6 .2 4.8 .2 .6 .2-2.6 .2 .6 .2 5.1 .2-9.9 .2 7.4 .2 1.3 .2-2.8 .2 .1 .2 3 .2 0 .2-2.2 .2-.2 .2-2.4 .2 4 .2-2.7 .2 3.2 .2-3.7 .2 3.9 .2-3.8 .2 .2 .2-.4 .2 5.6 .2-9.4 .2 1.8 .2 8.2 .2-5.7 .2-1.9 .2-4 .2 5.4 .2-2 .2-2.1 .2 3 .2-.7 .2 2.9 .2 1.7 .2-4.3 .2-1.5 .2 6 .2-9.1 .2 1.8 .2-1.3 .2 8.3 .2-5.3 .2 3.9 .2-1 .2-4.1 .2 2.3 .2-1.1 .2 6.5 .2-9.4 .2 8.2 .2-8.1 .2 5.1 .2-4.7 .2 2 .2 2.2 .2-3.3 .2-3.6 .2-1.4 .2 1.1 .2 .6 .2 6.8 .2-6.3 .2 9.5 .2-4.6 .2 0 .2 4.2 .2-1.5 .2 1.9 .2-7.2 .2 .9 .2-1.1 .2 3.6 .2-.2 .2-5.6 .2 6.5 .2 6.7 .2-4.4 .2-2.1 .2-2.9 .2 6.2 .2-4.9 .2 3.1 .2-1.1 .2 3.5 .2-6.9 .2 .8 .2-2 .2 3.6 .2 .6 .2 2.2 .2-2.4 .2 5 .2-8.3 .2 7.2 .2-6.6 .2-3.6 .2 9.6 .2 2.5 .2-7.6 .2-.2 .2-1.7 .2 3.2 .2-4.2 .2 2.5 .2 2.4 .2-4.9 .2 7.4 .2-1.1 .2-3.6 .2 7.2 .2-6.4 .2 1.2 .2-1.7 .2 6.9 .2-3 .2-3 .2 0 .2-1 .2 6.7 .2-4.3 .2 .6 .2 .5 .2 4.3 .2 1 .2-1.3 .2-4 .2 0 .2 3.1 .2-3.2 .2 .8 .2-.7 .2 2.6 .2-2.8 .2 2.8 .2-1.3 .2 0 .2 .2 .2 5.8 .2-11.8 .2-.1 .2 5.6 .2 1.2 .2-.2 .2 4 .2-3.6 .2-.6 .2 7 .2-7.6 .2 1.8 .2-2.5 .2-1.4 .2 1.9 .2 1.6 .2 .3 .2-.8 .2-1.9 .2 7 .2-6.2 .2 3.8 .2-.7 .2 0 .2-1.6 .2 2 .2 4.5 .2 .7 .2-10.4 .2 0 .2 7.5 .2-1.1 .2-.4 .2-2.7 .2-.6 .2 1.1 .2-1.5 .2 .9 .2 .5 .2 5.2 .2-9.5 .2 6 .2 1.4 .2-4.6 .2 .1 .2-4.7 .2 5.6 .2 2.9 .2 .6 .2 .4 .2-.6 .2-.1 .2-4.2 .2 4.6 .2-3.3 .2 1.1 .2 2.9 .2-5.3 .2 1.8 .2 6 .2-8.9 .2 4.4 .2 .5 .2 4.6 .2-5.7 .2-5.2 .2 4.4 .2 2.2 .2 1.6 .2-11.1 .2 10 .2 4.9 .2-11.9 .2 8.9 .2-3.8 .2 4 .2-4.2 .2 4.2 .2-2.6 .2-2.4 .2 1.2 .2 2 .2-1.2 .2 2.2 .2-2.5 .2-6 .2 4.6 .2-3.3 .2 5.4 .2-.5 .2 1.7 .2 3.7 .2-6.9 .2 5.7 .2-6.9 .2 6 .2-.6 .2-3.6 .2 3.4 .2-.3 .2-1 .2 1.8 .2-6.5 .2 3.6 .2-7.8 .2 6.8 .2-3.5 .2 5.4 .2-4.7 .2 6.7 .2-5.4 .2 6.5" stroke="#00f" stroke-width="1.4" stroke-dasharray="27.8 6"/>
</g>
<circle cx="1493.4" cy="576.6" r="5.1" fill="#f00"/>
<circle cx="1493.4" cy="627.5" r="5.05" fill="none" stroke="#0f0" stroke-width="1.45"/>
<path d="M1493.4 627.5h.01" stroke="#0f0" stroke-width="1.1" stroke-linecap="round"/>
<path d="M1425 678.2H1562" stroke="#f0f" stroke-width="1.3"/>
<path d="M1425 729.2H1562" stroke="#00f" stroke-width="1.3" stroke-dasharray="27.8 13.8"/>
<g fill="none" stroke="#000" stroke-width="2.7" stroke-linejoin="miter">
<rect x="277.7" y="23.1" width="266.1" height="746.3"/>
<rect x="557.45" y="23.1" width="1065.55" height="746.3"/>
</g>
<g fill="#231f20" stroke="#fff" stroke-width="0.5" style="vector-effect:non-scaling-stroke">
<text transform="translate(139.3 36.25) scale(1.0289 1.0450)" font-family="'Liberation Serif', 'DejaVu Serif', serif" font-size="50">-1.05</text>
<text transform="translate(139.28 142.86) scale(1.0378 1.0450)" font-family="'Liberation Serif', 'DejaVu Serif', serif" font-size="50">-1.10</text>
<text transform="translate(139.3 249.48) scale(1.0289 1.0450)" font-family="'Liberation Serif', 'DejaVu Serif', serif" font-size="50">-1.15</text>
<text transform="translate(139.28 356.09) scale(1.0378 1.0450)" font-family="'Liberation Serif', 'DejaVu Serif', serif" font-size="50">-1.20</text>
<text transform="translate(139.3 462.71) scale(1.0289 1.0450)" font-family="'Liberation Serif', 'DejaVu Serif', serif" font-size="50">-1.25</text>
<text transform="translate(139.28 569.32) scale(1.0378 1.0450)" font-family="'Liberation Serif', 'DejaVu Serif', serif" font-size="50">-1.30</text>
<text transform="translate(139.3 675.94) scale(1.0289 1.0450)" font-family="'Liberation Serif', 'DejaVu Serif', serif" font-size="50">-1.35</text>
<text transform="translate(139.28 782.55) scale(1.0378 1.0450)" font-family="'Liberation Serif', 'DejaVu Serif', serif" font-size="50">-1.40</text>
<text transform="translate(298.73 832.95) scale(1.0359 1.0450)" font-family="'Liberation Serif', 'DejaVu Serif', serif" font-size="50">0.00</text>
<text transform="translate(431.77 832.95) scale(1.0133 1.0450)" font-family="'Liberation Serif', 'DejaVu Serif', serif" font-size="50">0.01</text>
<text transform="translate(529.3 832.95) scale(1.0256 1.0450)" font-family="'Liberation Serif', 'DejaVu Serif', serif" font-size="50">0.0</text>
<text transform="translate(635.47 832.95) scale(1.0154 1.0450)" font-family="'Liberation Serif', 'DejaVu Serif', serif" font-size="50">0.5</text>
<text transform="translate(741.32 832.95) scale(1.0304 1.0450)" font-family="'Liberation Serif', 'DejaVu Serif', serif" font-size="50">1.0</text>
<text transform="translate(847.53 832.95) scale(1.0196 1.0450)" font-family="'Liberation Serif', 'DejaVu Serif', serif" font-size="50">1.5</text>
<text transform="translate(954.17 832.95) scale(1.0215 1.0450)" font-family="'Liberation Serif', 'DejaVu Serif', serif" font-size="50">2.0</text>
<text transform="translate(1060.35 832.95) scale(1.0112 1.0450)" font-family="'Liberation Serif', 'DejaVu Serif', serif" font-size="50">2.5</text>
<text transform="translate(1165.8 832.95) scale(1.0328 1.0450)" font-family="'Liberation Serif', 'DejaVu Serif', serif" font-size="50">3.0</text>
<text transform="translate(1271.98 832.95) scale(1.0224 1.0450)" font-family="'Liberation Serif', 'DejaVu Serif', serif" font-size="50">3.5</text>
<text transform="translate(1378.97 832.95) scale(1.0185 1.0450)" font-family="'Liberation Serif', 'DejaVu Serif', serif" font-size="50">4.0</text>
<text transform="translate(1485.14 832.95) scale(1.0084 1.0450)" font-family="'Liberation Serif', 'DejaVu Serif', serif" font-size="50">4.5</text>
<text transform="translate(1590.3 832.95) scale(1.0348 1.0450)" font-family="'Liberation Serif', 'DejaVu Serif', serif" font-size="50">5.0</text>
<text transform="translate(709.4 910.55) scale(1.0546 1.0000)" font-family="'Liberation Serif', 'DejaVu Serif', serif" font-size="52.2">Time</text>
<text transform="translate(839.03 909.73) scale(1.1440 1.1404)" font-family="'Liberation Serif', 'DejaVu Serif', serif" font-size="50" font-style="italic">t</text>
<text transform="translate(877.26 910.58) scale(0.9961 1.1067)" font-family="'Liberation Serif', 'DejaVu Serif', serif" font-size="50">(</text>
<text transform="translate(894.36 910.55) scale(1.0092 1.0450)" font-family="'Liberation Serif', 'DejaVu Serif', serif" font-size="50">10</text>
<text transform="translate(944.54 891.35) scale(1.0722 1.0000)" font-family="'Liberation Serif', 'DejaVu Serif', serif" font-size="35.5">4</text>
<text transform="translate(985.27 910.55) scale(1.0564 1.0000)" font-family="'Liberation Serif', 'DejaVu Serif', serif" font-size="52.2">units</text>
<text transform="translate(1108.82 910.55) scale(0.9952 1.0000)" font-family="'Liberation Serif', 'DejaVu Serif', serif" font-size="52.2">of</text>
<text transform="translate(1166.41 909.73) scale(1.1520 1.1404)" font-family="'Liberation Serif', 'DejaVu Serif', serif" font-size="50" font-style="italic">t</text>
<text transform="translate(1187.2 917.95) scale(1.0168 1.0000)" font-family="'Liberation Serif', 'DejaVu Serif', serif" font-size="36" font-style="italic">p</text>
<text transform="translate(1208.05 910.58) scale(0.9692 1.1067)" font-family="'Liberation Serif', 'DejaVu Serif', serif" font-size="50">)</text>
<text transform="translate(986.82 419.95) scale(1.1277 1.0000)" font-family="'Liberation Serif', 'DejaVu Serif', serif" font-size="52.2" font-weight="bold" stroke-width="1.1">Potential</text>
<text transform="translate(1232.57 419.95) scale(1.1131 1.0000)" font-family="'Liberation Serif', 'DejaVu Serif', serif" font-size="52.2" font-weight="bold" stroke-width="1.1">energy</text>
<text transform="translate(815.69 588.95) scale(1.0301 1.0000)" font-family="'Liberation Serif', 'DejaVu Serif', serif" font-size="52.2">Electrons</text>
<text transform="translate(1037.87 588.98) scale(0.9020 1.1067)" font-family="'Liberation Serif', 'DejaVu Serif', serif" font-size="50">(</text>
<text transform="translate(1056.39 588.95) scale(1.0361 1.0000)" font-family="'Liberation Serif', 'DejaVu Serif', serif" font-size="52.2">plasma</text>
<text transform="translate(1224.47 588.95) scale(1.0666 1.0000)" font-family="'Liberation Serif', 'DejaVu Serif', serif" font-size="52.2">e</text>
<text transform="translate(1246.72 577.23) scale(0.7776 1.0498)" font-family="'DejaVu Sans Light', 'DejaVu Sans', sans-serif" font-weight="200" font-size="50" stroke="none">−</text>
<text transform="translate(1278.12 593.6) scale(1.0624 1.0624)" font-family="'DejaVu Sans Light', 'DejaVu Sans', sans-serif" font-weight="200" font-size="50">+</text>
<text transform="translate(1318.71 588.95) scale(1.0511 1.0000)" font-family="'Liberation Serif', 'DejaVu Serif', serif" font-size="52.2">e</text>
<text transform="translate(1339.26 574.2) scale(0.8448 0.8448)" font-family="'DejaVu Sans Light', 'DejaVu Sans', sans-serif" font-weight="200" font-size="50" stroke="none">+</text>
<text transform="translate(1376.49 588.98) scale(0.9385 1.1067)" font-family="'Liberation Serif', 'DejaVu Serif', serif" font-size="50">)</text>
<text transform="translate(816.67 639.95) scale(1.0404 1.0000)" font-family="'Liberation Serif', 'DejaVu Serif', serif" font-size="52.2">Positrons</text>
<text transform="translate(1037.87 639.98) scale(0.9020 1.1067)" font-family="'Liberation Serif', 'DejaVu Serif', serif" font-size="50">(</text>
<text transform="translate(1056.39 639.95) scale(1.0361 1.0000)" font-family="'Liberation Serif', 'DejaVu Serif', serif" font-size="52.2">plasma</text>
<text transform="translate(1224.47 639.95) scale(1.0666 1.0000)" font-family="'Liberation Serif', 'DejaVu Serif', serif" font-size="52.2">e</text>
<text transform="translate(1246.72 628.23) scale(0.7776 1.0498)" font-family="'DejaVu Sans Light', 'DejaVu Sans', sans-serif" font-weight="200" font-size="50" stroke="none">−</text>
<text transform="translate(1278.12 644.6) scale(1.0624 1.0624)" font-family="'DejaVu Sans Light', 'DejaVu Sans', sans-serif" font-weight="200" font-size="50">+</text>
<text transform="translate(1318.71 639.95) scale(1.0511 1.0000)" font-family="'Liberation Serif', 'DejaVu Serif', serif" font-size="52.2">e</text>
<text transform="translate(1339.26 625.2) scale(0.8448 0.8448)" font-family="'DejaVu Sans Light', 'DejaVu Sans', sans-serif" font-weight="200" font-size="50" stroke="none">+</text>
<text transform="translate(1376.49 639.98) scale(0.9385 1.1067)" font-family="'Liberation Serif', 'DejaVu Serif', serif" font-size="50">)</text>
<text transform="translate(799.58 691.15) scale(1.0327 1.0000)" font-family="'Liberation Serif', 'DejaVu Serif', serif" font-size="52.2">Electrons</text>
<text transform="translate(1022.65 691.18) scale(0.9098 1.1067)" font-family="'Liberation Serif', 'DejaVu Serif', serif" font-size="50">(</text>
<text transform="translate(1041.19 691.15) scale(1.0340 1.0000)" font-family="'Liberation Serif', 'DejaVu Serif', serif" font-size="52.2">plasma</text>
<text transform="translate(1209.52 691.15) scale(1.0925 1.0000)" font-family="'Liberation Serif', 'DejaVu Serif', serif" font-size="52.2">e</text>
<text transform="translate(1231.92 679.43) scale(0.7776 1.0498)" font-family="'DejaVu Sans Light', 'DejaVu Sans', sans-serif" font-weight="200" font-size="50" stroke="none">−</text>
<text transform="translate(1263.37 695.8) scale(1.0624 1.0624)" font-family="'DejaVu Sans Light', 'DejaVu Sans', sans-serif" font-weight="200" font-size="50">+</text>
<text transform="translate(1304.64 691.15) scale(0.9967 1.0000)" font-family="'Liberation Serif', 'DejaVu Serif', serif" font-size="52.2">H</text>
<text transform="translate(1339.76 676.4) scale(0.8448 0.8448)" font-family="'DejaVu Sans Light', 'DejaVu Sans', sans-serif" font-weight="200" font-size="50" stroke="none">+</text>
<text transform="translate(1376.49 691.18) scale(0.9385 1.1067)" font-family="'Liberation Serif', 'DejaVu Serif', serif" font-size="50">)</text>
<text transform="translate(826.36 742.05) scale(1.0066 1.0000)" font-family="'Liberation Serif', 'DejaVu Serif', serif" font-size="52.2">Ions</text>
<text transform="translate(934.48 742.05) scale(0.9737 1.0000)" font-family="'Liberation Serif', 'DejaVu Serif', serif" font-size="52.2">H</text>
<text transform="translate(969.01 727.3) scale(0.8448 0.8448)" font-family="'DejaVu Sans Light', 'DejaVu Sans', sans-serif" font-weight="200" font-size="50" stroke="none">+</text>
<text transform="translate(1022.65 742.08) scale(0.9098 1.1067)" font-family="'Liberation Serif', 'DejaVu Serif', serif" font-size="50">(</text>
<text transform="translate(1041.19 742.05) scale(1.0340 1.0000)" font-family="'Liberation Serif', 'DejaVu Serif', serif" font-size="52.2">plasma</text>
<text transform="translate(1209.52 742.05) scale(1.0925 1.0000)" font-family="'Liberation Serif', 'DejaVu Serif', serif" font-size="52.2">e</text>
<text transform="translate(1231.92 730.33) scale(0.7776 1.0498)" font-family="'DejaVu Sans Light', 'DejaVu Sans', sans-serif" font-weight="200" font-size="50" stroke="none">−</text>
<text transform="translate(1263.37 746.7) scale(1.0624 1.0624)" font-family="'DejaVu Sans Light', 'DejaVu Sans', sans-serif" font-weight="200" font-size="50">+</text>
<text transform="translate(1304.64 742.05) scale(0.9967 1.0000)" font-family="'Liberation Serif', 'DejaVu Serif', serif" font-size="52.2">H</text>
<text transform="translate(1339.76 727.3) scale(0.8448 0.8448)" font-family="'DejaVu Sans Light', 'DejaVu Sans', sans-serif" font-weight="200" font-size="50" stroke="none">+</text>
<text transform="translate(1376.49 742.08) scale(0.9385 1.1067)" font-family="'Liberation Serif', 'DejaVu Serif', serif" font-size="50">)</text>
<g transform="rotate(-90)">
<text transform="translate(-462.21 81.37) scale(1.0277 0.9509) skewX(-14)" font-family="'DejaVu Math TeX Gyre', 'DejaVu Sans', serif" font-size="50">ℰ</text>
<text transform="translate(-429.14 90.1) scale(0.8189 0.6853)" font-family="'Liberation Serif', 'DejaVu Serif', serif" font-size="50" font-style="italic">p</text>
<text transform="translate(-404.8 92.86) scale(1.3745 1.4827)" font-family="'Liberation Serif', 'DejaVu Serif', serif" font-size="50">/</text>
<text transform="translate(-386.71 81.37) scale(1.0277 0.9509) skewX(-14)" font-family="'DejaVu Math TeX Gyre', 'DejaVu Sans', serif" font-size="50">ℰ</text>
<text transform="translate(-359.53 90.32) scale(0.9667 0.7526)" font-family="'Liberation Serif', 'DejaVu Serif', serif" font-size="50">0</text>
</g>
</g>
</svg>
</body>
</html>
